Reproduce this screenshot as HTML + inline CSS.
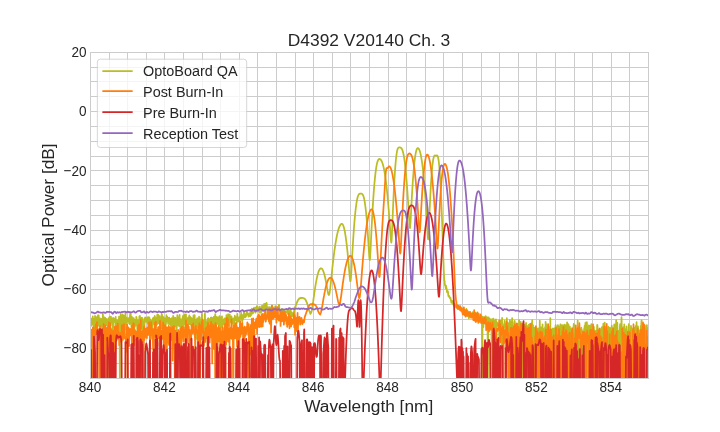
<!DOCTYPE html>
<html><head><meta charset="utf-8"><title>D4392 V20140 Ch. 3</title>
<style>html,body{margin:0;padding:0;background:#fff;overflow:hidden;}svg{display:block;}</style>
</head><body>
<svg width="720" height="432" viewBox="0 0 720 432" version="1.1">

 <defs>
  <style type="text/css">*{stroke-linejoin: round; stroke-linecap: butt}</style>
 </defs>
 <g id="figure_1">
  <g id="patch_1">
   <path d="M 0 432
L 720 432
L 720 0
L 0 0
z
" style="fill: #ffffff"/>
  </g>
  <g id="axes_1">
   <g id="patch_2">
    <path d="M 90 378
L 648 378
L 648 51.84
L 90 51.84
z
" style="fill: #ffffff"/>
   </g>
   <g id="matplotlib.axis_1">
    <g id="xtick_1">
     <g id="line2d_1">
      <path d="M 90.5 378.5 L 90.5 52.5" clip-path="url(#p30c51ce82e)" style="fill: none; stroke: #cccccc; stroke-linecap: round"/>
     </g>
     <g id="line2d_2"/>
     <g id="text_1">
      <text style="font-size: 14px; font-family: 'Liberation Sans', Arial, sans-serif; text-anchor: middle; fill: #262626" x="90" y="391.65" transform="translate(90.00 391.65) rotate(-0) scale(0.97 1.1) translate(-90.00 -391.65)">840</text>
     </g>
    </g>
    <g id="xtick_2">
     <g id="line2d_3">
      <path d="M 164.5 378.5 L 164.5 52.5" clip-path="url(#p30c51ce82e)" style="fill: none; stroke: #cccccc; stroke-linecap: round"/>
     </g>
     <g id="line2d_4"/>
     <g id="text_2">
      <text style="font-size: 14px; font-family: 'Liberation Sans', Arial, sans-serif; text-anchor: middle; fill: #262626" x="164.4" y="391.65" transform="translate(164.40 391.65) rotate(-0) scale(0.97 1.1) translate(-164.40 -391.65)">842</text>
     </g>
    </g>
    <g id="xtick_3">
     <g id="line2d_5">
      <path d="M 239.5 378.5 L 239.5 52.5" clip-path="url(#p30c51ce82e)" style="fill: none; stroke: #cccccc; stroke-linecap: round"/>
     </g>
     <g id="line2d_6"/>
     <g id="text_3">
      <text style="font-size: 14px; font-family: 'Liberation Sans', Arial, sans-serif; text-anchor: middle; fill: #262626" x="238.8" y="391.65" transform="translate(238.80 391.65) rotate(-0) scale(0.97 1.1) translate(-238.80 -391.65)">844</text>
     </g>
    </g>
    <g id="xtick_4">
     <g id="line2d_7">
      <path d="M 313.5 378.5 L 313.5 52.5" clip-path="url(#p30c51ce82e)" style="fill: none; stroke: #cccccc; stroke-linecap: round"/>
     </g>
     <g id="line2d_8"/>
     <g id="text_4">
      <text style="font-size: 14px; font-family: 'Liberation Sans', Arial, sans-serif; text-anchor: middle; fill: #262626" x="313.2" y="391.65" transform="translate(313.20 391.65) rotate(-0) scale(0.97 1.1) translate(-313.20 -391.65)">846</text>
     </g>
    </g>
    <g id="xtick_5">
     <g id="line2d_9">
      <path d="M 388.5 378.5 L 388.5 52.5" clip-path="url(#p30c51ce82e)" style="fill: none; stroke: #cccccc; stroke-linecap: round"/>
     </g>
     <g id="line2d_10"/>
     <g id="text_5">
      <text style="font-size: 14px; font-family: 'Liberation Sans', Arial, sans-serif; text-anchor: middle; fill: #262626" x="387.6" y="391.65" transform="translate(387.60 391.65) rotate(-0) scale(0.97 1.1) translate(-387.60 -391.65)">848</text>
     </g>
    </g>
    <g id="xtick_6">
     <g id="line2d_11">
      <path d="M 462.5 378.5 L 462.5 52.5" clip-path="url(#p30c51ce82e)" style="fill: none; stroke: #cccccc; stroke-linecap: round"/>
     </g>
     <g id="line2d_12"/>
     <g id="text_6">
      <text style="font-size: 14px; font-family: 'Liberation Sans', Arial, sans-serif; text-anchor: middle; fill: #262626" x="462" y="391.65" transform="translate(462.00 391.65) rotate(-0) scale(0.97 1.1) translate(-462.00 -391.65)">850</text>
     </g>
    </g>
    <g id="xtick_7">
     <g id="line2d_13">
      <path d="M 536.5 378.5 L 536.5 52.5" clip-path="url(#p30c51ce82e)" style="fill: none; stroke: #cccccc; stroke-linecap: round"/>
     </g>
     <g id="line2d_14"/>
     <g id="text_7">
      <text style="font-size: 14px; font-family: 'Liberation Sans', Arial, sans-serif; text-anchor: middle; fill: #262626" x="536.4" y="391.65" transform="translate(536.40 391.65) rotate(-0) scale(0.97 1.1) translate(-536.40 -391.65)">852</text>
     </g>
    </g>
    <g id="xtick_8">
     <g id="line2d_15">
      <path d="M 611.5 378.5 L 611.5 52.5" clip-path="url(#p30c51ce82e)" style="fill: none; stroke: #cccccc; stroke-linecap: round"/>
     </g>
     <g id="line2d_16"/>
     <g id="text_8">
      <text style="font-size: 14px; font-family: 'Liberation Sans', Arial, sans-serif; text-anchor: middle; fill: #262626" x="610.8" y="391.65" transform="translate(610.80 391.65) rotate(-0) scale(0.97 1.1) translate(-610.80 -391.65)">854</text>
     </g>
    </g>
    <g id="xtick_9">
     <g id="line2d_17">
      <path d="M 109.5 378.5 L 109.5 52.5" clip-path="url(#p30c51ce82e)" style="fill: none; stroke: #cccccc; stroke-linecap: round"/>
     </g>
     <g id="line2d_18"/>
    </g>
    <g id="xtick_10">
     <g id="line2d_19">
      <path d="M 127.5 378.5 L 127.5 52.5" clip-path="url(#p30c51ce82e)" style="fill: none; stroke: #cccccc; stroke-linecap: round"/>
     </g>
     <g id="line2d_20"/>
    </g>
    <g id="xtick_11">
     <g id="line2d_21">
      <path d="M 146.5 378.5 L 146.5 52.5" clip-path="url(#p30c51ce82e)" style="fill: none; stroke: #cccccc; stroke-linecap: round"/>
     </g>
     <g id="line2d_22"/>
    </g>
    <g id="xtick_12">
     <g id="line2d_23">
      <path d="M 183.5 378.5 L 183.5 52.5" clip-path="url(#p30c51ce82e)" style="fill: none; stroke: #cccccc; stroke-linecap: round"/>
     </g>
     <g id="line2d_24"/>
    </g>
    <g id="xtick_13">
     <g id="line2d_25">
      <path d="M 202.5 378.5 L 202.5 52.5" clip-path="url(#p30c51ce82e)" style="fill: none; stroke: #cccccc; stroke-linecap: round"/>
     </g>
     <g id="line2d_26"/>
    </g>
    <g id="xtick_14">
     <g id="line2d_27">
      <path d="M 220.5 378.5 L 220.5 52.5" clip-path="url(#p30c51ce82e)" style="fill: none; stroke: #cccccc; stroke-linecap: round"/>
     </g>
     <g id="line2d_28"/>
    </g>
    <g id="xtick_15">
     <g id="line2d_29">
      <path d="M 257.5 378.5 L 257.5 52.5" clip-path="url(#p30c51ce82e)" style="fill: none; stroke: #cccccc; stroke-linecap: round"/>
     </g>
     <g id="line2d_30"/>
    </g>
    <g id="xtick_16">
     <g id="line2d_31">
      <path d="M 276.5 378.5 L 276.5 52.5" clip-path="url(#p30c51ce82e)" style="fill: none; stroke: #cccccc; stroke-linecap: round"/>
     </g>
     <g id="line2d_32"/>
    </g>
    <g id="xtick_17">
     <g id="line2d_33">
      <path d="M 295.5 378.5 L 295.5 52.5" clip-path="url(#p30c51ce82e)" style="fill: none; stroke: #cccccc; stroke-linecap: round"/>
     </g>
     <g id="line2d_34"/>
    </g>
    <g id="xtick_18">
     <g id="line2d_35">
      <path d="M 332.5 378.5 L 332.5 52.5" clip-path="url(#p30c51ce82e)" style="fill: none; stroke: #cccccc; stroke-linecap: round"/>
     </g>
     <g id="line2d_36"/>
    </g>
    <g id="xtick_19">
     <g id="line2d_37">
      <path d="M 350.5 378.5 L 350.5 52.5" clip-path="url(#p30c51ce82e)" style="fill: none; stroke: #cccccc; stroke-linecap: round"/>
     </g>
     <g id="line2d_38"/>
    </g>
    <g id="xtick_20">
     <g id="line2d_39">
      <path d="M 369.5 378.5 L 369.5 52.5" clip-path="url(#p30c51ce82e)" style="fill: none; stroke: #cccccc; stroke-linecap: round"/>
     </g>
     <g id="line2d_40"/>
    </g>
    <g id="xtick_21">
     <g id="line2d_41">
      <path d="M 406.5 378.5 L 406.5 52.5" clip-path="url(#p30c51ce82e)" style="fill: none; stroke: #cccccc; stroke-linecap: round"/>
     </g>
     <g id="line2d_42"/>
    </g>
    <g id="xtick_22">
     <g id="line2d_43">
      <path d="M 425.5 378.5 L 425.5 52.5" clip-path="url(#p30c51ce82e)" style="fill: none; stroke: #cccccc; stroke-linecap: round"/>
     </g>
     <g id="line2d_44"/>
    </g>
    <g id="xtick_23">
     <g id="line2d_45">
      <path d="M 443.5 378.5 L 443.5 52.5" clip-path="url(#p30c51ce82e)" style="fill: none; stroke: #cccccc; stroke-linecap: round"/>
     </g>
     <g id="line2d_46"/>
    </g>
    <g id="xtick_24">
     <g id="line2d_47">
      <path d="M 481.5 378.5 L 481.5 52.5" clip-path="url(#p30c51ce82e)" style="fill: none; stroke: #cccccc; stroke-linecap: round"/>
     </g>
     <g id="line2d_48"/>
    </g>
    <g id="xtick_25">
     <g id="line2d_49">
      <path d="M 499.5 378.5 L 499.5 52.5" clip-path="url(#p30c51ce82e)" style="fill: none; stroke: #cccccc; stroke-linecap: round"/>
     </g>
     <g id="line2d_50"/>
    </g>
    <g id="xtick_26">
     <g id="line2d_51">
      <path d="M 518.5 378.5 L 518.5 52.5" clip-path="url(#p30c51ce82e)" style="fill: none; stroke: #cccccc; stroke-linecap: round"/>
     </g>
     <g id="line2d_52"/>
    </g>
    <g id="xtick_27">
     <g id="line2d_53">
      <path d="M 555.5 378.5 L 555.5 52.5" clip-path="url(#p30c51ce82e)" style="fill: none; stroke: #cccccc; stroke-linecap: round"/>
     </g>
     <g id="line2d_54"/>
    </g>
    <g id="xtick_28">
     <g id="line2d_55">
      <path d="M 574.5 378.5 L 574.5 52.5" clip-path="url(#p30c51ce82e)" style="fill: none; stroke: #cccccc; stroke-linecap: round"/>
     </g>
     <g id="line2d_56"/>
    </g>
    <g id="xtick_29">
     <g id="line2d_57">
      <path d="M 592.5 378.5 L 592.5 52.5" clip-path="url(#p30c51ce82e)" style="fill: none; stroke: #cccccc; stroke-linecap: round"/>
     </g>
     <g id="line2d_58"/>
    </g>
    <g id="xtick_30">
     <g id="line2d_59">
      <path d="M 629.5 378.5 L 629.5 52.5" clip-path="url(#p30c51ce82e)" style="fill: none; stroke: #cccccc; stroke-linecap: round"/>
     </g>
     <g id="line2d_60"/>
    </g>
    <g id="xtick_31">
     <g id="line2d_61">
      <path d="M 648.5 378.5 L 648.5 52.5" clip-path="url(#p30c51ce82e)" style="fill: none; stroke: #cccccc; stroke-linecap: round"/>
     </g>
     <g id="line2d_62"/>
    </g>
    <g id="text_9">
     <text style="font-size: 17.3px; font-family: 'Liberation Sans', Arial, sans-serif; text-anchor: middle; fill: #262626" x="368.70" y="411.89" transform="rotate(-0 368.70 411.89)">Wavelength [nm]</text>
    </g>
   </g>
   <g id="matplotlib.axis_2">
    <g id="ytick_1">
     <g id="line2d_63">
      <path d="M 90.5 348.5 L 648.5 348.5" clip-path="url(#p30c51ce82e)" style="fill: none; stroke: #cccccc; stroke-linecap: round"/>
     </g>
     <g id="line2d_64"/>
     <g id="text_10">
      <text style="font-size: 14px; font-family: 'Liberation Sans', Arial, sans-serif; text-anchor: end; fill: #262626" x="86.5" y="353.42" transform="translate(86.50 353.42) rotate(-0) scale(0.97 1.1) translate(-86.50 -353.42)">−80</text>
     </g>
    </g>
    <g id="ytick_2">
     <g id="line2d_65">
      <path d="M 90.5 289.5 L 648.5 289.5" clip-path="url(#p30c51ce82e)" style="fill: none; stroke: #cccccc; stroke-linecap: round"/>
     </g>
     <g id="line2d_66"/>
     <g id="text_11">
      <text style="font-size: 14px; font-family: 'Liberation Sans', Arial, sans-serif; text-anchor: end; fill: #262626" x="86.5" y="294.12" transform="translate(86.50 294.12) rotate(-0) scale(0.97 1.1) translate(-86.50 -294.12)">−60</text>
     </g>
    </g>
    <g id="ytick_3">
     <g id="line2d_67">
      <path d="M 90.5 230.5 L 648.5 230.5" clip-path="url(#p30c51ce82e)" style="fill: none; stroke: #cccccc; stroke-linecap: round"/>
     </g>
     <g id="line2d_68"/>
     <g id="text_12">
      <text style="font-size: 14px; font-family: 'Liberation Sans', Arial, sans-serif; text-anchor: end; fill: #262626" x="86.5" y="234.82" transform="translate(86.50 234.82) rotate(-0) scale(0.97 1.1) translate(-86.50 -234.82)">−40</text>
     </g>
    </g>
    <g id="ytick_4">
     <g id="line2d_69">
      <path d="M 90.5 170.5 L 648.5 170.5" clip-path="url(#p30c51ce82e)" style="fill: none; stroke: #cccccc; stroke-linecap: round"/>
     </g>
     <g id="line2d_70"/>
     <g id="text_13">
      <text style="font-size: 14px; font-family: 'Liberation Sans', Arial, sans-serif; text-anchor: end; fill: #262626" x="86.5" y="175.52" transform="translate(86.50 175.52) rotate(-0) scale(0.97 1.1) translate(-86.50 -175.52)">−20</text>
     </g>
    </g>
    <g id="ytick_5">
     <g id="line2d_71">
      <path d="M 90.5 111.5 L 648.5 111.5" clip-path="url(#p30c51ce82e)" style="fill: none; stroke: #cccccc; stroke-linecap: round"/>
     </g>
     <g id="line2d_72"/>
     <g id="text_14">
      <text style="font-size: 14px; font-family: 'Liberation Sans', Arial, sans-serif; text-anchor: end; fill: #262626" x="86.5" y="116.21" transform="translate(86.50 116.21) rotate(-0) scale(0.97 1.1) translate(-86.50 -116.21)">0</text>
     </g>
    </g>
    <g id="ytick_6">
     <g id="line2d_73">
      <path d="M 90.5 52.5 L 648.5 52.5" clip-path="url(#p30c51ce82e)" style="fill: none; stroke: #cccccc; stroke-linecap: round"/>
     </g>
     <g id="line2d_74"/>
     <g id="text_15">
      <text style="font-size: 14px; font-family: 'Liberation Sans', Arial, sans-serif; text-anchor: end; fill: #262626" x="86.5" y="56.91" transform="translate(86.50 56.91) rotate(-0) scale(0.97 1.1) translate(-86.50 -56.91)">20</text>
     </g>
    </g>
    <g id="ytick_7">
     <g id="line2d_75">
      <path d="M 90.5 378.5 L 648.5 378.5" clip-path="url(#p30c51ce82e)" style="fill: none; stroke: #cccccc; stroke-linecap: round"/>
     </g>
     <g id="line2d_76"/>
    </g>
    <g id="ytick_8">
     <g id="line2d_77">
      <path d="M 90.5 363.5 L 648.5 363.5" clip-path="url(#p30c51ce82e)" style="fill: none; stroke: #cccccc; stroke-linecap: round"/>
     </g>
     <g id="line2d_78"/>
    </g>
    <g id="ytick_9">
     <g id="line2d_79">
      <path d="M 90.5 334.5 L 648.5 334.5" clip-path="url(#p30c51ce82e)" style="fill: none; stroke: #cccccc; stroke-linecap: round"/>
     </g>
     <g id="line2d_80"/>
    </g>
    <g id="ytick_10">
     <g id="line2d_81">
      <path d="M 90.5 319.5 L 648.5 319.5" clip-path="url(#p30c51ce82e)" style="fill: none; stroke: #cccccc; stroke-linecap: round"/>
     </g>
     <g id="line2d_82"/>
    </g>
    <g id="ytick_11">
     <g id="line2d_83">
      <path d="M 90.5 304.5 L 648.5 304.5" clip-path="url(#p30c51ce82e)" style="fill: none; stroke: #cccccc; stroke-linecap: round"/>
     </g>
     <g id="line2d_84"/>
    </g>
    <g id="ytick_12">
     <g id="line2d_85">
      <path d="M 90.5 274.5 L 648.5 274.5" clip-path="url(#p30c51ce82e)" style="fill: none; stroke: #cccccc; stroke-linecap: round"/>
     </g>
     <g id="line2d_86"/>
    </g>
    <g id="ytick_13">
     <g id="line2d_87">
      <path d="M 90.5 259.5 L 648.5 259.5" clip-path="url(#p30c51ce82e)" style="fill: none; stroke: #cccccc; stroke-linecap: round"/>
     </g>
     <g id="line2d_88"/>
    </g>
    <g id="ytick_14">
     <g id="line2d_89">
      <path d="M 90.5 245.5 L 648.5 245.5" clip-path="url(#p30c51ce82e)" style="fill: none; stroke: #cccccc; stroke-linecap: round"/>
     </g>
     <g id="line2d_90"/>
    </g>
    <g id="ytick_15">
     <g id="line2d_91">
      <path d="M 90.5 215.5 L 648.5 215.5" clip-path="url(#p30c51ce82e)" style="fill: none; stroke: #cccccc; stroke-linecap: round"/>
     </g>
     <g id="line2d_92"/>
    </g>
    <g id="ytick_16">
     <g id="line2d_93">
      <path d="M 90.5 200.5 L 648.5 200.5" clip-path="url(#p30c51ce82e)" style="fill: none; stroke: #cccccc; stroke-linecap: round"/>
     </g>
     <g id="line2d_94"/>
    </g>
    <g id="ytick_17">
     <g id="line2d_95">
      <path d="M 90.5 185.5 L 648.5 185.5" clip-path="url(#p30c51ce82e)" style="fill: none; stroke: #cccccc; stroke-linecap: round"/>
     </g>
     <g id="line2d_96"/>
    </g>
    <g id="ytick_18">
     <g id="line2d_97">
      <path d="M 90.5 156.5 L 648.5 156.5" clip-path="url(#p30c51ce82e)" style="fill: none; stroke: #cccccc; stroke-linecap: round"/>
     </g>
     <g id="line2d_98"/>
    </g>
    <g id="ytick_19">
     <g id="line2d_99">
      <path d="M 90.5 141.5 L 648.5 141.5" clip-path="url(#p30c51ce82e)" style="fill: none; stroke: #cccccc; stroke-linecap: round"/>
     </g>
     <g id="line2d_100"/>
    </g>
    <g id="ytick_20">
     <g id="line2d_101">
      <path d="M 90.5 126.5 L 648.5 126.5" clip-path="url(#p30c51ce82e)" style="fill: none; stroke: #cccccc; stroke-linecap: round"/>
     </g>
     <g id="line2d_102"/>
    </g>
    <g id="ytick_21">
     <g id="line2d_103">
      <path d="M 90.5 96.5 L 648.5 96.5" clip-path="url(#p30c51ce82e)" style="fill: none; stroke: #cccccc; stroke-linecap: round"/>
     </g>
     <g id="line2d_104"/>
    </g>
    <g id="ytick_22">
     <g id="line2d_105">
      <path d="M 90.5 81.5 L 648.5 81.5" clip-path="url(#p30c51ce82e)" style="fill: none; stroke: #cccccc; stroke-linecap: round"/>
     </g>
     <g id="line2d_106"/>
    </g>
    <g id="ytick_23">
     <g id="line2d_107">
      <path d="M 90.5 67.5 L 648.5 67.5" clip-path="url(#p30c51ce82e)" style="fill: none; stroke: #cccccc; stroke-linecap: round"/>
     </g>
     <g id="line2d_108"/>
    </g>
    <g id="text_16">
     <text style="font-size: 17.3px; font-family: 'Liberation Sans', Arial, sans-serif; text-anchor: middle; fill: #262626" x="54.06" y="214.92" transform="rotate(-90 54.06 214.92)">Optical Power [dB]</text>
    </g>
   </g>
   <g id="line2d_109">
    <path d="M 90 321.31
L 90.28 319.24
L 90.56 324.25
L 90.84 326.09
L 91.12 322.29
L 91.39 318.72
L 91.67 321.11
L 91.95 323.07
L 92.23 323
L 92.51 324.78
L 92.79 316.44
L 93.07 320.82
L 93.35 322.25
L 93.63 318.52
L 93.91 327
L 94.19 320.85
L 94.46 325.81
L 94.74 330.36
L 95.02 315.84
L 95.3 318.85
L 95.58 320.87
L 95.86 319.49
L 96.14 323.01
L 96.42 323.81
L 96.7 317.03
L 96.97 318.94
L 97.25 328.98
L 97.53 325.69
L 97.81 316.11
L 98.09 315.05
L 98.37 323.49
L 98.65 315.33
L 98.93 319.07
L 99.21 325.79
L 99.49 326.03
L 99.77 320.92
L 100.04 318.33
L 100.32 323.6
L 100.6 323.43
L 100.88 325.6
L 101.16 326.89
L 101.44 322.81
L 101.72 318.89
L 102 320.7
L 102.28 320.6
L 102.56 328.27
L 102.83 313.79
L 103.11 317.5
L 103.39 323.82
L 103.67 324.92
L 103.95 319.19
L 104.23 322.89
L 104.51 317.44
L 104.79 322.66
L 105.07 317.63
L 105.34 325.62
L 105.62 321.23
L 105.9 323.52
L 106.18 323.75
L 106.46 325.2
L 106.74 318.78
L 107.02 324.04
L 107.3 325.57
L 107.58 324.5
L 107.86 392.83
L 108.14 321.73
L 108.41 326.13
L 108.69 318.48
L 108.97 318.09
L 109.25 318.06
L 109.53 316.92
L 109.81 320.01
L 110.09 329.04
L 110.37 321.84
L 110.65 325.56
L 110.92 316.66
L 111.2 321.98
L 111.48 322.81
L 111.76 321.87
L 112.04 319.16
L 112.32 323.19
L 112.6 323.06
L 112.88 334.3
L 113.16 317.75
L 113.44 327.53
L 113.72 323.02
L 113.99 320.13
L 114.27 322.2
L 114.55 320.77
L 114.83 318.42
L 115.11 319.05
L 115.39 320.31
L 115.67 316.86
L 115.95 326.55
L 116.23 320.8
L 116.5 320.51
L 116.78 324.96
L 117.06 320.16
L 117.34 323.41
L 117.62 324.09
L 117.9 334.6
L 118.18 328.53
L 118.46 322.03
L 118.74 322.18
L 119.02 316.68
L 119.3 324.95
L 119.57 326.23
L 119.85 392.83
L 120.13 318.3
L 120.41 321.59
L 120.69 314.35
L 120.97 320.05
L 121.25 318.8
L 121.53 326.52
L 121.81 325.06
L 122.08 321.85
L 122.36 317.55
L 122.64 314.44
L 122.92 318.4
L 123.2 319.75
L 123.48 327.38
L 123.76 315.55
L 124.04 317.45
L 124.32 323.08
L 124.6 323.73
L 124.88 329.56
L 125.15 326.65
L 125.43 311.77
L 125.71 321.84
L 125.99 321.39
L 126.27 324.51
L 126.55 320.88
L 126.83 317.61
L 127.11 321.77
L 127.39 320.21
L 127.67 321.33
L 127.94 320.26
L 128.22 319.5
L 128.5 321.2
L 128.78 318.2
L 129.06 323.35
L 129.34 321.05
L 129.62 324.21
L 129.9 317.1
L 130.18 313.49
L 130.46 318.97
L 130.73 313.93
L 131.01 320.9
L 131.29 323.95
L 131.57 333.9
L 131.85 316.84
L 132.13 325.21
L 132.41 324.93
L 132.69 317.98
L 132.97 319.65
L 133.25 319.28
L 133.52 323.18
L 133.8 318.11
L 134.08 328.39
L 134.36 328.18
L 134.64 319.72
L 134.92 326.72
L 135.2 323.53
L 135.48 321.04
L 135.76 324.09
L 136.03 324.98
L 136.31 316.75
L 136.59 317.78
L 136.87 323.68
L 137.15 326.79
L 137.43 332.06
L 137.71 323.38
L 137.99 320.36
L 138.27 324.31
L 138.55 323.37
L 138.82 321.6
L 139.1 322.14
L 139.38 316.34
L 139.66 329.25
L 139.94 315.78
L 140.22 325.75
L 140.5 318.81
L 140.78 318.57
L 141.06 323.66
L 141.34 320.82
L 141.62 317.78
L 141.89 328.79
L 142.17 317.77
L 142.45 319.04
L 142.73 321.68
L 143.01 333.19
L 143.29 321.13
L 143.57 321.63
L 143.85 323.99
L 144.13 325
L 144.41 327.31
L 144.68 318.15
L 144.96 320.39
L 145.24 317.33
L 145.52 319.77
L 145.8 318.56
L 146.08 321.97
L 146.36 320.55
L 146.64 318.59
L 146.92 318.33
L 147.19 317.41
L 147.47 320.94
L 147.75 324
L 148.03 317.5
L 148.31 326.57
L 148.59 326.39
L 148.87 317.14
L 149.15 322.98
L 149.43 317.7
L 149.71 323.05
L 149.99 323.94
L 150.26 319.38
L 150.54 332.96
L 150.82 330.13
L 151.1 320.65
L 151.38 324.36
L 151.66 322.72
L 151.94 327.53
L 152.22 333.19
L 152.5 331.17
L 152.78 318.7
L 153.05 324.65
L 153.33 317.69
L 153.61 323.02
L 153.89 320.88
L 154.17 320.06
L 154.45 321.73
L 154.73 315.92
L 155.01 327.44
L 155.29 317.58
L 155.56 327.7
L 155.84 317.53
L 156.12 319.89
L 156.4 320.64
L 156.68 322.42
L 156.96 324.65
L 157.24 314.73
L 157.52 323.6
L 157.8 314.8
L 158.08 320.08
L 158.35 314.81
L 158.63 317.91
L 158.91 319.41
L 159.19 323.79
L 159.47 322.27
L 159.75 316.12
L 160.03 321.9
L 160.31 328.52
L 160.59 319.14
L 160.87 324
L 161.15 325.77
L 161.42 328.23
L 161.7 314
L 161.98 314.43
L 162.26 322.4
L 162.54 329.84
L 162.82 322.52
L 163.1 316.92
L 163.38 319.12
L 163.66 317.3
L 163.94 321.3
L 164.21 320.66
L 164.49 325.59
L 164.77 319.53
L 165.05 320.77
L 165.33 318.4
L 165.61 321.81
L 165.89 324.33
L 166.17 319.71
L 166.45 315.03
L 166.72 321.45
L 167 321.46
L 167.28 316.71
L 167.56 320.97
L 167.84 317.62
L 168.12 323.76
L 168.4 321.26
L 168.68 321.38
L 168.96 323.95
L 169.24 317.66
L 169.51 322.74
L 169.79 321.14
L 170.07 324.76
L 170.35 318.95
L 170.63 325.04
L 170.91 321.63
L 171.19 320.95
L 171.47 327.06
L 171.75 318.12
L 172.03 326.02
L 172.31 326.76
L 172.58 324.75
L 172.86 326.26
L 173.14 315.79
L 173.42 318.89
L 173.7 319.45
L 173.98 320.48
L 174.26 318.7
L 174.54 326.75
L 174.82 317.72
L 175.09 320.5
L 175.37 317.86
L 175.65 323.45
L 175.93 321.67
L 176.21 326.88
L 176.49 332.19
L 176.77 327.53
L 177.05 323.1
L 177.33 315.15
L 177.61 318.79
L 177.88 324.63
L 178.16 320.68
L 178.44 325.38
L 178.72 317.06
L 179 319.07
L 179.28 326.29
L 179.56 314.81
L 179.84 322.61
L 180.12 318.91
L 180.4 321.16
L 180.68 332.44
L 180.95 320.77
L 181.23 329.31
L 181.51 334.98
L 181.79 320.12
L 182.07 319.22
L 182.35 318.04
L 182.63 327.45
L 182.91 316.35
L 183.19 315.56
L 183.47 333.48
L 183.74 325.21
L 184.02 317.11
L 184.3 321.66
L 184.58 314.49
L 184.86 320.95
L 185.14 323.39
L 185.42 324.68
L 185.7 315.77
L 185.98 314.42
L 186.25 327.72
L 186.53 322.64
L 186.81 322.56
L 187.09 318.54
L 187.37 322.7
L 187.65 328.71
L 187.93 322.87
L 188.21 317.26
L 188.49 317.83
L 188.77 324.11
L 189.04 319.56
L 189.32 315.28
L 189.6 318.63
L 189.88 323.32
L 190.16 324.66
L 190.44 317.05
L 190.72 320.66
L 191 317.95
L 191.28 318.71
L 191.56 318.12
L 191.84 325.36
L 192.11 319.16
L 192.39 322.82
L 192.67 321.38
L 192.95 323.49
L 193.23 324.65
L 193.51 315.37
L 193.79 322.26
L 194.07 323.1
L 194.35 319.7
L 194.62 315.07
L 194.9 322.52
L 195.18 327.07
L 195.46 331.5
L 195.74 319.82
L 196.02 338.89
L 196.3 320.52
L 196.58 329.19
L 196.86 325.03
L 197.14 318.21
L 197.41 322.43
L 197.69 326.22
L 197.97 320.17
L 198.25 327.26
L 198.53 318.96
L 198.81 320.49
L 199.09 316.72
L 199.37 321.3
L 199.65 317.28
L 199.93 321.15
L 200.21 321.28
L 200.48 325.69
L 200.76 321.67
L 201.04 325.78
L 201.32 322.58
L 201.6 322.64
L 201.88 313.94
L 202.16 321.9
L 202.44 323.53
L 202.72 329.44
L 203 330.22
L 203.27 320.87
L 203.55 331.64
L 203.83 336.72
L 204.11 326.06
L 204.39 322.17
L 204.67 318.47
L 204.95 313.45
L 205.23 328.38
L 205.51 326.36
L 205.78 321.38
L 206.06 330.84
L 206.34 321.41
L 206.62 324.46
L 206.9 326.06
L 207.18 320.4
L 207.46 321.21
L 207.74 318.62
L 208.02 323.74
L 208.3 318.1
L 208.57 328.79
L 208.85 319.12
L 209.13 323.61
L 209.41 327.49
L 209.69 322.73
L 209.97 318.89
L 210.25 320.2
L 210.53 320.77
L 210.81 317.62
L 211.09 323.66
L 211.37 317.57
L 211.64 325.08
L 211.92 317.71
L 212.2 317.94
L 212.48 320.6
L 212.76 318.2
L 213.04 338.96
L 213.32 319.35
L 213.6 324.37
L 213.88 316.73
L 214.16 329.94
L 214.43 316.48
L 214.71 343.48
L 214.99 319.64
L 215.27 314.07
L 215.55 325.25
L 215.83 317.94
L 216.11 324.06
L 216.39 317.22
L 216.67 316.91
L 216.94 318.68
L 217.22 318.23
L 217.5 317.62
L 217.78 324.01
L 218.06 317.37
L 218.34 321.99
L 218.62 324.06
L 218.9 324.46
L 219.18 323.13
L 219.46 316.14
L 219.74 322.3
L 220.01 325.12
L 220.29 334.22
L 220.57 328.49
L 220.85 317.29
L 221.13 318.29
L 221.41 323.88
L 221.69 318.71
L 221.97 316.27
L 222.25 327
L 222.53 325.9
L 222.8 324.78
L 223.08 323.94
L 223.36 320.3
L 223.64 324.35
L 223.92 319.13
L 224.2 319.43
L 224.48 324.3
L 224.76 318.47
L 225.04 324.15
L 225.31 328.87
L 225.59 328.67
L 225.87 326.35
L 226.15 322.45
L 226.43 315.23
L 226.71 320.44
L 226.99 317.25
L 227.27 321.85
L 227.55 320.94
L 227.83 325.57
L 228.1 314.24
L 228.38 322.52
L 228.66 320.97
L 228.94 323.26
L 229.22 326.3
L 229.5 315.1
L 229.78 314.5
L 230.06 321.4
L 230.34 319.18
L 230.62 319.27
L 230.9 322.27
L 231.17 319.72
L 231.45 316.35
L 231.73 323.78
L 232.01 319.27
L 232.29 322.31
L 232.57 323.86
L 232.85 320.2
L 233.13 318.26
L 233.41 322.31
L 233.69 319.9
L 233.96 320.06
L 234.24 324.55
L 234.52 321.43
L 234.8 315.72
L 235.08 318.32
L 235.36 316.75
L 235.64 318.47
L 235.92 318.07
L 236.2 320.35
L 236.47 317.36
L 236.75 323.42
L 237.03 319.08
L 237.31 313.8
L 237.59 319.59
L 237.87 321.05
L 238.15 318.71
L 238.43 321.56
L 238.71 318.38
L 238.99 317.66
L 239.26 317.07
L 239.54 320.3
L 239.82 317.43
L 240.1 317.21
L 240.38 318.11
L 240.66 315.34
L 240.94 315.06
L 241.22 312.97
L 241.5 319.51
L 241.78 314.64
L 242.06 320.69
L 242.33 321.8
L 242.61 317.33
L 242.89 317.21
L 243.17 318.94
L 243.45 315.16
L 243.73 315.55
L 244.01 312.24
L 244.29 317.21
L 244.57 315.32
L 244.84 316.81
L 245.12 317.53
L 245.4 314.35
L 245.68 314.13
L 245.96 316.59
L 246.24 313.83
L 246.52 312.65
L 246.8 310.83
L 247.08 313.87
L 247.36 312.75
L 247.63 312.92
L 247.91 315.2
L 248.19 313.79
L 248.47 316.67
L 248.75 315.08
L 249.03 315.05
L 249.31 313.65
L 249.59 314.54
L 249.87 313.64
L 250.15 316.45
L 250.43 311.9
L 250.7 310.1
L 250.98 315.36
L 251.26 311.46
L 251.54 313.2
L 251.82 308.69
L 252.1 313.32
L 252.38 309.47
L 252.66 313.57
L 252.94 313.33
L 253.22 312.26
L 253.49 312.08
L 253.77 310.14
L 254.05 307.74
L 254.33 309.97
L 254.61 309.92
L 254.89 310.18
L 255.17 309.64
L 255.45 312.69
L 255.73 307.7
L 256 311.49
L 256.28 311.35
L 256.56 310.52
L 256.84 306.12
L 257.12 306.55
L 257.4 307.71
L 257.68 310.86
L 257.96 310.59
L 258.24 308.67
L 258.52 310.78
L 258.8 311.66
L 259.07 310.92
L 259.35 306.53
L 259.63 312.51
L 259.91 311.01
L 260.19 309.46
L 260.47 309.58
L 260.75 309.21
L 261.03 312.82
L 261.31 306.83
L 261.58 306.03
L 261.86 310.99
L 262.14 307.61
L 262.42 309.03
L 262.7 305.64
L 262.98 307.23
L 263.26 310.05
L 263.54 308.42
L 263.82 308.92
L 264.1 304
L 264.38 307.7
L 264.65 310.95
L 264.93 310.07
L 265.21 303.51
L 265.49 315.68
L 265.77 308.57
L 266.05 306.27
L 266.33 306.87
L 266.61 302.82
L 266.89 308.06
L 267.17 307.96
L 267.44 307.11
L 267.72 308.48
L 268 307.75
L 268.28 308.2
L 268.56 307.23
L 268.84 307.56
L 269.12 308
L 269.4 308.84
L 269.68 307.07
L 269.95 310.51
L 270.23 310.2
L 270.51 311.61
L 270.79 309.12
L 271.07 307.33
L 271.35 307.89
L 271.63 309.67
L 271.91 309.25
L 272.19 305.55
L 272.47 310.43
L 272.75 307.07
L 273.02 312.59
L 273.3 307.98
L 273.58 307.95
L 273.86 310.03
L 274.14 312.18
L 274.42 307.84
L 274.7 309.93
L 274.98 309.49
L 275.26 306.18
L 275.54 308.84
L 275.81 311.87
L 276.09 311.78
L 276.37 307.7
L 276.65 310.04
L 276.93 310.32
L 277.21 309.18
L 277.49 308.28
L 277.77 310.29
L 278.05 307.38
L 278.32 308.98
L 278.6 309.22
L 278.88 304.96
L 279.16 304.9
L 279.44 310.96
L 279.72 309.29
L 280 309.4
L 280.28 311.61
L 280.56 311.2
L 280.84 310.7
L 281.12 312.77
L 281.39 311.19
L 281.67 310.86
L 281.95 308.87
L 282.23 315.38
L 282.51 309.53
L 282.79 315.77
L 283.07 310.84
L 283.35 310.67
L 283.63 312.55
L 283.9 310.7
L 284.18 314.8
L 284.46 316.46
L 284.74 314.72
L 285.02 311.33
L 285.3 311.86
L 285.58 312.51
L 285.86 311.03
L 286.14 312.11
L 286.42 311.8
L 286.69 311.16
L 286.97 311.77
L 287.25 312.56
L 287.53 313.9
L 287.81 312.15
L 288.09 309.19
L 288.37 312.68
L 288.65 311.95
L 288.93 309.77
L 289.21 315
L 289.49 310.56
L 289.76 313.7
L 290.04 312.49
L 290.32 314.08
L 290.6 309.59
L 290.88 317.16
L 291.16 311.83
L 291.44 315.96
L 291.72 313.8
L 292 315.2
L 292.27 316.11
L 292.55 313.87
L 292.83 312.85
L 293.11 315.51
L 293.39 312.45
L 293.67 312.04
L 293.95 312.83
L 294.23 310.53
L 294.51 307.65
L 294.79 307.05
L 295.06 308.1
L 295.34 308.6
L 295.62 305.81
L 295.9 305.29
L 296.18 304.13
L 296.46 303.68
L 296.74 302.93
L 297.02 302.49
L 297.3 301.11
L 297.58 301.28
L 297.86 300.52
L 298.13 299.85
L 298.41 299.43
L 298.69 299.47
L 298.97 299.13
L 299.25 298.4
L 299.53 298.31
L 299.81 298.11
L 300.09 298.06
L 300.37 298.19
L 300.64 298.12
L 300.92 297.78
L 301.2 298.09
L 301.48 297.8
L 301.76 297.88
L 302.04 297.85
L 302.32 297.84
L 302.6 297.81
L 302.88 298
L 303.16 298
L 303.44 298.32
L 303.71 298.2
L 303.99 298.44
L 304.27 298.52
L 304.55 298.56
L 304.83 298.95
L 305.11 299.14
L 305.39 299.67
L 305.67 300.02
L 305.95 300.63
L 306.23 301.48
L 306.5 301.87
L 306.78 302.51
L 307.06 303.2
L 307.34 304.06
L 307.62 304.97
L 307.9 305.68
L 308.18 306.72
L 308.46 307.96
L 308.74 308.64
L 309.01 310.41
L 309.29 310.91
L 309.57 311.73
L 309.85 311.96
L 310.13 313.17
L 310.41 313.83
L 310.69 313.29
L 310.97 312.46
L 311.25 312.57
L 311.53 311.61
L 311.81 310.43
L 312.08 308.88
L 312.36 306.9
L 312.64 304.97
L 312.92 303.36
L 313.2 301.45
L 313.48 299.15
L 313.76 297.34
L 314.04 295.31
L 314.32 293.35
L 314.6 291.4
L 314.87 289.47
L 315.15 287.68
L 315.43 285.88
L 315.71 284.22
L 315.99 282.59
L 316.27 281.09
L 316.55 279.64
L 316.83 278.27
L 317.11 276.99
L 317.38 275.8
L 317.66 274.67
L 317.94 273.69
L 318.22 272.77
L 318.5 271.89
L 318.78 271.14
L 319.06 270.45
L 319.34 269.9
L 319.62 269.42
L 319.9 268.98
L 320.18 268.69
L 320.45 268.48
L 320.73 268.35
L 321.01 268.29
L 321.29 268.34
L 321.57 268.46
L 321.85 268.67
L 322.13 269
L 322.41 269.38
L 322.69 269.84
L 322.96 270.39
L 323.24 271.05
L 323.52 271.8
L 323.8 272.59
L 324.08 273.52
L 324.36 274.5
L 324.64 275.56
L 324.92 276.75
L 325.2 277.89
L 325.48 279.24
L 325.75 280.66
L 326.03 282.14
L 326.31 283.69
L 326.59 285.2
L 326.87 286.79
L 327.15 288.46
L 327.43 290.04
L 327.71 291.49
L 327.99 292.88
L 328.27 294.13
L 328.55 294.66
L 328.82 294.98
L 329.1 294.66
L 329.38 293.93
L 329.66 292.62
L 329.94 290.69
L 330.22 288.38
L 330.5 285.83
L 330.78 283.21
L 331.06 280.59
L 331.33 277.9
L 331.61 275.15
L 331.89 272.43
L 332.17 269.78
L 332.45 267.18
L 332.73 264.64
L 333.01 262.19
L 333.29 259.8
L 333.57 257.47
L 333.85 255.23
L 334.12 253.04
L 334.4 250.96
L 334.68 248.94
L 334.96 247
L 335.24 245.14
L 335.52 243.36
L 335.8 241.65
L 336.08 240.03
L 336.36 238.48
L 336.64 237.01
L 336.92 235.62
L 337.19 234.31
L 337.47 233.08
L 337.75 231.93
L 338.03 230.85
L 338.31 229.86
L 338.59 228.94
L 338.87 228.1
L 339.15 227.34
L 339.43 226.65
L 339.7 226.04
L 339.98 225.5
L 340.26 225.04
L 340.54 224.64
L 340.82 224.32
L 341.1 224.07
L 341.38 223.9
L 341.66 223.82
L 341.94 223.83
L 342.22 223.95
L 342.5 224.19
L 342.77 224.56
L 343.05 225.07
L 343.33 225.73
L 343.61 226.53
L 343.89 227.48
L 344.17 228.56
L 344.45 229.8
L 344.73 231.17
L 345.01 232.67
L 345.29 234.31
L 345.56 236.08
L 345.84 237.99
L 346.12 240.03
L 346.4 242.21
L 346.68 244.51
L 346.96 246.94
L 347.24 249.51
L 347.52 252.21
L 347.8 255.04
L 348.07 258
L 348.35 261.09
L 348.63 264.28
L 348.91 267.58
L 349.19 270.93
L 349.47 274.26
L 349.75 277.31
L 350.03 279.89
L 350.31 281.26
L 350.59 280.91
L 350.87 278.69
L 351.14 274.94
L 351.42 270.24
L 351.7 265.19
L 351.98 260.03
L 352.26 254.95
L 352.54 250.02
L 352.82 245.28
L 353.1 240.75
L 353.38 236.43
L 353.65 232.33
L 353.93 228.45
L 354.21 224.79
L 354.49 221.34
L 354.77 218.12
L 355.05 215.11
L 355.33 212.32
L 355.61 209.74
L 355.89 207.38
L 356.17 205.24
L 356.44 203.3
L 356.72 201.56
L 357 200.03
L 357.28 198.7
L 357.56 197.55
L 357.84 196.58
L 358.12 195.78
L 358.4 195.14
L 358.68 194.63
L 358.96 194.26
L 359.24 193.98
L 359.51 193.8
L 359.79 193.68
L 360.07 193.61
L 360.35 193.58
L 360.63 193.56
L 360.91 193.57
L 361.19 193.59
L 361.47 193.64
L 361.75 193.73
L 362.02 193.88
L 362.3 194.1
L 362.58 194.42
L 362.86 194.86
L 363.14 195.44
L 363.42 196.17
L 363.7 197.06
L 363.98 198.13
L 364.26 199.39
L 364.54 200.85
L 364.81 202.51
L 365.09 204.37
L 365.37 206.45
L 365.65 208.74
L 365.93 211.24
L 366.21 213.97
L 366.49 216.92
L 366.77 220.08
L 367.05 223.47
L 367.33 227.08
L 367.61 230.92
L 367.88 234.97
L 368.16 239.23
L 368.44 243.68
L 368.72 248.25
L 369 252.77
L 369.28 256.83
L 369.56 259.62
L 369.84 260.06
L 370.12 257.62
L 370.39 253.03
L 370.67 247.41
L 370.95 241.46
L 371.23 235.54
L 371.51 229.78
L 371.79 224.23
L 372.07 218.91
L 372.35 213.83
L 372.63 208.99
L 372.91 204.39
L 373.19 200.03
L 373.46 195.91
L 373.74 192.03
L 374.02 188.39
L 374.3 184.98
L 374.58 181.8
L 374.86 178.86
L 375.14 176.14
L 375.42 173.64
L 375.7 171.37
L 375.98 169.31
L 376.25 167.46
L 376.53 165.82
L 376.81 164.38
L 377.09 163.14
L 377.37 162.08
L 377.65 161.19
L 377.93 160.48
L 378.21 159.92
L 378.49 159.51
L 378.76 159.22
L 379.04 159.05
L 379.32 158.98
L 379.6 158.99
L 379.88 159.08
L 380.16 159.23
L 380.44 159.46
L 380.72 159.74
L 381 160.09
L 381.28 160.5
L 381.56 160.99
L 381.83 161.56
L 382.11 162.21
L 382.39 162.95
L 382.67 163.77
L 382.95 164.7
L 383.23 165.73
L 383.51 166.86
L 383.79 168.1
L 384.07 169.45
L 384.35 170.91
L 384.62 172.5
L 384.9 174.2
L 385.18 176.02
L 385.46 177.97
L 385.74 180.04
L 386.02 182.23
L 386.3 184.55
L 386.58 187
L 386.86 189.58
L 387.13 192.28
L 387.41 195.12
L 387.69 198.08
L 387.97 201.18
L 388.25 204.41
L 388.53 207.77
L 388.81 211.26
L 389.09 214.88
L 389.37 218.63
L 389.65 222.51
L 389.93 226.51
L 390.2 230.6
L 390.48 234.68
L 390.76 238.52
L 391.04 241.52
L 391.32 242.56
L 391.6 240.58
L 391.88 235.77
L 392.16 229.35
L 392.44 222.39
L 392.71 215.43
L 392.99 208.71
L 393.27 202.31
L 393.55 196.26
L 393.83 190.57
L 394.11 185.25
L 394.39 180.3
L 394.67 175.71
L 394.95 171.49
L 395.23 167.63
L 395.5 164.14
L 395.78 161.01
L 396.06 158.24
L 396.34 155.83
L 396.62 153.77
L 396.9 152.04
L 397.18 150.65
L 397.46 149.57
L 397.74 148.76
L 398.02 148.2
L 398.3 147.84
L 398.57 147.62
L 398.85 147.51
L 399.13 147.45
L 399.41 147.44
L 399.69 147.44
L 399.97 147.46
L 400.25 147.51
L 400.53 147.6
L 400.81 147.73
L 401.08 147.92
L 401.36 148.19
L 401.64 148.55
L 401.92 149.02
L 402.2 149.6
L 402.48 150.32
L 402.76 151.18
L 403.04 152.2
L 403.32 153.37
L 403.6 154.72
L 403.88 156.24
L 404.15 157.94
L 404.43 159.82
L 404.71 161.89
L 404.99 164.15
L 405.27 166.6
L 405.55 169.24
L 405.83 172.07
L 406.11 175.09
L 406.39 178.31
L 406.67 181.73
L 406.94 185.34
L 407.22 189.14
L 407.5 193.14
L 407.78 197.33
L 408.06 201.72
L 408.34 206.28
L 408.62 211
L 408.9 215.81
L 409.18 220.52
L 409.45 224.72
L 409.73 227.58
L 410.01 228.06
L 410.29 225.78
L 410.57 221.51
L 410.85 216.28
L 411.13 210.79
L 411.41 205.36
L 411.69 200.12
L 411.97 195.13
L 412.25 190.39
L 412.52 185.92
L 412.8 181.72
L 413.08 177.78
L 413.36 174.11
L 413.64 170.7
L 413.92 167.55
L 414.2 164.66
L 414.48 162.01
L 414.76 159.61
L 415.04 157.46
L 415.31 155.54
L 415.59 153.86
L 415.87 152.41
L 416.15 151.19
L 416.43 150.18
L 416.71 149.39
L 416.99 148.8
L 417.27 148.4
L 417.55 148.17
L 417.82 148.09
L 418.1 148.16
L 418.38 148.37
L 418.66 148.69
L 418.94 149.12
L 419.22 149.67
L 419.5 150.33
L 419.78 151.12
L 420.06 152.02
L 420.34 153.05
L 420.62 154.22
L 420.89 155.52
L 421.17 156.96
L 421.45 158.55
L 421.73 160.29
L 422.01 162.19
L 422.29 164.24
L 422.57 166.44
L 422.85 168.81
L 423.13 171.35
L 423.4 174.05
L 423.68 176.92
L 423.96 179.95
L 424.24 183.16
L 424.52 186.54
L 424.8 190.09
L 425.08 193.82
L 425.36 197.72
L 425.64 201.79
L 425.92 206.04
L 426.19 210.47
L 426.47 215.07
L 426.75 219.83
L 427.03 224.71
L 427.31 229.63
L 427.59 234.29
L 427.87 237.96
L 428.15 239.28
L 428.43 237.17
L 428.71 232.19
L 428.99 225.81
L 429.26 219.07
L 429.54 212.45
L 429.82 206.12
L 430.1 200.15
L 430.38 194.56
L 430.66 189.35
L 430.94 184.53
L 431.22 180.1
L 431.5 176.06
L 431.77 172.4
L 432.05 169.13
L 432.33 166.24
L 432.61 163.72
L 432.89 161.57
L 433.17 159.78
L 433.45 158.34
L 433.73 157.22
L 434.01 156.41
L 434.29 155.87
L 434.56 155.57
L 434.84 155.44
L 435.12 155.45
L 435.4 155.51
L 435.68 155.59
L 435.96 155.62
L 436.24 155.59
L 436.52 155.51
L 436.8 155.44
L 437.08 155.46
L 437.36 155.64
L 437.63 156.09
L 437.91 156.85
L 438.19 157.98
L 438.47 159.52
L 438.75 161.49
L 439.03 163.91
L 439.31 166.79
L 439.59 170.14
L 439.87 173.95
L 440.14 178.23
L 440.42 182.98
L 440.7 188.21
L 440.98 193.92
L 441.26 200.09
L 441.54 206.75
L 441.82 213.87
L 442.1 221.45
L 442.38 229.49
L 442.66 237.89
L 442.94 246.62
L 443.21 255.11
L 443.49 262.35
L 443.77 270.68
L 444.05 275.69
L 444.33 280.78
L 444.61 281.02
L 444.89 285.08
L 445.17 285.33
L 445.45 286.19
L 445.73 288.41
L 446 285.56
L 446.28 288.74
L 446.56 287.95
L 446.84 290.85
L 447.12 292.36
L 447.4 291.68
L 447.68 292.53
L 447.96 291.25
L 448.24 295.28
L 448.51 296.3
L 448.79 296.11
L 449.07 295.79
L 449.35 296.13
L 449.63 297.87
L 449.91 298.08
L 450.19 297.86
L 450.47 297.95
L 450.75 300.02
L 451.03 299.86
L 451.31 302.78
L 451.58 301.73
L 451.86 300.94
L 452.14 301.77
L 452.42 302.37
L 452.7 301.22
L 452.98 303.35
L 453.26 304.52
L 453.54 303.8
L 453.82 304.25
L 454.1 305.73
L 454.37 304.1
L 454.65 303.75
L 454.93 306.07
L 455.21 306.6
L 455.49 306.17
L 455.77 305.27
L 456.05 307.16
L 456.33 307.58
L 456.61 307.74
L 456.88 307.23
L 457.16 307.39
L 457.44 307.87
L 457.72 306.78
L 458 305.99
L 458.28 308.64
L 458.56 307.33
L 458.84 308.15
L 459.12 306.19
L 459.4 309.49
L 459.68 309.13
L 459.95 308.85
L 460.23 310.45
L 460.51 309.43
L 460.79 308.66
L 461.07 310.92
L 461.35 309.51
L 461.63 307.98
L 461.91 310.51
L 462.19 310.97
L 462.46 312.8
L 462.74 310.4
L 463.02 311.94
L 463.3 309.85
L 463.58 309
L 463.86 310.46
L 464.14 312.06
L 464.42 310.39
L 464.7 312.2
L 464.98 312.38
L 465.25 312.65
L 465.53 311.01
L 465.81 312.16
L 466.09 311.11
L 466.37 308.87
L 466.65 311.56
L 466.93 311.24
L 467.21 314.4
L 467.49 310.89
L 467.77 312.71
L 468.05 311.26
L 468.32 314.58
L 468.6 312.14
L 468.88 318.28
L 469.16 315.26
L 469.44 314.18
L 469.72 315.02
L 470 312.45
L 470.28 315.5
L 470.56 313.68
L 470.83 315.06
L 471.11 314.23
L 471.39 313.81
L 471.67 316.55
L 471.95 314.84
L 472.23 314.45
L 472.51 313.3
L 472.79 312.24
L 473.07 315.69
L 473.35 315
L 473.62 318.9
L 473.9 315.44
L 474.18 315.25
L 474.46 314.51
L 474.74 315.83
L 475.02 316.75
L 475.3 315.36
L 475.58 317.88
L 475.86 312.62
L 476.14 315.76
L 476.42 318.14
L 476.69 315.8
L 476.97 315.05
L 477.25 314.13
L 477.53 314.56
L 477.81 313.55
L 478.09 315.78
L 478.37 320.34
L 478.65 318.86
L 478.93 313.83
L 479.2 317.2
L 479.48 315.94
L 479.76 318.98
L 480.04 316.71
L 480.32 318.92
L 480.6 319.39
L 480.88 315.74
L 481.16 318.89
L 481.44 316.97
L 481.72 320.45
L 482 316.95
L 482.27 392.83
L 482.55 316.72
L 482.83 317.22
L 483.11 317.13
L 483.39 327.01
L 483.67 317.02
L 483.95 320.82
L 484.23 317.42
L 484.51 321.37
L 484.79 318.37
L 485.06 317.52
L 485.34 322.64
L 485.62 316.06
L 485.9 323.32
L 486.18 317.25
L 486.46 322.42
L 486.74 319.07
L 487.02 317.17
L 487.3 324.21
L 487.57 323.84
L 487.85 392.83
L 488.13 329
L 488.41 318.47
L 488.69 317.33
L 488.97 325.12
L 489.25 321.11
L 489.53 325.17
L 489.81 318.94
L 490.09 319.09
L 490.37 321.06
L 490.64 324.17
L 490.92 324.13
L 491.2 321.41
L 491.48 321.44
L 491.76 392.83
L 492.04 319.06
L 492.32 322.92
L 492.6 392.83
L 492.88 323.71
L 493.15 322.26
L 493.43 318.55
L 493.71 335.28
L 493.99 329.92
L 494.27 325.03
L 494.55 324.21
L 494.83 320.64
L 495.11 320.84
L 495.39 392.83
L 495.67 321.31
L 495.94 319.38
L 496.22 327.12
L 496.5 328.18
L 496.78 325.61
L 497.06 322.3
L 497.34 324.58
L 497.62 323.73
L 497.9 325.07
L 498.18 325.06
L 498.46 325.99
L 498.74 324.13
L 499.01 324.49
L 499.29 340.4
L 499.57 320.26
L 499.85 335.41
L 500.13 322.71
L 500.41 324.5
L 500.69 320.97
L 500.97 325.73
L 501.25 328.71
L 501.52 330.05
L 501.8 392.83
L 502.08 317.95
L 502.36 392.83
L 502.64 392.83
L 502.92 329.77
L 503.2 328.19
L 503.48 328.04
L 503.76 327.99
L 504.04 323.95
L 504.31 326.25
L 504.59 320.54
L 504.87 326.54
L 505.15 327.96
L 505.43 328.16
L 505.71 324.73
L 505.99 323.92
L 506.27 329.03
L 506.55 332.8
L 506.83 318.15
L 507.11 327.11
L 507.38 330.94
L 507.66 322.49
L 507.94 329.81
L 508.22 392.83
L 508.5 392.83
L 508.78 325.75
L 509.06 323.68
L 509.34 323.15
L 509.62 329.43
L 509.89 320.21
L 510.17 335.2
L 510.45 323.41
L 510.73 328.91
L 511.01 392.83
L 511.29 321.45
L 511.57 341.49
L 511.85 332.96
L 512.13 318.21
L 512.41 322.76
L 512.68 392.83
L 512.96 331.42
L 513.24 331.26
L 513.52 330.42
L 513.8 392.83
L 514.08 392.83
L 514.36 323.31
L 514.64 320.95
L 514.92 323.16
L 515.2 328.88
L 515.48 325.87
L 515.75 392.83
L 516.03 392.83
L 516.31 330.97
L 516.59 326.51
L 516.87 338.27
L 517.15 326.6
L 517.43 323.83
L 517.71 326.58
L 517.99 333.72
L 518.26 331.89
L 518.54 392.83
L 518.82 346.91
L 519.1 320.15
L 519.38 325.71
L 519.66 330.84
L 519.94 330.18
L 520.22 329.3
L 520.5 392.83
L 520.78 321.91
L 521.05 333.1
L 521.33 331.59
L 521.61 329.59
L 521.89 335.94
L 522.17 328.8
L 522.45 323.58
L 522.73 324.96
L 523.01 392.83
L 523.29 392.83
L 523.57 392.83
L 523.85 330.43
L 524.12 331.48
L 524.4 324.66
L 524.68 332.18
L 524.96 329.88
L 525.24 325.64
L 525.52 392.83
L 525.8 325.54
L 526.08 322.91
L 526.36 335.01
L 526.63 392.83
L 526.91 325.83
L 527.19 327.87
L 527.47 328.77
L 527.75 392.83
L 528.03 392.83
L 528.31 326.82
L 528.59 324.88
L 528.87 392.83
L 529.15 342.72
L 529.42 392.83
L 529.7 326.04
L 529.98 323.93
L 530.26 326.3
L 530.54 392.83
L 530.82 330.01
L 531.1 328.59
L 531.38 328.68
L 531.66 322.86
L 531.94 392.83
L 532.22 320.2
L 532.49 332.38
L 532.77 338.56
L 533.05 325.18
L 533.33 392.83
L 533.61 392.83
L 533.89 392.83
L 534.17 392.83
L 534.45 328.66
L 534.73 327.55
L 535 328.76
L 535.28 392.83
L 535.56 336.02
L 535.84 326.16
L 536.12 392.83
L 536.4 329.2
L 536.68 333.86
L 536.96 392.83
L 537.24 392.83
L 537.52 392.83
L 537.79 328.58
L 538.07 392.83
L 538.35 392.83
L 538.63 328.48
L 538.91 328.61
L 539.19 331.15
L 539.47 392.83
L 539.75 320.61
L 540.03 334.38
L 540.31 331.88
L 540.59 327.88
L 540.86 392.83
L 541.14 392.83
L 541.42 327.48
L 541.7 328.77
L 541.98 327.63
L 542.26 392.83
L 542.54 324.41
L 542.82 392.83
L 543.1 328.44
L 543.38 392.83
L 543.65 392.83
L 543.93 331.53
L 544.21 337.75
L 544.49 331
L 544.77 332.75
L 545.05 327.17
L 545.33 344.52
L 545.61 321.97
L 545.89 335.19
L 546.16 326.74
L 546.44 324.38
L 546.72 329.24
L 547 392.83
L 547.28 333.39
L 547.56 328.38
L 547.84 392.83
L 548.12 345.05
L 548.4 332.73
L 548.68 338.75
L 548.96 336.84
L 549.23 330.42
L 549.51 326.63
L 549.79 392.83
L 550.07 392.83
L 550.35 318.19
L 550.63 392.83
L 550.91 329.88
L 551.19 334.93
L 551.47 329.67
L 551.75 330.14
L 552.02 346.59
L 552.3 392.83
L 552.58 332.59
L 552.86 328.5
L 553.14 328.59
L 553.42 332.24
L 553.7 392.83
L 553.98 328.86
L 554.26 392.83
L 554.53 372.78
L 554.81 343.59
L 555.09 327.69
L 555.37 329.39
L 555.65 325.2
L 555.93 327.21
L 556.21 392.83
L 556.49 392.83
L 556.77 331.63
L 557.05 330.13
L 557.33 331.66
L 557.6 327.09
L 557.88 325.15
L 558.16 334.53
L 558.44 337.77
L 558.72 326.17
L 559 326.99
L 559.28 328.48
L 559.56 334.57
L 559.84 392.83
L 560.12 392.83
L 560.39 324.43
L 560.67 324.46
L 560.95 327.77
L 561.23 392.83
L 561.51 392.83
L 561.79 333.11
L 562.07 333.67
L 562.35 325.17
L 562.63 328.49
L 562.9 325.74
L 563.18 327.09
L 563.46 336.93
L 563.74 332.2
L 564.02 333.68
L 564.3 324.65
L 564.58 328.56
L 564.86 331.95
L 565.14 328.79
L 565.42 333.27
L 565.7 325.19
L 565.97 392.83
L 566.25 342.73
L 566.53 347.74
L 566.81 338.61
L 567.09 322.33
L 567.37 331.83
L 567.65 327.05
L 567.93 328.11
L 568.21 326.37
L 568.49 324.25
L 568.76 334.82
L 569.04 392.83
L 569.32 392.83
L 569.6 330.93
L 569.88 326.71
L 570.16 335.31
L 570.44 328.7
L 570.72 392.83
L 571 392.83
L 571.27 329.51
L 571.55 392.83
L 571.83 392.83
L 572.11 392.83
L 572.39 354.01
L 572.67 330.68
L 572.95 328.56
L 573.23 392.83
L 573.51 326.74
L 573.79 323.87
L 574.07 332.46
L 574.34 392.83
L 574.62 392.83
L 574.9 333.8
L 575.18 392.83
L 575.46 392.83
L 575.74 392.83
L 576.02 392.83
L 576.3 334.51
L 576.58 340.04
L 576.86 331.56
L 577.13 331.54
L 577.41 336.84
L 577.69 320.51
L 577.97 392.83
L 578.25 336.72
L 578.53 337.78
L 578.81 329.49
L 579.09 327.11
L 579.37 329.19
L 579.64 332.84
L 579.92 329.13
L 580.2 392.83
L 580.48 333.31
L 580.76 392.83
L 581.04 332.13
L 581.32 327.58
L 581.6 331.41
L 581.88 329.77
L 582.16 392.83
L 582.43 392.83
L 582.71 392.83
L 582.99 342.6
L 583.27 339.17
L 583.55 333.76
L 583.83 392.83
L 584.11 328.82
L 584.39 328.58
L 584.67 325.57
L 584.95 325.71
L 585.23 325.34
L 585.5 322.65
L 585.78 392.83
L 586.06 330.89
L 586.34 328.85
L 586.62 392.83
L 586.9 322.19
L 587.18 329.83
L 587.46 327.51
L 587.74 340.98
L 588.01 331.91
L 588.29 340.51
L 588.57 392.83
L 588.85 325.26
L 589.13 392.83
L 589.41 326.99
L 589.69 392.83
L 589.97 325.87
L 590.25 331.56
L 590.53 392.83
L 590.8 329.44
L 591.08 328.98
L 591.36 324.15
L 591.64 337.95
L 591.92 329.15
L 592.2 330.91
L 592.48 392.83
L 592.76 329.68
L 593.04 334.63
L 593.32 333.29
L 593.6 392.83
L 593.87 326.91
L 594.15 392.83
L 594.43 392.83
L 594.71 331.38
L 594.99 330.61
L 595.27 392.83
L 595.55 392.83
L 595.83 392.83
L 596.11 340.95
L 596.38 333.12
L 596.66 330.91
L 596.94 330.99
L 597.22 324.77
L 597.5 326.22
L 597.78 335
L 598.06 338.53
L 598.34 331.51
L 598.62 392.83
L 598.9 336.42
L 599.17 337.93
L 599.45 336.4
L 599.73 328.7
L 600.01 332.5
L 600.29 340.39
L 600.57 392.83
L 600.85 392.83
L 601.13 330.98
L 601.41 333.98
L 601.69 327.35
L 601.97 327.2
L 602.24 330.43
L 602.52 328.5
L 602.8 392.83
L 603.08 328.07
L 603.36 323.58
L 603.64 335.72
L 603.92 340.2
L 604.2 330.86
L 604.48 326.31
L 604.75 322.74
L 605.03 336.26
L 605.31 392.83
L 605.59 354.55
L 605.87 339.49
L 606.15 326.58
L 606.43 392.83
L 606.71 392.83
L 606.99 392.83
L 607.27 392.83
L 607.54 339.62
L 607.82 339.95
L 608.1 333.09
L 608.38 326.67
L 608.66 328.84
L 608.94 392.83
L 609.22 392.83
L 609.5 392.83
L 609.78 328
L 610.06 327.84
L 610.34 392.83
L 610.61 328.32
L 610.89 333.56
L 611.17 328.67
L 611.45 333.9
L 611.73 325.57
L 612.01 331.32
L 612.29 343.16
L 612.57 392.83
L 612.85 328.06
L 613.12 352.15
L 613.4 329.62
L 613.68 392.83
L 613.96 330.98
L 614.24 324.35
L 614.52 332.12
L 614.8 332.9
L 615.08 392.83
L 615.36 326.79
L 615.64 330.73
L 615.91 327.65
L 616.19 320.23
L 616.47 342.63
L 616.75 328.87
L 617.03 392.83
L 617.31 322.84
L 617.59 333.41
L 617.87 349.85
L 618.15 392.83
L 618.43 344.71
L 618.71 330.88
L 618.98 392.83
L 619.26 334.98
L 619.54 392.83
L 619.82 328.11
L 620.1 324.2
L 620.38 392.83
L 620.66 392.83
L 620.94 345.85
L 621.22 331.92
L 621.5 317.19
L 621.77 327.65
L 622.05 336.06
L 622.33 327.95
L 622.61 328.52
L 622.89 338.05
L 623.17 327.28
L 623.45 338.3
L 623.73 392.83
L 624.01 392.83
L 624.28 324.4
L 624.56 336.11
L 624.84 392.83
L 625.12 335.36
L 625.4 349.01
L 625.68 340.51
L 625.96 329.04
L 626.24 392.83
L 626.52 326.43
L 626.8 333.57
L 627.08 333.71
L 627.35 340.59
L 627.63 334.73
L 627.91 342.92
L 628.19 353.06
L 628.47 392.83
L 628.75 324.09
L 629.03 348.04
L 629.31 392.83
L 629.59 392.83
L 629.87 392.83
L 630.14 330.99
L 630.42 335.44
L 630.7 334.36
L 630.98 325.87
L 631.26 333.6
L 631.54 346.25
L 631.82 336.42
L 632.1 328.47
L 632.38 392.83
L 632.65 392.83
L 632.93 392.83
L 633.21 392.83
L 633.49 392.83
L 633.77 332.19
L 634.05 386.43
L 634.33 392.83
L 634.61 327.58
L 634.89 330.64
L 635.17 328.62
L 635.45 392.83
L 635.72 325.83
L 636 336.99
L 636.28 338.87
L 636.56 322.15
L 636.84 392.83
L 637.12 392.83
L 637.4 330.87
L 637.68 329.13
L 637.96 326.29
L 638.24 392.83
L 638.51 340.49
L 638.79 392.83
L 639.07 392.83
L 639.35 330.36
L 639.63 392.83
L 639.91 392.83
L 640.19 331.99
L 640.47 392.83
L 640.75 326.24
L 641.02 328.46
L 641.3 324.24
L 641.58 320.32
L 641.86 328.48
L 642.14 392.83
L 642.42 392.83
L 642.7 392.83
L 642.98 336.27
L 643.26 330.2
L 643.54 392.83
L 643.82 392.83
L 644.09 337.73
L 644.37 326.53
L 644.65 327.1
L 644.93 325.52
L 645.21 332.18
L 645.49 392.83
L 645.77 333.36
L 646.05 329.56
L 646.33 343.5
L 646.61 339.94
L 646.88 325.12
L 647.16 392.83
L 647.44 327.92
L 647.72 338.37
L 648 346.76
" clip-path="url(#p30c51ce82e)" style="fill: none; stroke: #bcbd22; stroke-width: 1.75; stroke-linecap: round"/>
   </g>
   <g id="line2d_110">
    <path d="M 90 333.09
L 90.28 335.62
L 90.56 346.85
L 90.84 340.79
L 91.12 335.31
L 91.39 343.03
L 91.67 329.86
L 91.95 329.52
L 92.23 392.83
L 92.51 337.08
L 92.79 327.29
L 93.07 351
L 93.35 336.4
L 93.63 327.22
L 93.91 333.21
L 94.19 329.78
L 94.46 330.61
L 94.74 392.83
L 95.02 332.78
L 95.3 330.68
L 95.58 334.64
L 95.86 324.39
L 96.14 334.14
L 96.42 328.41
L 96.7 323.65
L 96.97 322.19
L 97.25 331.93
L 97.53 334.17
L 97.81 333.35
L 98.09 329.07
L 98.37 330.38
L 98.65 334.17
L 98.93 329.65
L 99.21 392.83
L 99.49 392.83
L 99.77 333.31
L 100.04 326.04
L 100.32 344.99
L 100.6 331.79
L 100.88 334.88
L 101.16 338.3
L 101.44 392.83
L 101.72 330.58
L 102 392.83
L 102.28 350.18
L 102.56 392.83
L 102.83 342.52
L 103.11 337.48
L 103.39 330.06
L 103.67 323.83
L 103.95 326.65
L 104.23 328.87
L 104.51 334.97
L 104.79 332.96
L 105.07 392.83
L 105.34 325.86
L 105.62 392.83
L 105.9 334.18
L 106.18 332.78
L 106.46 340.25
L 106.74 333.17
L 107.02 327.88
L 107.3 328.4
L 107.58 331.17
L 107.86 331.26
L 108.14 334.37
L 108.41 325.76
L 108.69 349.09
L 108.97 322.28
L 109.25 332.92
L 109.53 326.9
L 109.81 346.34
L 110.09 323.25
L 110.37 369.34
L 110.65 330.5
L 110.92 328.41
L 111.2 337.76
L 111.48 333.86
L 111.76 330.23
L 112.04 349.33
L 112.32 331.9
L 112.6 336.54
L 112.88 392.83
L 113.16 336.9
L 113.44 392.83
L 113.72 330.75
L 113.99 392.83
L 114.27 337.27
L 114.55 332.13
L 114.83 326.58
L 115.11 361.6
L 115.39 330.41
L 115.67 326.47
L 115.95 330.64
L 116.23 334.08
L 116.5 340.62
L 116.78 336.87
L 117.06 325.96
L 117.34 333.34
L 117.62 323.71
L 117.9 324.83
L 118.18 338.76
L 118.46 333.94
L 118.74 331.93
L 119.02 335.59
L 119.3 345.1
L 119.57 339.93
L 119.85 335.19
L 120.13 334.7
L 120.41 338.8
L 120.69 332.57
L 120.97 335.51
L 121.25 340.65
L 121.53 342.13
L 121.81 325.85
L 122.08 325.1
L 122.36 338.24
L 122.64 327.02
L 122.92 339.82
L 123.2 336.48
L 123.48 332.1
L 123.76 326.11
L 124.04 324.09
L 124.32 336.43
L 124.6 336.66
L 124.88 338.4
L 125.15 338.36
L 125.43 337.49
L 125.71 340.27
L 125.99 351.77
L 126.27 329.24
L 126.55 331.1
L 126.83 327.33
L 127.11 324.61
L 127.39 392.83
L 127.67 332.76
L 127.94 338.15
L 128.22 331.55
L 128.5 327.46
L 128.78 335.4
L 129.06 346.01
L 129.34 330
L 129.62 329.43
L 129.9 335.75
L 130.18 328.85
L 130.46 329.17
L 130.73 329.06
L 131.01 332.79
L 131.29 328.82
L 131.57 331.05
L 131.85 346.78
L 132.13 325.75
L 132.41 328.28
L 132.69 332.98
L 132.97 335.16
L 133.25 323.19
L 133.52 342.09
L 133.8 323.64
L 134.08 345.42
L 134.36 330.39
L 134.64 332.03
L 134.92 329.93
L 135.2 334.65
L 135.48 331.16
L 135.76 339.46
L 136.03 340.54
L 136.31 392.83
L 136.59 334.12
L 136.87 331.62
L 137.15 333.53
L 137.43 335.12
L 137.71 337.98
L 137.99 327.98
L 138.27 325.97
L 138.55 333.72
L 138.82 332.47
L 139.1 324.1
L 139.38 351.94
L 139.66 333.48
L 139.94 334.4
L 140.22 330.22
L 140.5 392.83
L 140.78 319.95
L 141.06 355.46
L 141.34 345.22
L 141.62 335.78
L 141.89 332.41
L 142.17 339.53
L 142.45 392.83
L 142.73 330.76
L 143.01 338.28
L 143.29 344.09
L 143.57 392.83
L 143.85 329.83
L 144.13 326.42
L 144.41 340.18
L 144.68 334.06
L 144.96 331.24
L 145.24 337.6
L 145.52 336.17
L 145.8 328.69
L 146.08 329.29
L 146.36 332.78
L 146.64 333.19
L 146.92 338.11
L 147.19 327.74
L 147.47 327.47
L 147.75 334.94
L 148.03 328.68
L 148.31 331.42
L 148.59 334.8
L 148.87 327.2
L 149.15 322.45
L 149.43 333.29
L 149.71 329.51
L 149.99 347.52
L 150.26 337.82
L 150.54 327.1
L 150.82 338.72
L 151.1 322.2
L 151.38 330.77
L 151.66 328.54
L 151.94 335.34
L 152.22 333.18
L 152.5 334.17
L 152.78 335.89
L 153.05 349.73
L 153.33 329
L 153.61 392.83
L 153.89 342.4
L 154.17 333.16
L 154.45 331.83
L 154.73 335.99
L 155.01 322.75
L 155.29 335.17
L 155.56 323.09
L 155.84 321.58
L 156.12 337.04
L 156.4 329.54
L 156.68 336.42
L 156.96 339.87
L 157.24 331.28
L 157.52 346.01
L 157.8 330.97
L 158.08 327.26
L 158.35 336.06
L 158.63 329.35
L 158.91 338.08
L 159.19 326.64
L 159.47 331.05
L 159.75 336.22
L 160.03 320.82
L 160.31 329.36
L 160.59 333.16
L 160.87 337.93
L 161.15 342.05
L 161.42 330.81
L 161.7 336.59
L 161.98 331.92
L 162.26 338.92
L 162.54 328.44
L 162.82 333.54
L 163.1 322.41
L 163.38 325.87
L 163.66 346.38
L 163.94 330.02
L 164.21 331.52
L 164.49 328.04
L 164.77 371.36
L 165.05 325.18
L 165.33 330.67
L 165.61 327.77
L 165.89 326.18
L 166.17 333.55
L 166.45 329.74
L 166.72 392.83
L 167 329.44
L 167.28 334.3
L 167.56 327.69
L 167.84 329.75
L 168.12 335.21
L 168.4 342.5
L 168.68 325.96
L 168.96 344.81
L 169.24 333.6
L 169.51 342.36
L 169.79 329.6
L 170.07 335.38
L 170.35 327.16
L 170.63 332.55
L 170.91 336.99
L 171.19 339.84
L 171.47 334.59
L 171.75 328.92
L 172.03 331.92
L 172.31 327.09
L 172.58 360.55
L 172.86 343.19
L 173.14 331.14
L 173.42 333.16
L 173.7 331.66
L 173.98 326.25
L 174.26 335.6
L 174.54 334.51
L 174.82 392.83
L 175.09 337.67
L 175.37 337.97
L 175.65 330.69
L 175.93 338.55
L 176.21 338.09
L 176.49 335.09
L 176.77 340.3
L 177.05 337.1
L 177.33 350.69
L 177.61 334.67
L 177.88 332.85
L 178.16 329.97
L 178.44 340.8
L 178.72 343.24
L 179 335.21
L 179.28 331.71
L 179.56 337.51
L 179.84 353.05
L 180.12 332.12
L 180.4 328.73
L 180.68 331.64
L 180.95 335.65
L 181.23 392.83
L 181.51 334.3
L 181.79 326.87
L 182.07 336.04
L 182.35 337.51
L 182.63 333.76
L 182.91 327.14
L 183.19 333.98
L 183.47 341.2
L 183.74 332.84
L 184.02 329.73
L 184.3 329.63
L 184.58 329.92
L 184.86 335.71
L 185.14 327.05
L 185.42 333.67
L 185.7 392.83
L 185.98 320.35
L 186.25 328.95
L 186.53 341.28
L 186.81 325.21
L 187.09 342.99
L 187.37 324.98
L 187.65 331.23
L 187.93 324.81
L 188.21 331.57
L 188.49 331.93
L 188.77 326.63
L 189.04 335.45
L 189.32 392.83
L 189.6 392.83
L 189.88 330.08
L 190.16 332.2
L 190.44 333.68
L 190.72 336.85
L 191 339.95
L 191.28 335.4
L 191.56 325.23
L 191.84 330.22
L 192.11 326.31
L 192.39 330.86
L 192.67 333.39
L 192.95 329.1
L 193.23 323.48
L 193.51 326.24
L 193.79 331.79
L 194.07 331.44
L 194.35 329.89
L 194.62 334.97
L 194.9 336.18
L 195.18 348.59
L 195.46 326.87
L 195.74 325.85
L 196.02 332.1
L 196.3 332.81
L 196.58 328.52
L 196.86 330.38
L 197.14 332.7
L 197.41 333.92
L 197.69 332.58
L 197.97 392.83
L 198.25 336.42
L 198.53 330.32
L 198.81 326.04
L 199.09 333.09
L 199.37 323.02
L 199.65 329.6
L 199.93 332.9
L 200.21 392.83
L 200.48 325.68
L 200.76 327.41
L 201.04 339.76
L 201.32 326.05
L 201.6 333.13
L 201.88 322.11
L 202.16 325.63
L 202.44 319.64
L 202.72 329.76
L 203 328.26
L 203.27 333.16
L 203.55 342.17
L 203.83 345.78
L 204.11 334.31
L 204.39 336.98
L 204.67 333.22
L 204.95 331.17
L 205.23 341.88
L 205.51 328.18
L 205.78 338.44
L 206.06 336.11
L 206.34 329.85
L 206.62 335.63
L 206.9 333.47
L 207.18 326.57
L 207.46 351.94
L 207.74 333.07
L 208.02 322.85
L 208.3 331.64
L 208.57 337.1
L 208.85 342.29
L 209.13 334.55
L 209.41 331.74
L 209.69 342.5
L 209.97 325.52
L 210.25 326.94
L 210.53 337.33
L 210.81 327.3
L 211.09 321.78
L 211.37 331.53
L 211.64 331.36
L 211.92 323.95
L 212.2 363.37
L 212.48 341.21
L 212.76 329.54
L 213.04 338.12
L 213.32 328.23
L 213.6 329.01
L 213.88 325.22
L 214.16 349.08
L 214.43 325.48
L 214.71 327.69
L 214.99 340.23
L 215.27 392.83
L 215.55 323.05
L 215.83 341.59
L 216.11 324.8
L 216.39 332.78
L 216.67 330.71
L 216.94 339.43
L 217.22 334.71
L 217.5 392.83
L 217.78 327.97
L 218.06 334.66
L 218.34 332.3
L 218.62 325.84
L 218.9 341.16
L 219.18 341.37
L 219.46 340.65
L 219.74 331.72
L 220.01 328.15
L 220.29 392.83
L 220.57 331.35
L 220.85 335.82
L 221.13 345.76
L 221.41 392.83
L 221.69 335.93
L 221.97 342.78
L 222.25 329.55
L 222.53 327.22
L 222.8 392.83
L 223.08 331.21
L 223.36 333.68
L 223.64 392.83
L 223.92 336.1
L 224.2 352.89
L 224.48 327.86
L 224.76 331.92
L 225.04 323.92
L 225.31 392.83
L 225.59 330.16
L 225.87 326.91
L 226.15 344.16
L 226.43 325.43
L 226.71 317.83
L 226.99 339.38
L 227.27 323.64
L 227.55 319.43
L 227.83 319.27
L 228.1 341.59
L 228.38 330.38
L 228.66 328.72
L 228.94 329.86
L 229.22 332.97
L 229.5 345.77
L 229.78 329.56
L 230.06 327.63
L 230.34 329.79
L 230.62 333.89
L 230.9 332
L 231.17 338.27
L 231.45 319.44
L 231.73 330.52
L 232.01 331.03
L 232.29 339.12
L 232.57 338.44
L 232.85 328.4
L 233.13 392.83
L 233.41 392.83
L 233.69 325.37
L 233.96 329.61
L 234.24 330.55
L 234.52 332.52
L 234.8 327.77
L 235.08 338.43
L 235.36 323.27
L 235.64 326.41
L 235.92 323.06
L 236.2 331.2
L 236.47 324.95
L 236.75 335.32
L 237.03 346.47
L 237.31 338.2
L 237.59 327.73
L 237.87 337.26
L 238.15 328.43
L 238.43 328.06
L 238.71 335.04
L 238.99 338.18
L 239.26 392.83
L 239.54 330.94
L 239.82 326.27
L 240.1 321.07
L 240.38 336.98
L 240.66 330.88
L 240.94 334.87
L 241.22 329.38
L 241.5 323.63
L 241.78 326.14
L 242.06 333.17
L 242.33 322.83
L 242.61 333.3
L 242.89 330.77
L 243.17 341.8
L 243.45 328.1
L 243.73 337.79
L 244.01 330.03
L 244.29 392.83
L 244.57 326.74
L 244.84 329.49
L 245.12 329.59
L 245.4 335.87
L 245.68 334.99
L 245.96 328.14
L 246.24 333.65
L 246.52 326.8
L 246.8 327.27
L 247.08 327.66
L 247.36 322.37
L 247.63 329.51
L 247.91 326.45
L 248.19 333.2
L 248.47 335.34
L 248.75 324.01
L 249.03 392.83
L 249.31 392.83
L 249.59 331.19
L 249.87 337.97
L 250.15 354.69
L 250.43 328.56
L 250.7 326.7
L 250.98 324.75
L 251.26 340.76
L 251.54 332.24
L 251.82 318.8
L 252.1 392.83
L 252.38 328.83
L 252.66 328.13
L 252.94 335.83
L 253.22 318.45
L 253.49 333.08
L 253.77 392.83
L 254.05 329.83
L 254.33 343.16
L 254.61 322.69
L 254.89 323.89
L 255.17 323.08
L 255.45 323.99
L 255.73 320.84
L 256 328
L 256.28 318.75
L 256.56 319.92
L 256.84 325.71
L 257.12 333.89
L 257.4 319.04
L 257.68 316.13
L 257.96 324.83
L 258.24 326.86
L 258.52 320.73
L 258.8 314.29
L 259.07 326.03
L 259.35 315.7
L 259.63 327.04
L 259.91 318.26
L 260.19 325.69
L 260.47 318.03
L 260.75 320.43
L 261.03 316.62
L 261.31 326.66
L 261.58 314.36
L 261.86 320.35
L 262.14 320.72
L 262.42 323.18
L 262.7 326.43
L 262.98 313.7
L 263.26 322.27
L 263.54 318.7
L 263.82 320.09
L 264.1 315.43
L 264.38 315.66
L 264.65 318.01
L 264.93 313.63
L 265.21 310.1
L 265.49 314.6
L 265.77 321.72
L 266.05 319.54
L 266.33 318.6
L 266.61 317.45
L 266.89 317.61
L 267.17 314.8
L 267.44 317.35
L 267.72 310.59
L 268 316.26
L 268.28 319.17
L 268.56 313.01
L 268.84 321.59
L 269.12 319.79
L 269.4 308.87
L 269.68 323.67
L 269.95 317.23
L 270.23 315.69
L 270.51 309.74
L 270.79 312.63
L 271.07 332.62
L 271.35 313.37
L 271.63 311.05
L 271.91 305.55
L 272.19 319.29
L 272.47 315.22
L 272.75 316.4
L 273.02 310.99
L 273.3 315.08
L 273.58 318.55
L 273.86 315.33
L 274.14 309.02
L 274.42 314.71
L 274.7 313.6
L 274.98 316.85
L 275.26 317.16
L 275.54 316.42
L 275.81 312.25
L 276.09 307.07
L 276.37 322.74
L 276.65 315.03
L 276.93 309.93
L 277.21 314.25
L 277.49 311.87
L 277.77 307.22
L 278.05 314.4
L 278.32 319.79
L 278.6 315.31
L 278.88 320.67
L 279.16 318.79
L 279.44 315.49
L 279.72 316.52
L 280 317.16
L 280.28 309.94
L 280.56 325.87
L 280.84 316.74
L 281.12 315.29
L 281.39 312.11
L 281.67 320.69
L 281.95 312.06
L 282.23 321.31
L 282.51 316.52
L 282.79 311.86
L 283.07 318.47
L 283.35 320.97
L 283.63 312.79
L 283.9 324.62
L 284.18 320.22
L 284.46 316.76
L 284.74 311.6
L 285.02 314.36
L 285.3 320.69
L 285.58 314.17
L 285.86 320.44
L 286.14 314.92
L 286.42 323.79
L 286.69 322.45
L 286.97 323.5
L 287.25 326.88
L 287.53 318.58
L 287.81 324.59
L 288.09 316.71
L 288.37 317.81
L 288.65 316.65
L 288.93 313.35
L 289.21 320.99
L 289.49 328.27
L 289.76 322.16
L 290.04 324.6
L 290.32 323.14
L 290.6 316.34
L 290.88 320.25
L 291.16 326.54
L 291.44 318.85
L 291.72 318.96
L 292 320.31
L 292.27 324.07
L 292.55 322.67
L 292.83 320.25
L 293.11 321.9
L 293.39 323.08
L 293.67 316.47
L 293.95 313.04
L 294.23 327.11
L 294.51 318.31
L 294.79 315.42
L 295.06 334.67
L 295.34 322.3
L 295.62 317.67
L 295.9 321.56
L 296.18 330.79
L 296.46 318.17
L 296.74 322.4
L 297.02 331.44
L 297.3 319.57
L 297.58 312.95
L 297.86 332.16
L 298.13 323.48
L 298.41 317.22
L 298.69 320.24
L 298.97 321.31
L 299.25 320.31
L 299.53 316.98
L 299.81 318.15
L 300.09 324.55
L 300.37 324.23
L 300.64 321.15
L 300.92 318.54
L 301.2 320.87
L 301.48 317.99
L 301.76 319.69
L 302.04 321.51
L 302.32 324.18
L 302.6 323.36
L 302.88 321.67
L 303.16 321.66
L 303.44 320.11
L 303.71 321.56
L 303.99 322.41
L 304.27 320.99
L 304.55 318.35
L 304.83 316.57
L 305.11 316.31
L 305.39 315.36
L 305.67 314.24
L 305.95 313.9
L 306.23 312.65
L 306.5 311.87
L 306.78 311.27
L 307.06 310.75
L 307.34 310.09
L 307.62 308.68
L 307.9 308.4
L 308.18 307.43
L 308.46 306.62
L 308.74 306.42
L 309.01 305.59
L 309.29 305.38
L 309.57 305.23
L 309.85 304.67
L 310.13 304.42
L 310.41 304.48
L 310.69 304.18
L 310.97 304.37
L 311.25 304.1
L 311.53 304.04
L 311.81 304.24
L 312.08 304.07
L 312.36 303.85
L 312.64 304.22
L 312.92 304.32
L 313.2 304.39
L 313.48 304.33
L 313.76 304.42
L 314.04 304.57
L 314.32 304.41
L 314.6 304.5
L 314.87 304.88
L 315.15 304.94
L 315.43 305.06
L 315.71 305.49
L 315.99 305.92
L 316.27 306.29
L 316.55 307.06
L 316.83 307.35
L 317.11 307.76
L 317.38 309.02
L 317.66 310.04
L 317.94 310.57
L 318.22 311.43
L 318.5 311.88
L 318.78 312.28
L 319.06 313.1
L 319.34 313.19
L 319.62 313.95
L 319.9 314.18
L 320.18 314.68
L 320.45 313.56
L 320.73 313.21
L 321.01 312.27
L 321.29 311.06
L 321.57 309.29
L 321.85 308.06
L 322.13 306.7
L 322.41 305.32
L 322.69 303.52
L 322.96 301.84
L 323.24 300.06
L 323.52 298.49
L 323.8 296.91
L 324.08 295.48
L 324.36 293.85
L 324.64 292.32
L 324.92 291.18
L 325.2 289.84
L 325.48 288.53
L 325.75 287.3
L 326.03 286.21
L 326.31 285.16
L 326.59 284.13
L 326.87 283.29
L 327.15 282.47
L 327.43 281.67
L 327.71 280.91
L 327.99 280.27
L 328.27 279.74
L 328.55 279.26
L 328.82 278.83
L 329.1 278.46
L 329.38 278.17
L 329.66 278
L 329.94 277.86
L 330.22 277.8
L 330.5 277.8
L 330.78 277.85
L 331.06 278
L 331.33 278.21
L 331.61 278.49
L 331.89 278.83
L 332.17 279.27
L 332.45 279.73
L 332.73 280.24
L 333.01 280.84
L 333.29 281.49
L 333.57 282.26
L 333.85 283.08
L 334.12 283.93
L 334.4 284.86
L 334.68 285.83
L 334.96 286.91
L 335.24 287.99
L 335.52 289.16
L 335.8 290.39
L 336.08 291.66
L 336.36 293.08
L 336.64 294.3
L 336.92 295.63
L 337.19 297.09
L 337.47 298.38
L 337.75 299.83
L 338.03 301.19
L 338.31 302.17
L 338.59 303.16
L 338.87 303.82
L 339.15 303.87
L 339.43 304.19
L 339.7 303.43
L 339.98 302.81
L 340.26 301.71
L 340.54 299.92
L 340.82 298.25
L 341.1 296.33
L 341.38 294.31
L 341.66 292.18
L 341.94 290.13
L 342.22 288.07
L 342.5 285.99
L 342.77 283.94
L 343.05 281.99
L 343.33 280.05
L 343.61 278.24
L 343.89 276.41
L 344.17 274.69
L 344.45 273.03
L 344.73 271.47
L 345.01 269.96
L 345.29 268.53
L 345.56 267.16
L 345.84 265.9
L 346.12 264.7
L 346.4 263.58
L 346.68 262.51
L 346.96 261.56
L 347.24 260.66
L 347.52 259.85
L 347.8 259.11
L 348.07 258.45
L 348.35 257.85
L 348.63 257.34
L 348.91 256.89
L 349.19 256.53
L 349.47 256.23
L 349.75 256.03
L 350.03 255.89
L 350.31 255.84
L 350.59 255.87
L 350.87 255.99
L 351.14 256.2
L 351.42 256.51
L 351.7 256.93
L 351.98 257.43
L 352.26 258.03
L 352.54 258.75
L 352.82 259.55
L 353.1 260.46
L 353.38 261.46
L 353.65 262.55
L 353.93 263.75
L 354.21 265.02
L 354.49 266.41
L 354.77 267.89
L 355.05 269.46
L 355.33 271.12
L 355.61 272.88
L 355.89 274.73
L 356.17 276.69
L 356.44 278.66
L 356.72 280.8
L 357 282.97
L 357.28 285.24
L 357.56 287.45
L 357.84 289.82
L 358.12 292.06
L 358.4 294.32
L 358.68 296.09
L 358.96 297.46
L 359.24 298.14
L 359.51 297.95
L 359.79 296.89
L 360.07 294.77
L 360.35 292.12
L 360.63 288.91
L 360.91 285.42
L 361.19 281.84
L 361.47 278.18
L 361.75 274.48
L 362.02 270.94
L 362.3 267.41
L 362.58 263.98
L 362.86 260.66
L 363.14 257.42
L 363.42 254.3
L 363.7 251.26
L 363.98 248.34
L 364.26 245.52
L 364.54 242.81
L 364.81 240.2
L 365.09 237.7
L 365.37 235.3
L 365.65 233.01
L 365.93 230.83
L 366.21 228.75
L 366.49 226.79
L 366.77 224.92
L 367.05 223.17
L 367.33 221.52
L 367.61 219.98
L 367.88 218.54
L 368.16 217.22
L 368.44 215.99
L 368.72 214.88
L 369 213.87
L 369.28 212.96
L 369.56 212.15
L 369.84 211.44
L 370.12 210.83
L 370.39 210.31
L 370.67 209.9
L 370.95 209.58
L 371.23 209.37
L 371.51 209.29
L 371.79 209.34
L 372.07 209.54
L 372.35 209.92
L 372.63 210.48
L 372.91 211.25
L 373.19 212.22
L 373.46 213.4
L 373.74 214.79
L 374.02 216.39
L 374.3 218.18
L 374.58 220.17
L 374.86 222.35
L 375.14 224.72
L 375.42 227.29
L 375.7 230.04
L 375.98 232.97
L 376.25 236.1
L 376.53 239.41
L 376.81 242.91
L 377.09 246.59
L 377.37 250.46
L 377.65 254.5
L 377.93 258.7
L 378.21 263.02
L 378.49 267.38
L 378.76 271.57
L 379.04 275.04
L 379.32 277
L 379.6 276.56
L 379.88 273.64
L 380.16 268.97
L 380.44 263.45
L 380.72 257.66
L 381 251.89
L 381.28 246.23
L 381.56 240.73
L 381.83 235.42
L 382.11 230.3
L 382.39 225.37
L 382.67 220.63
L 382.95 216.09
L 383.23 211.73
L 383.51 207.52
L 383.79 203.4
L 384.07 199.25
L 384.35 194.92
L 384.62 190.33
L 384.9 185.54
L 385.18 180.82
L 385.46 176.54
L 385.74 173.02
L 386.02 170.45
L 386.3 168.86
L 386.58 168.14
L 386.86 168.03
L 387.13 168.17
L 387.41 168.23
L 387.69 168.06
L 387.97 167.67
L 388.25 167.21
L 388.53 166.79
L 388.81 166.49
L 389.09 166.35
L 389.37 166.36
L 389.65 166.5
L 389.93 166.78
L 390.2 167.17
L 390.48 167.68
L 390.76 168.3
L 391.04 169.03
L 391.32 169.87
L 391.6 170.83
L 391.88 171.9
L 392.16 173.08
L 392.44 174.39
L 392.71 175.81
L 392.99 177.36
L 393.27 179.02
L 393.55 180.81
L 393.83 182.71
L 394.11 184.74
L 394.39 186.89
L 394.67 189.15
L 394.95 191.54
L 395.23 194.05
L 395.5 196.68
L 395.78 199.43
L 396.06 202.3
L 396.34 205.29
L 396.62 208.39
L 396.9 211.62
L 397.18 214.97
L 397.46 218.44
L 397.74 222.02
L 398.02 225.73
L 398.3 229.55
L 398.57 233.48
L 398.85 237.51
L 399.13 241.61
L 399.41 245.66
L 399.69 249.44
L 399.97 252.4
L 400.25 253.61
L 400.53 252.2
L 400.81 248.24
L 401.08 242.69
L 401.36 236.47
L 401.64 230.13
L 401.92 223.92
L 402.2 217.92
L 402.48 212.19
L 402.76 206.73
L 403.04 201.55
L 403.32 196.65
L 403.6 192.04
L 403.88 187.71
L 404.15 183.67
L 404.43 179.9
L 404.71 176.41
L 404.99 173.2
L 405.27 170.26
L 405.55 167.59
L 405.83 165.19
L 406.11 163.05
L 406.39 161.16
L 406.67 159.51
L 406.94 158.11
L 407.22 156.92
L 407.5 155.95
L 407.78 155.17
L 408.06 154.57
L 408.34 154.12
L 408.62 153.8
L 408.9 153.6
L 409.18 153.48
L 409.45 153.45
L 409.73 153.5
L 410.01 153.6
L 410.29 153.78
L 410.57 154.03
L 410.85 154.35
L 411.13 154.76
L 411.41 155.27
L 411.69 155.87
L 411.97 156.59
L 412.25 157.44
L 412.52 158.41
L 412.8 159.53
L 413.08 160.79
L 413.36 162.21
L 413.64 163.79
L 413.92 165.54
L 414.2 167.46
L 414.48 169.54
L 414.76 171.81
L 415.04 174.25
L 415.31 176.87
L 415.59 179.67
L 415.87 182.65
L 416.15 185.82
L 416.43 189.17
L 416.71 192.71
L 416.99 196.43
L 417.27 200.34
L 417.55 204.42
L 417.82 208.69
L 418.1 213.11
L 418.38 217.66
L 418.66 222.22
L 418.94 226.57
L 419.22 230.19
L 419.5 232.25
L 419.78 231.97
L 420.06 229.32
L 420.34 225.09
L 420.62 220.13
L 420.89 214.97
L 421.17 209.87
L 421.45 204.92
L 421.73 200.17
L 422.01 195.65
L 422.29 191.36
L 422.57 187.29
L 422.85 183.46
L 423.13 179.86
L 423.4 176.49
L 423.68 173.36
L 423.96 170.46
L 424.24 167.8
L 424.52 165.37
L 424.8 163.19
L 425.08 161.25
L 425.36 159.56
L 425.64 158.12
L 425.92 156.94
L 426.19 156
L 426.47 155.31
L 426.75 154.86
L 427.03 154.62
L 427.31 154.58
L 427.59 154.72
L 427.87 155.02
L 428.15 155.48
L 428.43 156.09
L 428.71 156.84
L 428.99 157.72
L 429.26 158.75
L 429.54 159.93
L 429.82 161.25
L 430.1 162.71
L 430.38 164.33
L 430.66 166.09
L 430.94 168.01
L 431.22 170.08
L 431.5 172.3
L 431.77 174.68
L 432.05 177.21
L 432.33 179.89
L 432.61 182.72
L 432.89 185.7
L 433.17 188.84
L 433.45 192.12
L 433.73 195.56
L 434.01 199.15
L 434.29 202.9
L 434.56 206.79
L 434.84 210.84
L 435.12 215.03
L 435.4 219.38
L 435.68 223.87
L 435.96 228.5
L 436.24 233.24
L 436.52 238.01
L 436.8 242.59
L 437.08 246.47
L 437.36 248.63
L 437.63 247.98
L 437.91 244.44
L 438.19 239.1
L 438.47 233.06
L 438.75 226.91
L 439.03 220.94
L 439.31 215.22
L 439.59 209.81
L 439.87 204.72
L 440.14 199.94
L 440.42 195.48
L 440.7 191.34
L 440.98 187.5
L 441.26 183.98
L 441.54 180.76
L 441.82 177.84
L 442.1 175.21
L 442.38 172.88
L 442.66 170.83
L 442.94 169.06
L 443.21 167.57
L 443.49 166.35
L 443.77 165.38
L 444.05 164.67
L 444.33 164.18
L 444.61 163.92
L 444.89 163.85
L 445.17 163.97
L 445.45 164.25
L 445.73 164.69
L 446 165.29
L 446.28 166.04
L 446.56 166.94
L 446.84 168
L 447.12 169.23
L 447.4 170.63
L 447.68 172.2
L 447.96 173.96
L 448.24 175.91
L 448.51 178.05
L 448.79 180.39
L 449.07 182.93
L 449.35 185.67
L 449.63 188.63
L 449.91 191.79
L 450.19 195.17
L 450.47 198.76
L 450.75 202.57
L 451.03 206.6
L 451.31 210.85
L 451.58 215.32
L 451.86 220.01
L 452.14 224.92
L 452.42 230.06
L 452.7 235.41
L 452.98 240.99
L 453.26 246.78
L 453.54 252.77
L 453.82 258.97
L 454.1 265.28
L 454.37 271.85
L 454.65 278.17
L 454.93 284.72
L 455.21 290.61
L 455.49 295.47
L 455.77 297.57
L 456.05 301.04
L 456.33 301.87
L 456.61 305.67
L 456.88 307.62
L 457.16 304.93
L 457.44 307.38
L 457.72 308.83
L 458 305.9
L 458.28 305.72
L 458.56 308.52
L 458.84 307.39
L 459.12 307.01
L 459.4 309.39
L 459.68 309.41
L 459.95 307.98
L 460.23 306.12
L 460.51 310.26
L 460.79 307.73
L 461.07 308.26
L 461.35 309.05
L 461.63 309.85
L 461.91 311.06
L 462.19 308.85
L 462.46 310.22
L 462.74 314.39
L 463.02 309.84
L 463.3 311.86
L 463.58 311.17
L 463.86 307.39
L 464.14 310.54
L 464.42 315.14
L 464.7 311.91
L 464.98 313.21
L 465.25 310.2
L 465.53 316.61
L 465.81 310.74
L 466.09 312.32
L 466.37 313.41
L 466.65 311.71
L 466.93 310.01
L 467.21 316.07
L 467.49 313.6
L 467.77 313.02
L 468.05 313.17
L 468.32 314.72
L 468.6 312.28
L 468.88 312.71
L 469.16 313.79
L 469.44 316.88
L 469.72 312.55
L 470 311.87
L 470.28 313.06
L 470.56 314.59
L 470.83 313.09
L 471.11 317.98
L 471.39 313.34
L 471.67 316.21
L 471.95 315.88
L 472.23 313.7
L 472.51 315.38
L 472.79 317.24
L 473.07 317.58
L 473.35 320.24
L 473.62 316.51
L 473.9 313.82
L 474.18 310.21
L 474.46 320.41
L 474.74 316.13
L 475.02 313.24
L 475.3 320.98
L 475.58 319.42
L 475.86 322.14
L 476.14 313.77
L 476.42 319.62
L 476.69 319.55
L 476.97 317.46
L 477.25 320.83
L 477.53 312.44
L 477.81 314.85
L 478.09 314.49
L 478.37 322.93
L 478.65 319.17
L 478.93 322.06
L 479.2 321.92
L 479.48 320.51
L 479.76 317.32
L 480.04 318.35
L 480.32 321.56
L 480.6 314.43
L 480.88 317.42
L 481.16 323.15
L 481.44 321.53
L 481.72 322.81
L 482 321.5
L 482.27 321.4
L 482.55 322.2
L 482.83 318.42
L 483.11 323.1
L 483.39 319.67
L 483.67 322.4
L 483.95 321.28
L 484.23 319.76
L 484.51 323.5
L 484.79 317.35
L 485.06 321.96
L 485.34 322.35
L 485.62 319.89
L 485.9 319.24
L 486.18 330.12
L 486.46 323.21
L 486.74 323.7
L 487.02 325.51
L 487.3 325.86
L 487.57 329.05
L 487.85 325.6
L 488.13 322.05
L 488.41 326.89
L 488.69 323.74
L 488.97 331.73
L 489.25 325.19
L 489.53 328.81
L 489.81 330.06
L 490.09 322.62
L 490.37 325.17
L 490.64 324.9
L 490.92 326.7
L 491.2 329.39
L 491.48 329.3
L 491.76 326.35
L 492.04 324.11
L 492.32 327.15
L 492.6 322.46
L 492.88 329.13
L 493.15 332.67
L 493.43 329.45
L 493.71 349.78
L 493.99 348.85
L 494.27 327.91
L 494.55 392.83
L 494.83 330.79
L 495.11 392.83
L 495.39 332.16
L 495.67 392.83
L 495.94 392.83
L 496.22 392.83
L 496.5 333.44
L 496.78 330.43
L 497.06 328.52
L 497.34 328.82
L 497.62 330.77
L 497.9 330.15
L 498.18 329.46
L 498.46 329.3
L 498.74 323.85
L 499.01 324.44
L 499.29 320.34
L 499.57 329.98
L 499.85 323.74
L 500.13 325.67
L 500.41 342.3
L 500.69 327.62
L 500.97 335.61
L 501.25 330.24
L 501.52 334.13
L 501.8 329.25
L 502.08 329.35
L 502.36 333.42
L 502.64 329.42
L 502.92 326.65
L 503.2 327.97
L 503.48 378.11
L 503.76 329.12
L 504.04 333.01
L 504.31 341.45
L 504.59 342.77
L 504.87 331.91
L 505.15 330.25
L 505.43 338.74
L 505.71 340.79
L 505.99 330.02
L 506.27 332.18
L 506.55 321.73
L 506.83 332.43
L 507.11 333.95
L 507.38 326.04
L 507.66 337.87
L 507.94 333.44
L 508.22 332.7
L 508.5 392.83
L 508.78 392.83
L 509.06 392.83
L 509.34 392.83
L 509.62 336.2
L 509.89 392.83
L 510.17 392.83
L 510.45 392.83
L 510.73 328.23
L 511.01 392.83
L 511.29 327.66
L 511.57 392.83
L 511.85 327.97
L 512.13 329.86
L 512.41 328.63
L 512.68 330.43
L 512.96 392.83
L 513.24 392.83
L 513.52 392.83
L 513.8 326.48
L 514.08 326.47
L 514.36 338.1
L 514.64 342.74
L 514.92 324.37
L 515.2 330.03
L 515.48 336.5
L 515.75 392.83
L 516.03 336.6
L 516.31 392.83
L 516.59 345.1
L 516.87 323.28
L 517.15 392.83
L 517.43 392.83
L 517.71 337.8
L 517.99 327.43
L 518.26 392.83
L 518.54 326.91
L 518.82 337.55
L 519.1 329.16
L 519.38 332.38
L 519.66 392.83
L 519.94 392.83
L 520.22 330.52
L 520.5 392.83
L 520.78 346.72
L 521.05 324.09
L 521.33 324.27
L 521.61 326.95
L 521.89 329.29
L 522.17 327.21
L 522.45 337.12
L 522.73 334.68
L 523.01 328.47
L 523.29 331.21
L 523.57 392.83
L 523.85 330.38
L 524.12 328.45
L 524.4 330.48
L 524.68 392.83
L 524.96 331.53
L 525.24 392.83
L 525.52 326.59
L 525.8 334.25
L 526.08 392.83
L 526.36 348.64
L 526.63 349.56
L 526.91 392.83
L 527.19 328.66
L 527.47 336.69
L 527.75 392.83
L 528.03 338.83
L 528.31 331.42
L 528.59 334.58
L 528.87 327.79
L 529.15 341.11
L 529.42 345.04
L 529.7 392.83
L 529.98 327.77
L 530.26 333.06
L 530.54 331.72
L 530.82 323.76
L 531.1 343.62
L 531.38 392.83
L 531.66 338.09
L 531.94 337.69
L 532.22 392.83
L 532.49 341.67
L 532.77 392.83
L 533.05 392.83
L 533.33 392.83
L 533.61 392.83
L 533.89 392.83
L 534.17 392.83
L 534.45 392.83
L 534.73 392.83
L 535 392.83
L 535.28 335.88
L 535.56 392.83
L 535.84 326.73
L 536.12 332.68
L 536.4 392.83
L 536.68 333.18
L 536.96 331.06
L 537.24 392.83
L 537.52 392.83
L 537.79 332.45
L 538.07 341.9
L 538.35 392.83
L 538.63 392.83
L 538.91 346.07
L 539.19 340.33
L 539.47 392.83
L 539.75 392.83
L 540.03 333.36
L 540.31 331.27
L 540.59 337.83
L 540.86 392.83
L 541.14 340.46
L 541.42 336.5
L 541.7 334.04
L 541.98 332.07
L 542.26 333.53
L 542.54 392.83
L 542.82 343.6
L 543.1 392.83
L 543.38 392.83
L 543.65 392.83
L 543.93 392.83
L 544.21 337.21
L 544.49 392.83
L 544.77 392.83
L 545.05 392.83
L 545.33 335.69
L 545.61 392.83
L 545.89 329.5
L 546.16 392.83
L 546.44 392.83
L 546.72 392.83
L 547 392.83
L 547.28 392.83
L 547.56 345.81
L 547.84 340.17
L 548.12 324.07
L 548.4 392.83
L 548.68 392.83
L 548.96 392.83
L 549.23 392.83
L 549.51 331.1
L 549.79 392.83
L 550.07 329.72
L 550.35 392.83
L 550.63 392.83
L 550.91 329.33
L 551.19 343.44
L 551.47 342.64
L 551.75 338.47
L 552.02 337.8
L 552.3 392.83
L 552.58 337.4
L 552.86 392.83
L 553.14 342.42
L 553.42 342.98
L 553.7 335.42
L 553.98 392.83
L 554.26 392.83
L 554.53 392.83
L 554.81 392.83
L 555.09 392.83
L 555.37 392.83
L 555.65 392.83
L 555.93 328
L 556.21 392.83
L 556.49 392.83
L 556.77 334.97
L 557.05 392.83
L 557.33 392.83
L 557.6 392.83
L 557.88 338.82
L 558.16 340.02
L 558.44 340.54
L 558.72 337.08
L 559 329.16
L 559.28 392.83
L 559.56 344.41
L 559.84 336.16
L 560.12 392.83
L 560.39 350.81
L 560.67 342.68
L 560.95 392.83
L 561.23 392.83
L 561.51 336.07
L 561.79 392.83
L 562.07 392.83
L 562.35 336.39
L 562.63 331.1
L 562.9 392.83
L 563.18 392.83
L 563.46 327.04
L 563.74 392.83
L 564.02 392.83
L 564.3 343.12
L 564.58 392.83
L 564.86 392.83
L 565.14 332.52
L 565.42 343.77
L 565.7 392.83
L 565.97 330.18
L 566.25 343.46
L 566.53 330.98
L 566.81 392.83
L 567.09 392.83
L 567.37 334.47
L 567.65 392.83
L 567.93 392.83
L 568.21 392.83
L 568.49 338.08
L 568.76 342.4
L 569.04 392.83
L 569.32 333.32
L 569.6 332.55
L 569.88 392.83
L 570.16 392.83
L 570.44 345.46
L 570.72 341.95
L 571 392.83
L 571.27 392.83
L 571.55 331.8
L 571.83 392.83
L 572.11 328.02
L 572.39 333.92
L 572.67 334.08
L 572.95 392.83
L 573.23 392.83
L 573.51 392.83
L 573.79 392.83
L 574.07 392.83
L 574.34 392.83
L 574.62 392.83
L 574.9 337.78
L 575.18 392.83
L 575.46 338.58
L 575.74 325.33
L 576.02 343.43
L 576.3 392.83
L 576.58 339.64
L 576.86 392.83
L 577.13 392.83
L 577.41 334.9
L 577.69 328.12
L 577.97 333.86
L 578.25 331.26
L 578.53 332.8
L 578.81 338.54
L 579.09 330.85
L 579.37 323.16
L 579.64 329.91
L 579.92 337.45
L 580.2 333.73
L 580.48 334.36
L 580.76 336.03
L 581.04 392.83
L 581.32 335.28
L 581.6 346.83
L 581.88 340.68
L 582.16 336.98
L 582.43 335.09
L 582.71 335.53
L 582.99 331.27
L 583.27 335.79
L 583.55 345.02
L 583.83 344.56
L 584.11 344.41
L 584.39 335.56
L 584.67 332.15
L 584.95 339.73
L 585.23 338.6
L 585.5 392.83
L 585.78 335.62
L 586.06 392.83
L 586.34 340.61
L 586.62 332.86
L 586.9 343.46
L 587.18 330.51
L 587.46 333.94
L 587.74 342.56
L 588.01 338.49
L 588.29 343.32
L 588.57 335.95
L 588.85 392.83
L 589.13 392.83
L 589.41 392.83
L 589.69 337.76
L 589.97 343.85
L 590.25 330.04
L 590.53 334.58
L 590.8 336.35
L 591.08 329.82
L 591.36 338.96
L 591.64 330.75
L 591.92 332.65
L 592.2 339.65
L 592.48 335.19
L 592.76 392.83
L 593.04 324.43
L 593.32 392.83
L 593.6 355.22
L 593.87 331.11
L 594.15 392.83
L 594.43 332.22
L 594.71 392.83
L 594.99 392.83
L 595.27 392.83
L 595.55 392.83
L 595.83 343.09
L 596.11 333.35
L 596.38 345.81
L 596.66 392.83
L 596.94 392.83
L 597.22 333.66
L 597.5 333.83
L 597.78 392.83
L 598.06 392.83
L 598.34 330.29
L 598.62 392.83
L 598.9 342.33
L 599.17 341.22
L 599.45 328.53
L 599.73 392.83
L 600.01 335.99
L 600.29 392.83
L 600.57 336.49
L 600.85 392.83
L 601.13 349.96
L 601.41 392.83
L 601.69 337.55
L 601.97 392.83
L 602.24 392.83
L 602.52 392.83
L 602.8 343.74
L 603.08 392.83
L 603.36 392.83
L 603.64 341.6
L 603.92 392.83
L 604.2 326.45
L 604.48 332.53
L 604.75 329.72
L 605.03 342.95
L 605.31 344.64
L 605.59 392.83
L 605.87 392.83
L 606.15 335.91
L 606.43 392.83
L 606.71 323.83
L 606.99 334.58
L 607.27 331.33
L 607.54 392.83
L 607.82 392.83
L 608.1 392.83
L 608.38 392.83
L 608.66 392.83
L 608.94 392.83
L 609.22 392.83
L 609.5 392.83
L 609.78 334.06
L 610.06 392.83
L 610.34 392.83
L 610.61 392.83
L 610.89 392.83
L 611.17 392.83
L 611.45 349.85
L 611.73 392.83
L 612.01 331.29
L 612.29 392.83
L 612.57 332.86
L 612.85 392.83
L 613.12 328.55
L 613.4 392.83
L 613.68 338.58
L 613.96 392.83
L 614.24 392.83
L 614.52 337.26
L 614.8 335.83
L 615.08 392.83
L 615.36 337.15
L 615.64 392.83
L 615.91 334.75
L 616.19 343.03
L 616.47 363.99
L 616.75 331.47
L 617.03 392.83
L 617.31 340.61
L 617.59 348.76
L 617.87 392.83
L 618.15 392.83
L 618.43 392.83
L 618.71 392.83
L 618.98 343.17
L 619.26 392.83
L 619.54 392.83
L 619.82 392.83
L 620.1 392.83
L 620.38 392.83
L 620.66 392.83
L 620.94 352.09
L 621.22 392.83
L 621.5 392.83
L 621.77 392.83
L 622.05 392.83
L 622.33 328.58
L 622.61 392.83
L 622.89 336.22
L 623.17 392.83
L 623.45 392.83
L 623.73 332.55
L 624.01 349.18
L 624.28 392.83
L 624.56 392.83
L 624.84 392.83
L 625.12 334.55
L 625.4 392.83
L 625.68 392.83
L 625.96 392.83
L 626.24 392.83
L 626.52 335.58
L 626.8 338.79
L 627.08 392.83
L 627.35 392.83
L 627.63 392.83
L 627.91 331.52
L 628.19 392.83
L 628.47 392.83
L 628.75 392.83
L 629.03 340.89
L 629.31 392.83
L 629.59 392.83
L 629.87 332.28
L 630.14 392.83
L 630.42 392.83
L 630.7 392.83
L 630.98 392.83
L 631.26 392.83
L 631.54 392.83
L 631.82 392.83
L 632.1 392.83
L 632.38 392.83
L 632.65 392.83
L 632.93 330.2
L 633.21 392.83
L 633.49 324.25
L 633.77 392.83
L 634.05 330.85
L 634.33 335.11
L 634.61 338.48
L 634.89 336.59
L 635.17 392.83
L 635.45 347.72
L 635.72 392.83
L 636 392.83
L 636.28 337.63
L 636.56 392.83
L 636.84 334.62
L 637.12 333.02
L 637.4 331.98
L 637.68 328.27
L 637.96 341.66
L 638.24 340.7
L 638.51 392.83
L 638.79 351.86
L 639.07 336.41
L 639.35 392.83
L 639.63 360.34
L 639.91 333.3
L 640.19 340.17
L 640.47 392.83
L 640.75 335.59
L 641.02 329.61
L 641.3 335.53
L 641.58 334.82
L 641.86 331.86
L 642.14 331.85
L 642.42 392.83
L 642.7 333.72
L 642.98 322.43
L 643.26 347.77
L 643.54 339.16
L 643.82 334.77
L 644.09 324.38
L 644.37 392.83
L 644.65 357.78
L 644.93 344.11
L 645.21 392.83
L 645.49 392.83
L 645.77 392.83
L 646.05 392.83
L 646.33 392.83
L 646.61 330.58
L 646.88 392.83
L 647.16 392.83
L 647.44 337.04
L 647.72 392.83
L 648 392.83
" clip-path="url(#p30c51ce82e)" style="fill: none; stroke: #ff7f0e; stroke-width: 1.75; stroke-linecap: round"/>
   </g>
   <g id="line2d_111">
    <path d="M 90 392.83
L 90.28 392.83
L 90.56 392.83
L 90.84 350.21
L 91.12 349.92
L 91.39 392.83
L 91.67 392.83
L 91.95 392.83
L 92.23 392.83
L 92.51 392.83
L 92.79 392.83
L 93.07 392.83
L 93.35 392.83
L 93.63 392.83
L 93.91 336.61
L 94.19 339.26
L 94.46 343.73
L 94.74 348.92
L 95.02 352.63
L 95.3 392.83
L 95.58 392.83
L 95.86 392.83
L 96.14 392.83
L 96.42 392.83
L 96.7 392.83
L 96.97 392.83
L 97.25 332.17
L 97.53 330.03
L 97.81 331.21
L 98.09 334.86
L 98.37 338.56
L 98.65 340.14
L 98.93 339.09
L 99.21 336.27
L 99.49 332.97
L 99.77 330.26
L 100.04 328.94
L 100.32 329.35
L 100.6 331.31
L 100.88 333.73
L 101.16 335.19
L 101.44 392.83
L 101.72 392.83
L 102 329.06
L 102.28 392.83
L 102.56 392.83
L 102.83 392.83
L 103.11 334.66
L 103.39 392.83
L 103.67 392.83
L 103.95 392.83
L 104.23 392.83
L 104.51 355.19
L 104.79 392.83
L 105.07 392.83
L 105.34 392.83
L 105.62 392.83
L 105.9 392.83
L 106.18 392.83
L 106.46 392.83
L 106.74 392.83
L 107.02 392.83
L 107.3 337.61
L 107.58 342.64
L 107.86 348.16
L 108.14 352.86
L 108.41 355.62
L 108.69 356.01
L 108.97 354.25
L 109.25 392.83
L 109.53 392.83
L 109.81 392.83
L 110.09 338.63
L 110.37 336.01
L 110.65 335.21
L 110.92 336.43
L 111.2 392.83
L 111.48 342.73
L 111.76 392.83
L 112.04 392.83
L 112.32 392.83
L 112.6 392.83
L 112.88 342.84
L 113.16 343.35
L 113.44 345.59
L 113.72 392.83
L 113.99 352.48
L 114.27 354.64
L 114.55 392.83
L 114.83 353.53
L 115.11 392.83
L 115.39 392.83
L 115.67 392.83
L 115.95 342
L 116.23 338.32
L 116.5 335.83
L 116.78 335.06
L 117.06 335.59
L 117.34 336.66
L 117.62 337.47
L 117.9 337.75
L 118.18 337.49
L 118.46 336.96
L 118.74 336.52
L 119.02 336.55
L 119.3 336.96
L 119.57 337.33
L 119.85 337.11
L 120.13 336.49
L 120.41 336.13
L 120.69 336.77
L 120.97 338.43
L 121.25 340.77
L 121.53 343.56
L 121.81 392.83
L 122.08 392.83
L 122.36 392.83
L 122.64 392.83
L 122.92 392.83
L 123.2 392.83
L 123.48 392.83
L 123.76 392.83
L 124.04 392.83
L 124.32 392.83
L 124.6 392.83
L 124.88 392.83
L 125.15 392.83
L 125.43 342.24
L 125.71 342.93
L 125.99 342.69
L 126.27 342.28
L 126.55 342.41
L 126.83 343.12
L 127.11 343.3
L 127.39 341.93
L 127.67 339.27
L 127.94 392.83
L 128.22 392.83
L 128.5 392.83
L 128.78 392.83
L 129.06 392.83
L 129.34 392.83
L 129.62 392.83
L 129.9 392.83
L 130.18 392.83
L 130.46 392.83
L 130.73 392.83
L 131.01 392.83
L 131.29 344.52
L 131.57 392.83
L 131.85 344.56
L 132.13 343.79
L 132.41 392.83
L 132.69 392.83
L 132.97 392.83
L 133.25 392.83
L 133.52 392.83
L 133.8 335.85
L 134.08 392.83
L 134.36 392.83
L 134.64 392.83
L 134.92 392.83
L 135.2 392.83
L 135.48 392.83
L 135.76 392.83
L 136.03 392.83
L 136.31 392.83
L 136.59 339.41
L 136.87 338.54
L 137.15 337.9
L 137.43 337.76
L 137.71 338.71
L 137.99 341.52
L 138.27 392.83
L 138.55 392.83
L 138.82 392.83
L 139.1 355.71
L 139.38 392.83
L 139.66 392.83
L 139.94 392.83
L 140.22 340.87
L 140.5 339.39
L 140.78 339.67
L 141.06 340.79
L 141.34 341.69
L 141.62 341.91
L 141.89 342
L 142.17 392.83
L 142.45 344.5
L 142.73 392.83
L 143.01 392.83
L 143.29 392.83
L 143.57 392.83
L 143.85 392.83
L 144.13 392.83
L 144.41 392.83
L 144.68 392.83
L 144.96 392.83
L 145.24 351.83
L 145.52 350.05
L 145.8 346.94
L 146.08 344.29
L 146.36 343.47
L 146.64 344.57
L 146.92 346.54
L 147.19 348.38
L 147.47 349.93
L 147.75 351.86
L 148.03 354.44
L 148.31 392.83
L 148.59 392.83
L 148.87 392.83
L 149.15 392.83
L 149.43 392.83
L 149.71 343.6
L 149.99 340.42
L 150.26 392.83
L 150.54 392.83
L 150.82 392.83
L 151.1 392.83
L 151.38 392.83
L 151.66 392.83
L 151.94 392.83
L 152.22 392.83
L 152.5 392.83
L 152.78 392.83
L 153.05 352.12
L 153.33 392.83
L 153.61 392.83
L 153.89 349.3
L 154.17 392.83
L 154.45 349.93
L 154.73 349.49
L 155.01 392.83
L 155.29 392.83
L 155.56 339.7
L 155.84 392.83
L 156.12 335.5
L 156.4 335.74
L 156.68 392.83
L 156.96 338.28
L 157.24 340.72
L 157.52 343.19
L 157.8 392.83
L 158.08 392.83
L 158.35 392.83
L 158.63 392.83
L 158.91 392.83
L 159.19 392.83
L 159.47 392.83
L 159.75 392.83
L 160.03 337.24
L 160.31 392.83
L 160.59 392.83
L 160.87 392.83
L 161.15 335.91
L 161.42 392.83
L 161.7 392.83
L 161.98 392.83
L 162.26 392.83
L 162.54 351.36
L 162.82 352.11
L 163.1 349.72
L 163.38 346.45
L 163.66 345.09
L 163.94 346.83
L 164.21 350.85
L 164.49 355.19
L 164.77 392.83
L 165.05 358.81
L 165.33 357.8
L 165.61 356.04
L 165.89 392.83
L 166.17 352.34
L 166.45 392.83
L 166.72 392.83
L 167 349.84
L 167.28 392.83
L 167.56 392.83
L 167.84 392.83
L 168.12 392.83
L 168.4 392.83
L 168.68 392.83
L 168.96 392.83
L 169.24 392.83
L 169.51 392.83
L 169.79 392.83
L 170.07 334.28
L 170.35 333.46
L 170.63 392.83
L 170.91 392.83
L 171.19 392.83
L 171.47 392.83
L 171.75 392.83
L 172.03 392.83
L 172.31 392.83
L 172.58 392.83
L 172.86 392.83
L 173.14 392.83
L 173.42 392.83
L 173.7 392.83
L 173.98 392.83
L 174.26 392.83
L 174.54 392.83
L 174.82 392.83
L 175.09 392.83
L 175.37 344.13
L 175.65 392.83
L 175.93 392.83
L 176.21 392.83
L 176.49 392.83
L 176.77 392.83
L 177.05 332.78
L 177.33 338.94
L 177.61 345.19
L 177.88 392.83
L 178.16 351.1
L 178.44 349.42
L 178.72 346.3
L 179 344.13
L 179.28 344.3
L 179.56 346.57
L 179.84 349.65
L 180.12 392.83
L 180.4 392.83
L 180.68 392.83
L 180.95 392.83
L 181.23 392.83
L 181.51 346
L 181.79 347.34
L 182.07 392.83
L 182.35 349.01
L 182.63 392.83
L 182.91 349.21
L 183.19 348.29
L 183.47 346.26
L 183.74 344.22
L 184.02 343.85
L 184.3 345.69
L 184.58 392.83
L 184.86 392.83
L 185.14 392.83
L 185.42 392.83
L 185.7 340.02
L 185.98 339
L 186.25 392.83
L 186.53 392.83
L 186.81 392.83
L 187.09 392.83
L 187.37 392.83
L 187.65 392.83
L 187.93 346.89
L 188.21 392.83
L 188.49 343.94
L 188.77 344.33
L 189.04 392.83
L 189.32 392.83
L 189.6 392.83
L 189.88 392.83
L 190.16 392.83
L 190.44 392.83
L 190.72 392.83
L 191 392.83
L 191.28 338.99
L 191.56 338.65
L 191.84 392.83
L 192.11 392.83
L 192.39 392.83
L 192.67 392.83
L 192.95 346.66
L 193.23 350.88
L 193.51 353.89
L 193.79 354.38
L 194.07 352.68
L 194.35 350.69
L 194.62 349.92
L 194.9 392.83
L 195.18 392.83
L 195.46 349.58
L 195.74 347.16
L 196.02 392.83
L 196.3 392.83
L 196.58 392.83
L 196.86 392.83
L 197.14 392.83
L 197.41 392.83
L 197.69 392.83
L 197.97 392.83
L 198.25 342.02
L 198.53 344.72
L 198.81 347.63
L 199.09 350
L 199.37 392.83
L 199.65 392.83
L 199.93 347.62
L 200.21 345.93
L 200.48 345.24
L 200.76 345.41
L 201.04 345.84
L 201.32 345.95
L 201.6 345.66
L 201.88 345.32
L 202.16 344.93
L 202.44 343.93
L 202.72 341.91
L 203 392.83
L 203.27 337.21
L 203.55 392.83
L 203.83 392.83
L 204.11 392.83
L 204.39 392.83
L 204.67 392.83
L 204.95 392.83
L 205.23 392.83
L 205.51 392.83
L 205.78 392.83
L 206.06 392.83
L 206.34 347.8
L 206.62 392.83
L 206.9 392.83
L 207.18 347.92
L 207.46 392.83
L 207.74 392.83
L 208.02 338
L 208.3 336.93
L 208.57 392.83
L 208.85 392.83
L 209.13 392.83
L 209.41 347.26
L 209.69 392.83
L 209.97 392.83
L 210.25 392.83
L 210.53 392.83
L 210.81 392.83
L 211.09 392.83
L 211.37 392.83
L 211.64 392.83
L 211.92 392.83
L 212.2 392.83
L 212.48 392.83
L 212.76 392.83
L 213.04 392.83
L 213.32 392.83
L 213.6 392.83
L 213.88 392.83
L 214.16 392.83
L 214.43 392.83
L 214.71 392.83
L 214.99 392.83
L 215.27 392.83
L 215.55 392.83
L 215.83 392.83
L 216.11 392.83
L 216.39 392.83
L 216.67 343.8
L 216.94 392.83
L 217.22 346.8
L 217.5 392.83
L 217.78 392.83
L 218.06 356.6
L 218.34 357.12
L 218.62 392.83
L 218.9 353.94
L 219.18 352.54
L 219.46 351.62
L 219.74 350.39
L 220.01 348.34
L 220.29 346.09
L 220.57 344.7
L 220.85 344.42
L 221.13 344.65
L 221.41 392.83
L 221.69 392.83
L 221.97 345.04
L 222.25 345.38
L 222.53 345.68
L 222.8 346.04
L 223.08 346.36
L 223.36 346.14
L 223.64 344.97
L 223.92 392.83
L 224.2 392.83
L 224.48 341.59
L 224.76 392.83
L 225.04 392.83
L 225.31 347.31
L 225.59 392.83
L 225.87 392.83
L 226.15 392.83
L 226.43 392.83
L 226.71 392.83
L 226.99 392.83
L 227.27 392.83
L 227.55 392.83
L 227.83 392.83
L 228.1 392.83
L 228.38 392.83
L 228.66 392.83
L 228.94 352.85
L 229.22 392.83
L 229.5 347.2
L 229.78 346.74
L 230.06 347.75
L 230.34 392.83
L 230.62 348.66
L 230.9 392.83
L 231.17 392.83
L 231.45 392.83
L 231.73 392.83
L 232.01 392.83
L 232.29 392.83
L 232.57 392.83
L 232.85 392.83
L 233.13 392.83
L 233.41 392.83
L 233.69 392.83
L 233.96 392.83
L 234.24 392.83
L 234.52 392.83
L 234.8 392.83
L 235.08 392.83
L 235.36 392.83
L 235.64 392.83
L 235.92 392.83
L 236.2 349.68
L 236.47 392.83
L 236.75 349.68
L 237.03 350.79
L 237.31 350.94
L 237.59 349.25
L 237.87 346.12
L 238.15 392.83
L 238.43 341.17
L 238.71 392.83
L 238.99 392.83
L 239.26 392.83
L 239.54 348.78
L 239.82 392.83
L 240.1 392.83
L 240.38 392.83
L 240.66 392.83
L 240.94 392.83
L 241.22 392.83
L 241.5 392.83
L 241.78 392.83
L 242.06 392.83
L 242.33 392.83
L 242.61 339.37
L 242.89 392.83
L 243.17 338.84
L 243.45 339.29
L 243.73 340.16
L 244.01 341.37
L 244.29 342.59
L 244.57 343.21
L 244.84 342.82
L 245.12 392.83
L 245.4 392.83
L 245.68 392.83
L 245.96 392.83
L 246.24 338.93
L 246.52 392.83
L 246.8 392.83
L 247.08 342.4
L 247.36 342.46
L 247.63 342.37
L 247.91 342.67
L 248.19 343.18
L 248.47 343.32
L 248.75 342.86
L 249.03 342.2
L 249.31 341.74
L 249.59 392.83
L 249.87 392.83
L 250.15 392.83
L 250.43 392.83
L 250.7 392.83
L 250.98 392.83
L 251.26 392.83
L 251.54 347.35
L 251.82 392.83
L 252.1 392.83
L 252.38 350.56
L 252.66 392.83
L 252.94 392.83
L 253.22 392.83
L 253.49 392.83
L 253.77 392.83
L 254.05 336.01
L 254.33 337.61
L 254.61 392.83
L 254.89 342.04
L 255.17 343.33
L 255.45 392.83
L 255.73 340.97
L 256 338.51
L 256.28 392.83
L 256.56 392.83
L 256.84 392.83
L 257.12 392.83
L 257.4 392.83
L 257.68 392.83
L 257.96 392.83
L 258.24 345.93
L 258.52 392.83
L 258.8 392.83
L 259.07 337.47
L 259.35 392.83
L 259.63 392.83
L 259.91 392.83
L 260.19 341.36
L 260.47 345.23
L 260.75 349.58
L 261.03 353.24
L 261.31 355.02
L 261.58 354.85
L 261.86 354.07
L 262.14 392.83
L 262.42 354.96
L 262.7 392.83
L 262.98 392.83
L 263.26 392.83
L 263.54 392.83
L 263.82 392.83
L 264.1 346.74
L 264.38 344.83
L 264.65 392.83
L 264.93 344.71
L 265.21 345.7
L 265.49 392.83
L 265.77 392.83
L 266.05 392.83
L 266.33 392.83
L 266.61 392.83
L 266.89 392.83
L 267.17 392.83
L 267.44 392.83
L 267.72 392.83
L 268 355.06
L 268.28 355.27
L 268.56 392.83
L 268.84 346.84
L 269.12 341.99
L 269.4 339.73
L 269.68 340.58
L 269.95 343.5
L 270.23 346.47
L 270.51 347.6
L 270.79 346.18
L 271.07 392.83
L 271.35 392.83
L 271.63 392.83
L 271.91 392.83
L 272.19 392.83
L 272.47 344.36
L 272.75 345.56
L 273.02 392.83
L 273.3 392.83
L 273.58 343.13
L 273.86 340.32
L 274.14 335.58
L 274.42 330.12
L 274.7 326.36
L 274.98 326.06
L 275.26 329.15
L 275.54 334.21
L 275.81 339.62
L 276.09 343.69
L 276.37 345.02
L 276.65 343.25
L 276.93 339.52
L 277.21 336.03
L 277.49 334.65
L 277.77 335.81
L 278.05 338.94
L 278.32 343.23
L 278.6 347.93
L 278.88 352.5
L 279.16 356.46
L 279.44 359.37
L 279.72 360.93
L 280 360.61
L 280.28 392.83
L 280.56 392.83
L 280.84 392.83
L 281.12 392.83
L 281.39 392.83
L 281.67 392.83
L 281.95 392.83
L 282.23 392.83
L 282.51 392.83
L 282.79 350.98
L 283.07 392.83
L 283.35 392.83
L 283.63 351.12
L 283.9 392.83
L 284.18 345.8
L 284.46 392.83
L 284.74 392.83
L 285.02 336.42
L 285.3 334.89
L 285.58 333.92
L 285.86 333
L 286.14 392.83
L 286.42 392.83
L 286.69 392.83
L 286.97 392.83
L 287.25 392.83
L 287.53 346.47
L 287.81 392.83
L 288.09 392.83
L 288.37 392.83
L 288.65 392.83
L 288.93 392.83
L 289.21 392.83
L 289.49 340.82
L 289.76 341.2
L 290.04 341.76
L 290.32 342.74
L 290.6 344.3
L 290.88 345.55
L 291.16 345.37
L 291.44 392.83
L 291.72 392.83
L 292 392.83
L 292.27 392.83
L 292.55 392.83
L 292.83 392.83
L 293.11 392.83
L 293.39 392.83
L 293.67 392.83
L 293.95 392.83
L 294.23 392.83
L 294.51 392.83
L 294.79 392.83
L 295.06 392.83
L 295.34 392.83
L 295.62 392.83
L 295.9 392.83
L 296.18 392.83
L 296.46 392.83
L 296.74 392.83
L 297.02 392.83
L 297.3 337.94
L 297.58 335.85
L 297.86 333.46
L 298.13 331.41
L 298.41 330.77
L 298.69 332.13
L 298.97 335.07
L 299.25 338.43
L 299.53 341.48
L 299.81 392.83
L 300.09 346.83
L 300.37 392.83
L 300.64 392.83
L 300.92 346.86
L 301.2 344.68
L 301.48 342.69
L 301.76 341.17
L 302.04 340.25
L 302.32 392.83
L 302.6 392.83
L 302.88 392.83
L 303.16 392.83
L 303.44 392.83
L 303.71 392.83
L 303.99 332.48
L 304.27 329.28
L 304.55 392.83
L 304.83 392.83
L 305.11 392.83
L 305.39 392.83
L 305.67 392.83
L 305.95 392.83
L 306.23 392.83
L 306.5 340.4
L 306.78 339.28
L 307.06 339.28
L 307.34 340.43
L 307.62 342.02
L 307.9 392.83
L 308.18 392.83
L 308.46 342.92
L 308.74 392.83
L 309.01 392.83
L 309.29 342.24
L 309.57 392.83
L 309.85 392.83
L 310.13 342.34
L 310.41 392.83
L 310.69 343.31
L 310.97 392.83
L 311.25 392.83
L 311.53 347.58
L 311.81 392.83
L 312.08 347.2
L 312.36 392.83
L 312.64 392.83
L 312.92 392.83
L 313.2 392.83
L 313.48 392.83
L 313.76 343.76
L 314.04 392.83
L 314.32 343.41
L 314.6 343.04
L 314.87 343.1
L 315.15 344.46
L 315.43 347.28
L 315.71 350.8
L 315.99 353.91
L 316.27 355.99
L 316.55 356.95
L 316.83 356.7
L 317.11 354.76
L 317.38 351.09
L 317.66 346.56
L 317.94 342.43
L 318.22 339.32
L 318.5 337.17
L 318.78 335.81
L 319.06 335.41
L 319.34 335.9
L 319.62 336.5
L 319.9 336.37
L 320.18 392.83
L 320.45 392.83
L 320.73 335.31
L 321.01 336.23
L 321.29 392.83
L 321.57 392.83
L 321.85 392.83
L 322.13 392.83
L 322.41 392.83
L 322.69 392.83
L 322.96 392.83
L 323.24 353.1
L 323.52 350.57
L 323.8 346.9
L 324.08 342.97
L 324.36 339.53
L 324.64 337.37
L 324.92 392.83
L 325.2 338.51
L 325.48 392.83
L 325.75 342.14
L 326.03 342
L 326.31 392.83
L 326.59 392.83
L 326.87 333.49
L 327.15 332.87
L 327.43 335.17
L 327.71 339.33
L 327.99 343.6
L 328.27 346.64
L 328.55 392.83
L 328.82 392.83
L 329.1 392.83
L 329.38 392.83
L 329.66 392.83
L 329.94 392.83
L 330.22 392.83
L 330.5 392.83
L 330.78 392.83
L 331.06 392.83
L 331.33 392.83
L 331.61 392.83
L 331.89 328.61
L 332.17 330.13
L 332.45 330.54
L 332.73 329.62
L 333.01 392.83
L 333.29 326.81
L 333.57 325.66
L 333.85 392.83
L 334.12 392.83
L 334.4 392.83
L 334.68 392.83
L 334.96 392.83
L 335.24 392.83
L 335.52 392.83
L 335.8 392.83
L 336.08 338.82
L 336.36 339.93
L 336.64 392.83
L 336.92 392.83
L 337.19 392.83
L 337.47 392.83
L 337.75 392.83
L 338.03 392.83
L 338.31 392.83
L 338.59 392.83
L 338.87 392.83
L 339.15 337.54
L 339.43 392.83
L 339.7 392.83
L 339.98 330.77
L 340.26 329.38
L 340.54 328.48
L 340.82 392.83
L 341.1 392.83
L 341.38 392.83
L 341.66 333.01
L 341.94 392.83
L 342.22 392.83
L 342.5 337.21
L 342.77 337.08
L 343.05 337.68
L 343.33 338.51
L 343.61 338.46
L 343.89 392.83
L 344.17 392.83
L 344.45 392.83
L 344.73 392.83
L 345.01 383.11
L 345.29 373.45
L 345.56 364.5
L 345.84 356.27
L 346.12 348.75
L 346.4 341.94
L 346.68 335.84
L 346.96 330.44
L 347.24 325.73
L 347.52 321.69
L 347.8 318.36
L 348.07 315.66
L 348.35 313.56
L 348.63 312.02
L 348.91 310.96
L 349.19 310.29
L 349.47 309.89
L 349.75 309.63
L 350.03 309.41
L 350.31 309.16
L 350.59 308.87
L 350.87 308.56
L 351.14 308.28
L 351.42 308.08
L 351.7 307.98
L 351.98 307.98
L 352.26 308.09
L 352.54 308.29
L 352.82 308.58
L 353.1 308.94
L 353.38 309.33
L 353.65 309.72
L 353.93 310.05
L 354.21 310.33
L 354.49 310.57
L 354.77 310.88
L 355.05 311.37
L 355.33 312.15
L 355.61 313.36
L 355.89 315.09
L 356.17 317.37
L 356.44 320.27
L 356.72 323.69
L 357 326.69
L 357.28 325.44
L 357.56 317.49
L 357.84 308.33
L 358.12 302.12
L 358.4 300.03
L 358.68 302.31
L 358.96 308.98
L 359.24 319.43
L 359.51 326.93
L 359.79 319.47
L 360.07 309.05
L 360.35 302.39
L 360.63 300.16
L 360.91 302.39
L 361.19 309.1
L 361.47 320.26
L 361.75 335.92
L 362.02 356.02
L 362.3 380.24
L 362.58 392.83
L 362.86 392.83
L 363.14 392.83
L 363.42 388.7
L 363.7 380.35
L 363.98 372.32
L 364.26 364.61
L 364.54 357.22
L 364.81 350.15
L 365.09 343.28
L 365.37 336.89
L 365.65 330.84
L 365.93 325.03
L 366.21 319.54
L 366.49 314.34
L 366.77 309.48
L 367.05 304.91
L 367.33 300.64
L 367.61 296.68
L 367.88 293.01
L 368.16 289.64
L 368.44 286.55
L 368.72 283.75
L 369 281.23
L 369.28 278.99
L 369.56 277.01
L 369.84 275.3
L 370.12 273.86
L 370.39 272.66
L 370.67 271.72
L 370.95 271.03
L 371.23 270.58
L 371.51 270.38
L 371.79 270.42
L 372.07 270.71
L 372.35 271.23
L 372.63 272.01
L 372.91 273.03
L 373.19 274.31
L 373.46 275.85
L 373.74 277.65
L 374.02 279.71
L 374.3 282.05
L 374.58 284.66
L 374.86 287.56
L 375.14 290.74
L 375.42 294.22
L 375.7 297.99
L 375.98 302.05
L 376.25 306.43
L 376.53 311.1
L 376.81 316.08
L 377.09 321.37
L 377.37 326.98
L 377.65 332.89
L 377.93 339.13
L 378.21 345.67
L 378.49 352.54
L 378.76 359.72
L 379.04 367.21
L 379.32 374.96
L 379.6 382.77
L 379.88 389.72
L 380.16 392.83
L 380.44 389.45
L 380.72 381.06
L 381 371.23
L 381.28 361.31
L 381.56 351.54
L 381.83 342.34
L 382.11 333.31
L 382.39 324.71
L 382.67 316.45
L 382.95 308.54
L 383.23 300.96
L 383.51 293.74
L 383.79 286.87
L 384.07 280.35
L 384.35 274.17
L 384.62 268.35
L 384.9 262.87
L 385.18 257.75
L 385.46 252.97
L 385.74 248.53
L 386.02 244.45
L 386.3 240.7
L 386.58 237.3
L 386.86 234.24
L 387.13 231.52
L 387.41 229.12
L 387.69 227.06
L 387.97 225.31
L 388.25 223.88
L 388.53 222.73
L 388.81 221.85
L 389.09 221.21
L 389.37 220.77
L 389.65 220.5
L 389.93 220.34
L 390.2 220.26
L 390.48 220.22
L 390.76 220.21
L 391.04 220.23
L 391.32 220.26
L 391.6 220.34
L 391.88 220.46
L 392.16 220.65
L 392.44 220.92
L 392.71 221.29
L 392.99 221.78
L 393.27 222.41
L 393.55 223.18
L 393.83 224.12
L 394.11 225.24
L 394.39 226.54
L 394.67 228.04
L 394.95 229.73
L 395.23 231.63
L 395.5 233.74
L 395.78 236.06
L 396.06 238.59
L 396.34 241.34
L 396.62 244.31
L 396.9 247.49
L 397.18 250.9
L 397.46 254.53
L 397.74 258.37
L 398.02 262.44
L 398.3 266.73
L 398.57 271.24
L 398.85 275.96
L 399.13 280.91
L 399.41 286.07
L 399.69 291.41
L 399.97 296.88
L 400.25 302.3
L 400.53 307.2
L 400.81 310.6
L 401.08 311.17
L 401.36 308.48
L 401.64 303.57
L 401.92 297.71
L 402.2 291.62
L 402.48 285.59
L 402.76 279.73
L 403.04 274.09
L 403.32 268.68
L 403.6 263.49
L 403.88 258.55
L 404.15 253.83
L 404.43 249.35
L 404.71 245.1
L 404.99 241.09
L 405.27 237.3
L 405.55 233.75
L 405.83 230.43
L 406.11 227.34
L 406.39 224.48
L 406.67 221.84
L 406.94 219.43
L 407.22 217.24
L 407.5 215.26
L 407.78 213.5
L 408.06 211.95
L 408.34 210.6
L 408.62 209.44
L 408.9 208.47
L 409.18 207.66
L 409.45 207.02
L 409.73 206.51
L 410.01 206.13
L 410.29 205.85
L 410.57 205.66
L 410.85 205.53
L 411.13 205.46
L 411.41 205.43
L 411.69 205.44
L 411.97 205.48
L 412.25 205.56
L 412.52 205.7
L 412.8 205.89
L 413.08 206.16
L 413.36 206.52
L 413.64 206.99
L 413.92 207.57
L 414.2 208.29
L 414.48 209.14
L 414.76 210.16
L 415.04 211.33
L 415.31 212.68
L 415.59 214.21
L 415.87 215.92
L 416.15 217.81
L 416.43 219.9
L 416.71 222.18
L 416.99 224.66
L 417.27 227.34
L 417.55 230.21
L 417.82 233.28
L 418.1 236.56
L 418.38 240.03
L 418.66 243.71
L 418.94 247.57
L 419.22 251.62
L 419.5 255.82
L 419.78 260.12
L 420.06 264.4
L 420.34 268.41
L 420.62 271.73
L 420.89 273.77
L 421.17 274.05
L 421.45 272.58
L 421.73 269.83
L 422.01 266.38
L 422.29 262.65
L 422.57 258.86
L 422.85 255.15
L 423.13 251.55
L 423.4 248.1
L 423.68 244.8
L 423.96 241.67
L 424.24 238.7
L 424.52 235.89
L 424.8 233.25
L 425.08 230.76
L 425.36 228.44
L 425.64 226.29
L 425.92 224.29
L 426.19 222.45
L 426.47 220.78
L 426.75 219.27
L 427.03 217.91
L 427.31 216.72
L 427.59 215.69
L 427.87 214.82
L 428.15 214.1
L 428.43 213.55
L 428.71 213.16
L 428.99 212.92
L 429.26 212.84
L 429.54 212.92
L 429.82 213.15
L 430.1 213.52
L 430.38 214.05
L 430.66 214.73
L 430.94 215.56
L 431.22 216.54
L 431.5 217.66
L 431.77 218.94
L 432.05 220.37
L 432.33 221.95
L 432.61 223.69
L 432.89 225.57
L 433.17 227.61
L 433.45 229.8
L 433.73 232.15
L 434.01 234.65
L 434.29 237.31
L 434.56 240.12
L 434.84 243.09
L 435.12 246.22
L 435.4 249.5
L 435.68 252.94
L 435.96 256.54
L 436.24 260.29
L 436.52 264.2
L 436.8 268.27
L 437.08 272.49
L 437.36 276.84
L 437.63 281.31
L 437.91 285.8
L 438.19 290.14
L 438.47 293.92
L 438.75 296.43
L 439.03 296.85
L 439.31 294.89
L 439.59 291.13
L 439.87 286.44
L 440.14 281.42
L 440.42 276.39
L 440.7 271.5
L 440.98 266.81
L 441.26 262.35
L 441.54 258.12
L 441.82 254.13
L 442.1 250.38
L 442.38 246.88
L 442.66 243.61
L 442.94 240.59
L 443.21 237.82
L 443.49 235.29
L 443.77 233
L 444.05 230.96
L 444.33 229.17
L 444.61 227.63
L 444.89 226.34
L 445.17 225.29
L 445.45 224.49
L 445.73 223.94
L 446 223.63
L 446.28 223.55
L 446.56 223.69
L 446.84 224.06
L 447.12 224.63
L 447.4 225.41
L 447.68 226.41
L 447.96 227.6
L 448.24 229.01
L 448.51 230.62
L 448.79 232.43
L 449.07 234.46
L 449.35 236.7
L 449.63 239.14
L 449.91 241.8
L 450.19 244.67
L 450.47 247.75
L 450.75 251.04
L 451.03 254.54
L 451.31 258.25
L 451.58 262.18
L 451.86 266.31
L 452.14 270.66
L 452.42 275.22
L 452.7 279.99
L 452.98 284.97
L 453.26 290.16
L 453.54 295.56
L 453.82 301.17
L 454.1 306.99
L 454.37 313.02
L 454.65 319.28
L 454.93 325.73
L 455.21 332.4
L 455.49 339.28
L 455.77 346.37
L 456.05 353.67
L 456.33 360.88
L 456.61 368.41
L 456.88 375.63
L 457.16 381.32
L 457.44 382.02
L 457.72 392.83
L 458 364.38
L 458.28 352.59
L 458.56 349.21
L 458.84 346.61
L 459.12 392.83
L 459.4 392.83
L 459.68 392.83
L 459.95 347.13
L 460.23 392.83
L 460.51 392.83
L 460.79 392.83
L 461.07 392.83
L 461.35 339.7
L 461.63 342.79
L 461.91 392.83
L 462.19 347.83
L 462.46 348.62
L 462.74 392.83
L 463.02 351.74
L 463.3 392.83
L 463.58 356.48
L 463.86 392.83
L 464.14 392.83
L 464.42 392.83
L 464.7 392.83
L 464.98 392.83
L 465.25 392.83
L 465.53 392.83
L 465.81 392.83
L 466.09 392.83
L 466.37 348.01
L 466.65 392.83
L 466.93 353.27
L 467.21 355.71
L 467.49 357.54
L 467.77 357.88
L 468.05 356.32
L 468.32 392.83
L 468.6 392.83
L 468.88 392.83
L 469.16 392.83
L 469.44 392.83
L 469.72 392.83
L 470 392.83
L 470.28 362.7
L 470.56 392.83
L 470.83 353.73
L 471.11 348.76
L 471.39 346.36
L 471.67 347.25
L 471.95 350.42
L 472.23 353.99
L 472.51 392.83
L 472.79 392.83
L 473.07 392.83
L 473.35 392.83
L 473.62 392.83
L 473.9 392.83
L 474.18 349.17
L 474.46 347.03
L 474.74 344.44
L 475.02 342
L 475.3 340.12
L 475.58 338.83
L 475.86 392.83
L 476.14 392.83
L 476.42 392.83
L 476.69 392.83
L 476.97 392.83
L 477.25 353.86
L 477.53 355.75
L 477.81 356.42
L 478.09 356.83
L 478.37 357.74
L 478.65 359.02
L 478.93 359.43
L 479.2 392.83
L 479.48 392.83
L 479.76 392.83
L 480.04 392.83
L 480.32 392.83
L 480.6 392.83
L 480.88 392.83
L 481.16 392.83
L 481.44 349.43
L 481.72 349.43
L 482 348.67
L 482.27 347.59
L 482.55 347.55
L 482.83 349.26
L 483.11 352.27
L 483.39 355.26
L 483.67 392.83
L 483.95 356.57
L 484.23 353.35
L 484.51 348.12
L 484.79 342.93
L 485.06 340.09
L 485.34 392.83
L 485.62 342.49
L 485.9 345.01
L 486.18 392.83
L 486.46 392.83
L 486.74 343.46
L 487.02 392.83
L 487.3 342.77
L 487.57 345.16
L 487.85 347.19
L 488.13 346.85
L 488.41 344.14
L 488.69 341.04
L 488.97 339.8
L 489.25 340.85
L 489.53 342.96
L 489.81 344.12
L 490.09 343.13
L 490.37 392.83
L 490.64 392.83
L 490.92 392.83
L 491.2 392.83
L 491.48 392.83
L 491.76 392.83
L 492.04 392.83
L 492.32 392.83
L 492.6 392.83
L 492.88 392.83
L 493.15 334.27
L 493.43 330.14
L 493.71 328.74
L 493.99 330.47
L 494.27 334.16
L 494.55 338.05
L 494.83 392.83
L 495.11 342.19
L 495.39 343.14
L 495.67 392.83
L 495.94 348.06
L 496.22 351.2
L 496.5 352.05
L 496.78 349.41
L 497.06 344.42
L 497.34 339.4
L 497.62 392.83
L 497.9 392.83
L 498.18 392.83
L 498.46 337.87
L 498.74 392.83
L 499.01 392.83
L 499.29 392.83
L 499.57 347.9
L 499.85 392.83
L 500.13 392.83
L 500.41 346.24
L 500.69 345.85
L 500.97 346.57
L 501.25 347.67
L 501.52 348.22
L 501.8 347.93
L 502.08 347.01
L 502.36 346.16
L 502.64 392.83
L 502.92 392.83
L 503.2 392.83
L 503.48 392.83
L 503.76 392.83
L 504.04 392.83
L 504.31 392.83
L 504.59 392.83
L 504.87 392.83
L 505.15 392.83
L 505.43 392.83
L 505.71 347.91
L 505.99 392.83
L 506.27 341.34
L 506.55 339.26
L 506.83 339.13
L 507.11 341.01
L 507.38 344.2
L 507.66 347.62
L 507.94 350.28
L 508.22 351.8
L 508.5 352.09
L 508.78 351.35
L 509.06 349.85
L 509.34 347.89
L 509.62 345.95
L 509.89 344.21
L 510.17 342.48
L 510.45 340.52
L 510.73 338.43
L 511.01 336.84
L 511.29 392.83
L 511.57 337.71
L 511.85 340.36
L 512.13 343.91
L 512.41 347.9
L 512.68 392.83
L 512.96 392.83
L 513.24 354.99
L 513.52 392.83
L 513.8 392.83
L 514.08 392.83
L 514.36 392.83
L 514.64 392.83
L 514.92 392.83
L 515.2 392.83
L 515.48 392.83
L 515.75 392.83
L 516.03 392.83
L 516.31 336.88
L 516.59 392.83
L 516.87 392.83
L 517.15 392.83
L 517.43 392.83
L 517.71 347.99
L 517.99 352.56
L 518.26 355.81
L 518.54 356.73
L 518.82 355.76
L 519.1 354.05
L 519.38 392.83
L 519.66 392.83
L 519.94 347.21
L 520.22 342.52
L 520.5 337.07
L 520.78 392.83
L 521.05 392.83
L 521.33 331.94
L 521.61 335.25
L 521.89 338.95
L 522.17 340.89
L 522.45 339.31
L 522.73 334.29
L 523.01 327.86
L 523.29 322.86
L 523.57 321.16
L 523.85 392.83
L 524.12 392.83
L 524.4 334.52
L 524.68 392.83
L 524.96 392.83
L 525.24 392.83
L 525.52 392.83
L 525.8 392.83
L 526.08 355.8
L 526.36 352.49
L 526.63 392.83
L 526.91 348.01
L 527.19 348.4
L 527.47 349.84
L 527.75 351.6
L 528.03 352.93
L 528.31 353.16
L 528.59 351.93
L 528.87 392.83
L 529.15 392.83
L 529.42 392.83
L 529.7 353.17
L 529.98 392.83
L 530.26 392.83
L 530.54 354.79
L 530.82 392.83
L 531.1 392.83
L 531.38 392.83
L 531.66 392.83
L 531.94 392.83
L 532.22 392.83
L 532.49 345.23
L 532.77 345.33
L 533.05 348.04
L 533.33 392.83
L 533.61 392.83
L 533.89 392.83
L 534.17 392.83
L 534.45 392.83
L 534.73 392.83
L 535 392.83
L 535.28 392.83
L 535.56 344.15
L 535.84 392.83
L 536.12 345.06
L 536.4 345.39
L 536.68 345.5
L 536.96 345.33
L 537.24 344.86
L 537.52 344.46
L 537.79 344.45
L 538.07 344.86
L 538.35 345.01
L 538.63 344.31
L 538.91 342.71
L 539.19 340.91
L 539.47 339.71
L 539.75 339.34
L 540.03 339.62
L 540.31 340.54
L 540.59 342.23
L 540.86 344.34
L 541.14 392.83
L 541.42 392.83
L 541.7 344.27
L 541.98 343.93
L 542.26 345.5
L 542.54 348.06
L 542.82 349.43
L 543.1 392.83
L 543.38 345.77
L 543.65 342.97
L 543.93 392.83
L 544.21 392.83
L 544.49 392.83
L 544.77 392.83
L 545.05 392.83
L 545.33 392.83
L 545.61 392.83
L 545.89 348.64
L 546.16 346.39
L 546.44 345.59
L 546.72 392.83
L 547 392.83
L 547.28 392.83
L 547.56 392.83
L 547.84 392.83
L 548.12 392.83
L 548.4 347.72
L 548.68 392.83
L 548.96 392.83
L 549.23 392.83
L 549.51 349.21
L 549.79 392.83
L 550.07 392.83
L 550.35 392.83
L 550.63 392.83
L 550.91 351.42
L 551.19 351.91
L 551.47 392.83
L 551.75 392.83
L 552.02 392.83
L 552.3 392.83
L 552.58 392.83
L 552.86 392.83
L 553.14 392.83
L 553.42 392.83
L 553.7 340.39
L 553.98 392.83
L 554.26 392.83
L 554.53 392.83
L 554.81 392.83
L 555.09 392.83
L 555.37 392.83
L 555.65 392.83
L 555.93 392.83
L 556.21 392.83
L 556.49 392.83
L 556.77 392.83
L 557.05 392.83
L 557.33 345.89
L 557.6 392.83
L 557.88 353.8
L 558.16 355.34
L 558.44 392.83
L 558.72 350.41
L 559 345.65
L 559.28 341.15
L 559.56 392.83
L 559.84 392.83
L 560.12 392.83
L 560.39 392.83
L 560.67 392.83
L 560.95 392.83
L 561.23 392.83
L 561.51 392.83
L 561.79 392.83
L 562.07 392.83
L 562.35 392.83
L 562.63 392.83
L 562.9 339.57
L 563.18 392.83
L 563.46 392.83
L 563.74 341.89
L 564.02 392.83
L 564.3 392.83
L 564.58 346.95
L 564.86 392.83
L 565.14 392.83
L 565.42 348.08
L 565.7 392.83
L 565.97 392.83
L 566.25 392.83
L 566.53 392.83
L 566.81 350.55
L 567.09 392.83
L 567.37 392.83
L 567.65 392.83
L 567.93 392.83
L 568.21 392.83
L 568.49 392.83
L 568.76 392.83
L 569.04 392.83
L 569.32 392.83
L 569.6 392.83
L 569.88 392.83
L 570.16 392.83
L 570.44 355.69
L 570.72 392.83
L 571 360.06
L 571.27 358.5
L 571.55 354.26
L 571.83 349.32
L 572.11 392.83
L 572.39 392.83
L 572.67 392.83
L 572.95 392.83
L 573.23 392.83
L 573.51 392.83
L 573.79 392.83
L 574.07 347.83
L 574.34 392.83
L 574.62 392.83
L 574.9 392.83
L 575.18 343.65
L 575.46 343.49
L 575.74 344.11
L 576.02 345.19
L 576.3 392.83
L 576.58 392.83
L 576.86 392.83
L 577.13 351.1
L 577.41 392.83
L 577.69 392.83
L 577.97 392.83
L 578.25 361.64
L 578.53 359.48
L 578.81 392.83
L 579.09 392.83
L 579.37 392.83
L 579.64 349.68
L 579.92 349.05
L 580.2 392.83
L 580.48 392.83
L 580.76 392.83
L 581.04 392.83
L 581.32 392.83
L 581.6 392.83
L 581.88 392.83
L 582.16 392.83
L 582.43 355.41
L 582.71 392.83
L 582.99 392.83
L 583.27 392.83
L 583.55 349.71
L 583.83 345.89
L 584.11 392.83
L 584.39 392.83
L 584.67 392.83
L 584.95 392.83
L 585.23 392.83
L 585.5 392.83
L 585.78 392.83
L 586.06 392.83
L 586.34 392.83
L 586.62 392.83
L 586.9 392.83
L 587.18 392.83
L 587.46 392.83
L 587.74 392.83
L 588.01 392.83
L 588.29 392.83
L 588.57 392.83
L 588.85 392.83
L 589.13 392.83
L 589.41 392.83
L 589.69 350.83
L 589.97 392.83
L 590.25 353.63
L 590.53 392.83
L 590.8 392.83
L 591.08 392.83
L 591.36 341.42
L 591.64 340
L 591.92 392.83
L 592.2 340.5
L 592.48 392.83
L 592.76 344.92
L 593.04 392.83
L 593.32 392.83
L 593.6 392.83
L 593.87 392.83
L 594.15 392.83
L 594.43 392.83
L 594.71 392.83
L 594.99 392.83
L 595.27 392.83
L 595.55 337.75
L 595.83 392.83
L 596.11 337.45
L 596.38 337.07
L 596.66 392.83
L 596.94 338.22
L 597.22 392.83
L 597.5 343.17
L 597.78 345.74
L 598.06 347.8
L 598.34 349.28
L 598.62 350.3
L 598.9 351.14
L 599.17 352.19
L 599.45 392.83
L 599.73 354.69
L 600.01 392.83
L 600.29 354.76
L 600.57 392.83
L 600.85 351.52
L 601.13 348.59
L 601.41 345.44
L 601.69 343.08
L 601.97 342.12
L 602.24 392.83
L 602.52 392.83
L 602.8 392.83
L 603.08 392.83
L 603.36 392.83
L 603.64 392.83
L 603.92 347.76
L 604.2 350.06
L 604.48 350.15
L 604.75 348.09
L 605.03 345.05
L 605.31 343.03
L 605.59 343.28
L 605.87 345.6
L 606.15 348.72
L 606.43 392.83
L 606.71 392.83
L 606.99 392.83
L 607.27 355.34
L 607.54 392.83
L 607.82 354.68
L 608.1 392.83
L 608.38 350.69
L 608.66 348.36
L 608.94 346.37
L 609.22 345.18
L 609.5 345.02
L 609.78 345.66
L 610.06 346.74
L 610.34 347.91
L 610.61 349.22
L 610.89 392.83
L 611.17 392.83
L 611.45 356.27
L 611.73 358.84
L 612.01 360.75
L 612.29 392.83
L 612.57 361.74
L 612.85 360.1
L 613.12 357.04
L 613.4 353.44
L 613.68 350.65
L 613.96 349.46
L 614.24 392.83
L 614.52 392.83
L 614.8 351.04
L 615.08 392.83
L 615.36 392.83
L 615.64 348.06
L 615.91 392.83
L 616.19 345.12
L 616.47 392.83
L 616.75 392.83
L 617.03 392.83
L 617.31 392.83
L 617.59 392.83
L 617.87 353.08
L 618.15 392.83
L 618.43 392.83
L 618.71 392.83
L 618.98 345.09
L 619.26 344.83
L 619.54 344.97
L 619.82 345.47
L 620.1 392.83
L 620.38 392.83
L 620.66 392.83
L 620.94 392.83
L 621.22 392.83
L 621.5 392.83
L 621.77 392.83
L 622.05 392.83
L 622.33 392.83
L 622.61 392.83
L 622.89 392.83
L 623.17 392.83
L 623.45 392.83
L 623.73 392.83
L 624.01 392.83
L 624.28 392.83
L 624.56 392.83
L 624.84 392.83
L 625.12 392.83
L 625.4 392.83
L 625.68 392.83
L 625.96 356.3
L 626.24 358.06
L 626.52 357.94
L 626.8 355.38
L 627.08 350.78
L 627.35 345.22
L 627.63 340.12
L 627.91 336.94
L 628.19 336.26
L 628.47 392.83
L 628.75 339.71
L 629.03 392.83
L 629.31 392.83
L 629.59 392.83
L 629.87 344.96
L 630.14 345.05
L 630.42 345.55
L 630.7 347.13
L 630.98 349.54
L 631.26 392.83
L 631.54 392.83
L 631.82 392.83
L 632.1 392.83
L 632.38 392.83
L 632.65 392.83
L 632.93 392.83
L 633.21 392.83
L 633.49 392.83
L 633.77 392.83
L 634.05 392.83
L 634.33 339.82
L 634.61 392.83
L 634.89 335.63
L 635.17 334.07
L 635.45 392.83
L 635.72 392.83
L 636 392.83
L 636.28 336.9
L 636.56 392.83
L 636.84 342.31
L 637.12 344.35
L 637.4 346.22
L 637.68 392.83
L 637.96 392.83
L 638.24 392.83
L 638.51 392.83
L 638.79 392.83
L 639.07 392.83
L 639.35 392.83
L 639.63 392.83
L 639.91 392.83
L 640.19 347.24
L 640.47 392.83
L 640.75 392.83
L 641.02 392.83
L 641.3 392.83
L 641.58 355.15
L 641.86 392.83
L 642.14 392.83
L 642.42 354.71
L 642.7 392.83
L 642.98 351.18
L 643.26 349.12
L 643.54 347.83
L 643.82 392.83
L 644.09 348.48
L 644.37 392.83
L 644.65 392.83
L 644.93 392.83
L 645.21 392.83
L 645.49 392.83
L 645.77 392.83
L 646.05 392.83
L 646.33 392.83
L 646.61 392.83
L 646.88 349.96
L 647.16 349.71
L 647.44 349.34
L 647.72 348.45
L 648 347.32
" clip-path="url(#p30c51ce82e)" style="fill: none; stroke: #d62728; stroke-width: 1.75; stroke-linecap: round"/>
   </g>
   <g id="line2d_112">
    <path d="M 90 312.62
L 90.28 312.6
L 90.56 312.55
L 90.84 312.46
L 91.12 312.33
L 91.39 312.22
L 91.67 312.2
L 91.95 312.3
L 92.23 312.44
L 92.51 312.54
L 92.79 312.57
L 93.07 312.58
L 93.35 312.67
L 93.63 312.84
L 93.91 313.06
L 94.19 313.24
L 94.46 313.3
L 94.74 313.26
L 95.02 313.16
L 95.3 313.06
L 95.58 312.95
L 95.86 312.83
L 96.14 312.68
L 96.42 312.52
L 96.7 312.31
L 96.97 312.07
L 97.25 311.8
L 97.53 311.59
L 97.81 311.54
L 98.09 311.69
L 98.37 311.97
L 98.65 312.24
L 98.93 312.39
L 99.21 312.4
L 99.49 312.35
L 99.77 312.34
L 100.04 312.41
L 100.32 312.53
L 100.6 312.66
L 100.88 312.75
L 101.16 312.75
L 101.44 312.69
L 101.72 312.6
L 102 312.53
L 102.28 312.5
L 102.56 312.5
L 102.83 312.49
L 103.11 312.46
L 103.39 312.41
L 103.67 312.38
L 103.95 312.39
L 104.23 312.46
L 104.51 312.58
L 104.79 312.71
L 105.07 312.83
L 105.34 312.91
L 105.62 312.89
L 105.9 312.73
L 106.18 312.46
L 106.46 312.14
L 106.74 311.86
L 107.02 311.72
L 107.3 311.76
L 107.58 311.93
L 107.86 312.08
L 108.14 312.1
L 108.41 312.01
L 108.69 311.88
L 108.97 311.81
L 109.25 311.8
L 109.53 311.84
L 109.81 311.95
L 110.09 312.09
L 110.37 312.22
L 110.65 312.24
L 110.92 312.2
L 111.2 312.18
L 111.48 312.33
L 111.76 312.69
L 112.04 313.15
L 112.32 313.57
L 112.6 313.77
L 112.88 313.7
L 113.16 313.37
L 113.44 312.91
L 113.72 312.43
L 113.99 312.04
L 114.27 311.8
L 114.55 311.71
L 114.83 311.74
L 115.11 311.88
L 115.39 312.14
L 115.67 312.5
L 115.95 312.85
L 116.23 313.04
L 116.5 313
L 116.78 312.75
L 117.06 312.41
L 117.34 312.15
L 117.62 312.12
L 117.9 312.3
L 118.18 312.54
L 118.46 312.64
L 118.74 312.54
L 119.02 312.35
L 119.3 312.24
L 119.57 312.27
L 119.85 312.43
L 120.13 312.6
L 120.41 312.7
L 120.69 312.67
L 120.97 312.53
L 121.25 312.31
L 121.53 312.1
L 121.81 311.97
L 122.08 311.94
L 122.36 311.97
L 122.64 312.02
L 122.92 312.01
L 123.2 311.95
L 123.48 311.85
L 123.76 311.74
L 124.04 311.68
L 124.32 311.67
L 124.6 311.68
L 124.88 311.67
L 125.15 311.69
L 125.43 311.78
L 125.71 311.96
L 125.99 312.19
L 126.27 312.4
L 126.55 312.48
L 126.83 312.36
L 127.11 312.09
L 127.39 311.8
L 127.67 311.63
L 127.94 311.66
L 128.22 311.83
L 128.5 312.03
L 128.78 312.18
L 129.06 312.2
L 129.34 312.1
L 129.62 312
L 129.9 311.98
L 130.18 312.06
L 130.46 312.2
L 130.73 312.34
L 131.01 312.45
L 131.29 312.46
L 131.57 312.36
L 131.85 312.2
L 132.13 312.06
L 132.41 311.97
L 132.69 311.86
L 132.97 311.67
L 133.25 311.46
L 133.52 311.32
L 133.8 311.33
L 134.08 311.52
L 134.36 311.84
L 134.64 312.19
L 134.92 312.46
L 135.2 312.57
L 135.48 312.55
L 135.76 312.48
L 136.03 312.39
L 136.31 312.25
L 136.59 312.02
L 136.87 311.72
L 137.15 311.45
L 137.43 311.29
L 137.71 311.21
L 137.99 311.15
L 138.27 311.05
L 138.55 310.94
L 138.82 310.88
L 139.1 310.89
L 139.38 310.92
L 139.66 310.88
L 139.94 310.83
L 140.22 310.88
L 140.5 311.15
L 140.78 311.58
L 141.06 312.02
L 141.34 312.29
L 141.62 312.36
L 141.89 312.31
L 142.17 312.25
L 142.45 312.23
L 142.73 312.23
L 143.01 312.14
L 143.29 311.9
L 143.57 311.58
L 143.85 311.36
L 144.13 311.38
L 144.41 311.67
L 144.68 312.13
L 144.96 312.6
L 145.24 312.91
L 145.52 312.97
L 145.8 312.8
L 146.08 312.49
L 146.36 312.16
L 146.64 311.91
L 146.92 311.83
L 147.19 311.94
L 147.47 312.19
L 147.75 312.45
L 148.03 312.64
L 148.31 312.72
L 148.59 312.69
L 148.87 312.57
L 149.15 312.36
L 149.43 312.1
L 149.71 311.84
L 149.99 311.64
L 150.26 311.52
L 150.54 311.46
L 150.82 311.45
L 151.1 311.48
L 151.38 311.56
L 151.66 311.68
L 151.94 311.85
L 152.22 312
L 152.5 312.07
L 152.78 312.04
L 153.05 311.92
L 153.33 311.75
L 153.61 311.59
L 153.89 311.49
L 154.17 311.5
L 154.45 311.59
L 154.73 311.69
L 155.01 311.72
L 155.29 311.69
L 155.56 311.66
L 155.84 311.69
L 156.12 311.79
L 156.4 311.92
L 156.68 312.04
L 156.96 312.14
L 157.24 312.23
L 157.52 312.3
L 157.8 312.26
L 158.08 312.06
L 158.35 311.73
L 158.63 311.44
L 158.91 311.35
L 159.19 311.46
L 159.47 311.67
L 159.75 311.83
L 160.03 311.89
L 160.31 311.91
L 160.59 312
L 160.87 312.19
L 161.15 312.37
L 161.42 312.42
L 161.7 312.31
L 161.98 312.12
L 162.26 311.97
L 162.54 311.92
L 162.82 311.97
L 163.1 312.05
L 163.38 312.07
L 163.66 311.97
L 163.94 311.79
L 164.21 311.66
L 164.49 311.65
L 164.77 311.72
L 165.05 311.8
L 165.33 311.85
L 165.61 311.87
L 165.89 311.84
L 166.17 311.75
L 166.45 311.62
L 166.72 311.48
L 167 311.36
L 167.28 311.27
L 167.56 311.24
L 167.84 311.3
L 168.12 311.38
L 168.4 311.39
L 168.68 311.28
L 168.96 311.13
L 169.24 311.06
L 169.51 311.14
L 169.79 311.32
L 170.07 311.46
L 170.35 311.45
L 170.63 311.31
L 170.91 311.14
L 171.19 311.02
L 171.47 311.04
L 171.75 311.22
L 172.03 311.53
L 172.31 311.9
L 172.58 312.26
L 172.86 312.55
L 173.14 312.75
L 173.42 312.84
L 173.7 312.8
L 173.98 312.65
L 174.26 312.44
L 174.54 312.23
L 174.82 312.06
L 175.09 311.92
L 175.37 311.81
L 175.65 311.76
L 175.93 311.77
L 176.21 311.81
L 176.49 311.88
L 176.77 311.95
L 177.05 312.01
L 177.33 312.03
L 177.61 312
L 177.88 311.92
L 178.16 311.76
L 178.44 311.51
L 178.72 311.23
L 179 311.01
L 179.28 310.91
L 179.56 310.92
L 179.84 310.98
L 180.12 310.99
L 180.4 310.92
L 180.68 310.8
L 180.95 310.71
L 181.23 310.71
L 181.51 310.82
L 181.79 311
L 182.07 311.21
L 182.35 311.37
L 182.63 311.49
L 182.91 311.58
L 183.19 311.67
L 183.47 311.73
L 183.74 311.75
L 184.02 311.73
L 184.3 311.67
L 184.58 311.61
L 184.86 311.63
L 185.14 311.75
L 185.42 311.93
L 185.7 312.04
L 185.98 311.99
L 186.25 311.79
L 186.53 311.53
L 186.81 311.36
L 187.09 311.37
L 187.37 311.52
L 187.65 311.71
L 187.93 311.86
L 188.21 311.97
L 188.49 312.04
L 188.77 312.01
L 189.04 311.87
L 189.32 311.61
L 189.6 311.35
L 189.88 311.15
L 190.16 311.05
L 190.44 311.03
L 190.72 311.05
L 191 311.08
L 191.28 311.13
L 191.56 311.18
L 191.84 311.26
L 192.11 311.42
L 192.39 311.64
L 192.67 311.84
L 192.95 311.92
L 193.23 311.85
L 193.51 311.71
L 193.79 311.6
L 194.07 311.56
L 194.35 311.59
L 194.62 311.65
L 194.9 311.68
L 195.18 311.63
L 195.46 311.44
L 195.74 311.14
L 196.02 310.82
L 196.3 310.6
L 196.58 310.56
L 196.86 310.7
L 197.14 310.95
L 197.41 311.23
L 197.69 311.48
L 197.97 311.64
L 198.25 311.7
L 198.53 311.7
L 198.81 311.73
L 199.09 311.79
L 199.37 311.82
L 199.65 311.76
L 199.93 311.66
L 200.21 311.65
L 200.48 311.78
L 200.76 311.99
L 201.04 312.14
L 201.32 312.16
L 201.6 312.05
L 201.88 311.87
L 202.16 311.68
L 202.44 311.51
L 202.72 311.38
L 203 311.26
L 203.27 311.16
L 203.55 311.08
L 203.83 311.09
L 204.11 311.19
L 204.39 311.33
L 204.67 311.45
L 204.95 311.55
L 205.23 311.62
L 205.51 311.65
L 205.78 311.6
L 206.06 311.5
L 206.34 311.43
L 206.62 311.46
L 206.9 311.56
L 207.18 311.7
L 207.46 311.82
L 207.74 311.86
L 208.02 311.75
L 208.3 311.5
L 208.57 311.17
L 208.85 310.87
L 209.13 310.68
L 209.41 310.64
L 209.69 310.75
L 209.97 310.91
L 210.25 311.02
L 210.53 311.02
L 210.81 310.91
L 211.09 310.75
L 211.37 310.6
L 211.64 310.51
L 211.92 310.52
L 212.2 310.59
L 212.48 310.64
L 212.76 310.59
L 213.04 310.42
L 213.32 310.2
L 213.6 310.05
L 213.88 310.03
L 214.16 310.16
L 214.43 310.41
L 214.71 310.76
L 214.99 311.2
L 215.27 311.64
L 215.55 311.96
L 215.83 312.06
L 216.11 311.94
L 216.39 311.69
L 216.67 311.41
L 216.94 311.15
L 217.22 310.94
L 217.5 310.81
L 217.78 310.75
L 218.06 310.74
L 218.34 310.7
L 218.62 310.59
L 218.9 310.44
L 219.18 310.26
L 219.46 310.08
L 219.74 309.92
L 220.01 309.84
L 220.29 309.89
L 220.57 310.04
L 220.85 310.23
L 221.13 310.37
L 221.41 310.44
L 221.69 310.44
L 221.97 310.43
L 222.25 310.42
L 222.53 310.4
L 222.8 310.36
L 223.08 310.32
L 223.36 310.33
L 223.64 310.39
L 223.92 310.46
L 224.2 310.49
L 224.48 310.5
L 224.76 310.55
L 225.04 310.65
L 225.31 310.74
L 225.59 310.76
L 225.87 310.72
L 226.15 310.68
L 226.43 310.7
L 226.71 310.76
L 226.99 310.84
L 227.27 310.89
L 227.55 310.88
L 227.83 310.86
L 228.1 310.86
L 228.38 310.88
L 228.66 310.94
L 228.94 311.07
L 229.22 311.27
L 229.5 311.54
L 229.78 311.8
L 230.06 311.97
L 230.34 312
L 230.62 311.88
L 230.9 311.71
L 231.17 311.59
L 231.45 311.52
L 231.73 311.45
L 232.01 311.32
L 232.29 311.14
L 232.57 310.93
L 232.85 310.73
L 233.13 310.58
L 233.41 310.53
L 233.69 310.61
L 233.96 310.78
L 234.24 310.94
L 234.52 311.04
L 234.8 311.1
L 235.08 311.12
L 235.36 311.13
L 235.64 311.14
L 235.92 311.2
L 236.2 311.31
L 236.47 311.38
L 236.75 311.32
L 237.03 311.14
L 237.31 310.96
L 237.59 310.88
L 237.87 310.9
L 238.15 310.96
L 238.43 311.03
L 238.71 311.14
L 238.99 311.32
L 239.26 311.54
L 239.54 311.7
L 239.82 311.72
L 240.1 311.58
L 240.38 311.32
L 240.66 311.05
L 240.94 310.85
L 241.22 310.72
L 241.5 310.6
L 241.78 310.43
L 242.06 310.25
L 242.33 310.13
L 242.61 310.15
L 242.89 310.34
L 243.17 310.67
L 243.45 311.05
L 243.73 311.37
L 244.01 311.5
L 244.29 311.39
L 244.57 311.17
L 244.84 310.98
L 245.12 310.91
L 245.4 310.89
L 245.68 310.82
L 245.96 310.67
L 246.24 310.54
L 246.52 310.5
L 246.8 310.53
L 247.08 310.56
L 247.36 310.54
L 247.63 310.48
L 247.91 310.41
L 248.19 310.36
L 248.47 310.34
L 248.75 310.36
L 249.03 310.4
L 249.31 310.43
L 249.59 310.39
L 249.87 310.28
L 250.15 310.14
L 250.43 310.11
L 250.7 310.26
L 250.98 310.55
L 251.26 310.82
L 251.54 310.94
L 251.82 310.84
L 252.1 310.58
L 252.38 310.23
L 252.66 309.86
L 252.94 309.52
L 253.22 309.28
L 253.49 309.2
L 253.77 309.3
L 254.05 309.55
L 254.33 309.92
L 254.61 310.3
L 254.89 310.62
L 255.17 310.84
L 255.45 310.94
L 255.73 310.96
L 256 310.88
L 256.28 310.74
L 256.56 310.57
L 256.84 310.45
L 257.12 310.42
L 257.4 310.45
L 257.68 310.47
L 257.96 310.42
L 258.24 310.27
L 258.52 310.05
L 258.8 309.81
L 259.07 309.61
L 259.35 309.49
L 259.63 309.43
L 259.91 309.4
L 260.19 309.32
L 260.47 309.2
L 260.75 309.11
L 261.03 309.15
L 261.31 309.33
L 261.58 309.57
L 261.86 309.77
L 262.14 309.95
L 262.42 310.18
L 262.7 310.49
L 262.98 310.77
L 263.26 310.87
L 263.54 310.77
L 263.82 310.56
L 264.1 310.37
L 264.38 310.27
L 264.65 310.24
L 264.93 310.22
L 265.21 310.13
L 265.49 309.92
L 265.77 309.64
L 266.05 309.41
L 266.33 309.32
L 266.61 309.36
L 266.89 309.46
L 267.17 309.54
L 267.44 309.6
L 267.72 309.64
L 268 309.65
L 268.28 309.64
L 268.56 309.67
L 268.84 309.77
L 269.12 309.86
L 269.4 309.87
L 269.68 309.76
L 269.95 309.67
L 270.23 309.73
L 270.51 309.96
L 270.79 310.26
L 271.07 310.46
L 271.35 310.48
L 271.63 310.36
L 271.91 310.23
L 272.19 310.11
L 272.47 309.97
L 272.75 309.75
L 273.02 309.5
L 273.3 309.32
L 273.58 309.24
L 273.86 309.21
L 274.14 309.19
L 274.42 309.16
L 274.7 309.15
L 274.98 309.13
L 275.26 309.09
L 275.54 309.06
L 275.81 309.14
L 276.09 309.36
L 276.37 309.65
L 276.65 309.88
L 276.93 309.97
L 277.21 309.92
L 277.49 309.77
L 277.77 309.58
L 278.05 309.38
L 278.32 309.19
L 278.6 309.05
L 278.88 309.06
L 279.16 309.27
L 279.44 309.62
L 279.72 309.92
L 280 310.05
L 280.28 310
L 280.56 309.87
L 280.84 309.77
L 281.12 309.71
L 281.39 309.64
L 281.67 309.53
L 281.95 309.41
L 282.23 309.37
L 282.51 309.44
L 282.79 309.54
L 283.07 309.56
L 283.35 309.5
L 283.63 309.46
L 283.9 309.48
L 284.18 309.54
L 284.46 309.55
L 284.74 309.5
L 285.02 309.4
L 285.3 309.3
L 285.58 309.18
L 285.86 309.05
L 286.14 308.93
L 286.42 308.91
L 286.69 309.01
L 286.97 309.2
L 287.25 309.38
L 287.53 309.44
L 287.81 309.35
L 288.09 309.14
L 288.37 308.86
L 288.65 308.55
L 288.93 308.26
L 289.21 308.06
L 289.49 308.01
L 289.76 308.14
L 290.04 308.39
L 290.32 308.64
L 290.6 308.85
L 290.88 309.01
L 291.16 309.1
L 291.44 309.12
L 291.72 309.03
L 292 308.88
L 292.27 308.75
L 292.55 308.68
L 292.83 308.68
L 293.11 308.73
L 293.39 308.83
L 293.67 308.95
L 293.95 309.06
L 294.23 309.11
L 294.51 309.07
L 294.79 308.93
L 295.06 308.73
L 295.34 308.57
L 295.62 308.5
L 295.9 308.51
L 296.18 308.56
L 296.46 308.63
L 296.74 308.68
L 297.02 308.71
L 297.3 308.75
L 297.58 308.78
L 297.86 308.77
L 298.13 308.64
L 298.41 308.43
L 298.69 308.3
L 298.97 308.36
L 299.25 308.62
L 299.53 308.92
L 299.81 309.11
L 300.09 309.08
L 300.37 308.9
L 300.64 308.68
L 300.92 308.51
L 301.2 308.44
L 301.48 308.46
L 301.76 308.55
L 302.04 308.68
L 302.32 308.78
L 302.6 308.8
L 302.88 308.71
L 303.16 308.55
L 303.44 308.41
L 303.71 308.39
L 303.99 308.51
L 304.27 308.71
L 304.55 308.9
L 304.83 309.01
L 305.11 309.04
L 305.39 308.99
L 305.67 308.91
L 305.95 308.84
L 306.23 308.82
L 306.5 308.89
L 306.78 309.02
L 307.06 309.16
L 307.34 309.26
L 307.62 309.26
L 307.9 309.15
L 308.18 308.95
L 308.46 308.7
L 308.74 308.51
L 309.01 308.41
L 309.29 308.39
L 309.57 308.35
L 309.85 308.24
L 310.13 308.06
L 310.41 307.92
L 310.69 307.89
L 310.97 308.02
L 311.25 308.29
L 311.53 308.58
L 311.81 308.8
L 312.08 308.9
L 312.36 308.94
L 312.64 309.02
L 312.92 309.15
L 313.2 309.3
L 313.48 309.4
L 313.76 309.44
L 314.04 309.44
L 314.32 309.42
L 314.6 309.37
L 314.87 309.26
L 315.15 309.1
L 315.43 308.89
L 315.71 308.69
L 315.99 308.54
L 316.27 308.46
L 316.55 308.46
L 316.83 308.5
L 317.11 308.54
L 317.38 308.62
L 317.66 308.75
L 317.94 308.88
L 318.22 308.93
L 318.5 308.87
L 318.78 308.7
L 319.06 308.52
L 319.34 308.38
L 319.62 308.3
L 319.9 308.27
L 320.18 308.27
L 320.45 308.29
L 320.73 308.34
L 321.01 308.45
L 321.29 308.65
L 321.57 308.99
L 321.85 309.38
L 322.13 309.67
L 322.41 309.74
L 322.69 309.6
L 322.96 309.41
L 323.24 309.3
L 323.52 309.32
L 323.8 309.37
L 324.08 309.37
L 324.36 309.26
L 324.64 309.03
L 324.92 308.75
L 325.2 308.5
L 325.48 308.31
L 325.75 308.15
L 326.03 307.97
L 326.31 307.79
L 326.59 307.67
L 326.87 307.7
L 327.15 307.88
L 327.43 308.22
L 327.71 308.62
L 327.99 308.96
L 328.27 309.12
L 328.55 309.07
L 328.82 308.89
L 329.1 308.69
L 329.38 308.57
L 329.66 308.53
L 329.94 308.55
L 330.22 308.63
L 330.5 308.77
L 330.78 308.9
L 331.06 308.95
L 331.33 308.89
L 331.61 308.77
L 331.89 308.69
L 332.17 308.63
L 332.45 308.62
L 332.73 308.54
L 333.01 308.31
L 333.29 307.97
L 333.57 307.59
L 333.85 307.28
L 334.12 307.07
L 334.4 306.98
L 334.68 306.99
L 334.96 307.05
L 335.24 307.13
L 335.52 307.21
L 335.8 307.26
L 336.08 307.25
L 336.36 307.15
L 336.64 307.01
L 336.92 306.89
L 337.19 306.82
L 337.47 306.78
L 337.75 306.74
L 338.03 306.7
L 338.31 306.65
L 338.59 306.52
L 338.87 306.25
L 339.15 305.85
L 339.43 305.38
L 339.7 304.93
L 339.98 304.55
L 340.26 304.33
L 340.54 304.28
L 340.82 304.43
L 341.1 304.7
L 341.38 304.99
L 341.66 305.16
L 341.94 305.12
L 342.22 304.91
L 342.5 304.6
L 342.77 304.25
L 343.05 303.98
L 343.33 303.91
L 343.61 303.9
L 343.89 303.99
L 344.17 304.23
L 344.45 304.64
L 344.73 305.19
L 345.01 305.77
L 345.29 306.26
L 345.56 306.61
L 345.84 306.84
L 346.12 306.99
L 346.4 307.08
L 346.68 307.13
L 346.96 307.16
L 347.24 307.16
L 347.52 307.15
L 347.8 307.17
L 348.07 307.27
L 348.35 307.4
L 348.63 307.5
L 348.91 307.53
L 349.19 307.54
L 349.47 307.59
L 349.75 307.7
L 350.03 307.83
L 350.31 307.91
L 350.59 307.93
L 350.87 307.85
L 351.14 307.65
L 351.42 307.34
L 351.7 306.97
L 351.98 306.58
L 352.26 306.17
L 352.54 305.71
L 352.82 305.18
L 353.1 304.6
L 353.38 303.98
L 353.65 303.37
L 353.93 302.74
L 354.21 302.07
L 354.49 301.33
L 354.77 300.52
L 355.05 299.66
L 355.33 298.76
L 355.61 297.86
L 355.89 297
L 356.17 296.21
L 356.44 295.48
L 356.72 294.77
L 357 294.04
L 357.28 293.3
L 357.56 292.55
L 357.84 291.82
L 358.12 291.09
L 358.4 290.41
L 358.68 289.77
L 358.96 289.18
L 359.24 288.65
L 359.51 288.2
L 359.79 287.82
L 360.07 287.48
L 360.35 287.18
L 360.63 286.92
L 360.91 286.71
L 361.19 286.55
L 361.47 286.47
L 361.75 286.43
L 362.02 286.45
L 362.3 286.49
L 362.58 286.56
L 362.86 286.68
L 363.14 286.84
L 363.42 287.04
L 363.7 287.27
L 363.98 287.54
L 364.26 287.84
L 364.54 288.2
L 364.81 288.6
L 365.09 289.05
L 365.37 289.54
L 365.65 290.08
L 365.93 290.66
L 366.21 291.28
L 366.49 291.92
L 366.77 292.57
L 367.05 293.25
L 367.33 293.97
L 367.61 294.74
L 367.88 295.52
L 368.16 296.3
L 368.44 297.04
L 368.72 297.75
L 369 298.46
L 369.28 299.16
L 369.56 299.87
L 369.84 300.57
L 370.12 301.21
L 370.39 301.74
L 370.67 302.13
L 370.95 302.35
L 371.23 302.39
L 371.51 302.24
L 371.79 301.86
L 372.07 301.28
L 372.35 300.5
L 372.63 299.52
L 372.91 298.33
L 373.19 296.93
L 373.46 295.35
L 373.74 293.63
L 374.02 291.81
L 374.3 289.93
L 374.58 288.03
L 374.86 286.12
L 375.14 284.23
L 375.42 282.36
L 375.7 280.53
L 375.98 278.74
L 376.25 277
L 376.53 275.31
L 376.81 273.69
L 377.09 272.15
L 377.37 270.68
L 377.65 269.28
L 377.93 267.95
L 378.21 266.69
L 378.49 265.52
L 378.76 264.44
L 379.04 263.43
L 379.32 262.51
L 379.6 261.67
L 379.88 260.9
L 380.16 260.2
L 380.44 259.59
L 380.72 259.06
L 381 258.61
L 381.28 258.24
L 381.56 257.95
L 381.83 257.75
L 382.11 257.63
L 382.39 257.61
L 382.67 257.68
L 382.95 257.84
L 383.23 258.09
L 383.51 258.44
L 383.79 258.89
L 384.07 259.45
L 384.35 260.1
L 384.62 260.86
L 384.9 261.71
L 385.18 262.65
L 385.46 263.7
L 385.74 264.84
L 386.02 266.09
L 386.3 267.42
L 386.58 268.86
L 386.86 270.38
L 387.13 271.99
L 387.41 273.69
L 387.69 275.47
L 387.97 277.33
L 388.25 279.26
L 388.53 281.25
L 388.81 283.3
L 389.09 285.41
L 389.37 287.55
L 389.65 289.7
L 389.93 291.81
L 390.2 293.81
L 390.48 295.63
L 390.76 297.17
L 391.04 298.28
L 391.32 298.78
L 391.6 298.44
L 391.88 297.08
L 392.16 294.68
L 392.44 291.41
L 392.71 287.55
L 392.99 283.35
L 393.27 279
L 393.55 274.64
L 393.83 270.34
L 394.11 266.13
L 394.39 262.05
L 394.67 258.1
L 394.95 254.31
L 395.23 250.68
L 395.5 247.2
L 395.78 243.9
L 396.06 240.76
L 396.34 237.78
L 396.62 234.98
L 396.9 232.34
L 397.18 229.87
L 397.46 227.56
L 397.74 225.42
L 398.02 223.45
L 398.3 221.64
L 398.57 219.99
L 398.85 218.5
L 399.13 217.17
L 399.41 215.98
L 399.69 214.94
L 399.97 214.03
L 400.25 213.26
L 400.53 212.61
L 400.81 212.07
L 401.08 211.63
L 401.36 211.28
L 401.64 211.01
L 401.92 210.81
L 402.2 210.66
L 402.48 210.56
L 402.76 210.5
L 403.04 210.46
L 403.32 210.46
L 403.6 210.48
L 403.88 210.54
L 404.15 210.65
L 404.43 210.84
L 404.71 211.14
L 404.99 211.57
L 405.27 212.17
L 405.55 212.96
L 405.83 213.96
L 406.11 215.2
L 406.39 216.68
L 406.67 218.42
L 406.94 220.41
L 407.22 222.68
L 407.5 225.22
L 407.78 228.03
L 408.06 231.12
L 408.34 234.49
L 408.62 238.14
L 408.9 242.07
L 409.18 246.28
L 409.45 250.76
L 409.73 255.51
L 410.01 260.52
L 410.29 265.77
L 410.57 271.23
L 410.85 276.78
L 411.13 282.19
L 411.41 286.85
L 411.69 289.55
L 411.97 288.89
L 412.25 284.8
L 412.52 278.65
L 412.8 271.73
L 413.08 264.69
L 413.36 257.78
L 413.64 251.1
L 413.92 244.7
L 414.2 238.59
L 414.48 232.78
L 414.76 227.28
L 415.04 222.08
L 415.31 217.18
L 415.59 212.59
L 415.87 208.31
L 416.15 204.32
L 416.43 200.63
L 416.71 197.24
L 416.99 194.14
L 417.27 191.33
L 417.55 188.8
L 417.82 186.55
L 418.1 184.58
L 418.38 182.87
L 418.66 181.41
L 418.94 180.19
L 419.22 179.21
L 419.5 178.43
L 419.78 177.84
L 420.06 177.42
L 420.34 177.15
L 420.62 177
L 420.89 176.96
L 421.17 177.02
L 421.45 177.16
L 421.73 177.37
L 422.01 177.67
L 422.29 178.05
L 422.57 178.51
L 422.85 179.07
L 423.13 179.72
L 423.4 180.48
L 423.68 181.36
L 423.96 182.36
L 424.24 183.49
L 424.52 184.75
L 424.8 186.16
L 425.08 187.71
L 425.36 189.42
L 425.64 191.28
L 425.92 193.29
L 426.19 195.47
L 426.47 197.81
L 426.75 200.32
L 427.03 202.99
L 427.31 205.83
L 427.59 208.84
L 427.87 212.01
L 428.15 215.36
L 428.43 218.88
L 428.71 222.57
L 428.99 226.43
L 429.26 230.46
L 429.54 234.66
L 429.82 239.03
L 430.1 243.57
L 430.38 248.27
L 430.66 253.12
L 430.94 258.1
L 431.22 263.14
L 431.5 268.07
L 431.77 272.5
L 432.05 275.57
L 432.33 276.1
L 432.61 273.54
L 432.89 268.66
L 433.17 262.66
L 433.45 256.32
L 433.73 249.99
L 434.01 243.81
L 434.29 237.86
L 434.56 232.13
L 434.84 226.65
L 435.12 221.42
L 435.4 216.43
L 435.68 211.69
L 435.96 207.2
L 436.24 202.95
L 436.52 198.94
L 436.8 195.17
L 437.08 191.64
L 437.36 188.34
L 437.63 185.27
L 437.91 182.44
L 438.19 179.83
L 438.47 177.45
L 438.75 175.29
L 439.03 173.35
L 439.31 171.63
L 439.59 170.13
L 439.87 168.85
L 440.14 167.78
L 440.42 166.92
L 440.7 166.27
L 440.98 165.81
L 441.26 165.53
L 441.54 165.42
L 441.82 165.46
L 442.1 165.64
L 442.38 165.94
L 442.66 166.37
L 442.94 166.91
L 443.21 167.56
L 443.49 168.33
L 443.77 169.23
L 444.05 170.24
L 444.33 171.38
L 444.61 172.65
L 444.89 174.05
L 445.17 175.59
L 445.45 177.27
L 445.73 179.09
L 446 181.05
L 446.28 183.15
L 446.56 185.41
L 446.84 187.81
L 447.12 190.36
L 447.4 193.06
L 447.68 195.91
L 447.96 198.92
L 448.24 202.08
L 448.51 205.4
L 448.79 208.87
L 449.07 212.51
L 449.35 216.29
L 449.63 220.24
L 449.91 224.34
L 450.19 228.6
L 450.47 233.01
L 450.75 237.54
L 451.03 242.12
L 451.31 246.59
L 451.58 250.44
L 451.86 252.69
L 452.14 252.11
L 452.42 248.42
L 452.7 242.71
L 452.98 236.2
L 453.26 229.57
L 453.54 223.12
L 453.82 216.94
L 454.1 211.08
L 454.37 205.56
L 454.65 200.37
L 454.93 195.52
L 455.21 191.01
L 455.49 186.83
L 455.77 182.98
L 456.05 179.46
L 456.33 176.26
L 456.61 173.37
L 456.88 170.81
L 457.16 168.55
L 457.44 166.6
L 457.72 164.95
L 458 163.58
L 458.28 162.5
L 458.56 161.67
L 458.84 161.09
L 459.12 160.72
L 459.4 160.54
L 459.68 160.52
L 459.95 160.64
L 460.23 160.89
L 460.51 161.24
L 460.79 161.7
L 461.07 162.27
L 461.35 162.94
L 461.63 163.73
L 461.91 164.64
L 462.19 165.66
L 462.46 166.82
L 462.74 168.12
L 463.02 169.56
L 463.3 171.14
L 463.58 172.87
L 463.86 174.76
L 464.14 176.8
L 464.42 179.01
L 464.7 181.37
L 464.98 183.9
L 465.25 186.6
L 465.53 189.46
L 465.81 192.49
L 466.09 195.7
L 466.37 199.08
L 466.65 202.63
L 466.93 206.35
L 467.21 210.25
L 467.49 214.32
L 467.77 218.56
L 468.05 222.99
L 468.32 227.58
L 468.6 232.35
L 468.88 237.3
L 469.16 242.4
L 469.44 247.67
L 469.72 253.05
L 470 258.46
L 470.28 263.66
L 470.56 268.05
L 470.83 270.52
L 471.11 269.96
L 471.39 266.48
L 471.67 261.3
L 471.95 255.51
L 472.23 249.67
L 472.51 244
L 472.79 238.6
L 473.07 233.49
L 473.35 228.7
L 473.62 224.21
L 473.9 220.04
L 474.18 216.19
L 474.46 212.64
L 474.74 209.39
L 475.02 206.45
L 475.3 203.79
L 475.58 201.43
L 475.86 199.34
L 476.14 197.51
L 476.42 195.95
L 476.69 194.63
L 476.97 193.55
L 477.25 192.69
L 477.53 192.03
L 477.81 191.57
L 478.09 191.3
L 478.37 191.2
L 478.65 191.27
L 478.93 191.5
L 479.2 191.89
L 479.48 192.44
L 479.76 193.17
L 480.04 194.08
L 480.32 195.17
L 480.6 196.47
L 480.88 197.97
L 481.16 199.69
L 481.44 201.65
L 481.72 203.84
L 482 206.27
L 482.27 208.95
L 482.55 211.9
L 482.83 215.1
L 483.11 218.57
L 483.39 222.31
L 483.67 226.32
L 483.95 230.6
L 484.23 235.16
L 484.51 239.98
L 484.79 245.08
L 485.06 250.44
L 485.34 256.04
L 485.62 261.88
L 485.9 267.9
L 486.18 274.02
L 486.46 280.12
L 486.74 286.01
L 487.02 291.41
L 487.3 296.01
L 487.57 299.46
L 487.85 301.62
L 488.13 302.63
L 488.41 302.87
L 488.69 302.75
L 488.97 302.55
L 489.25 302.41
L 489.53 302.34
L 489.81 302.26
L 490.09 302.44
L 490.37 302.67
L 490.64 302.83
L 490.92 303.09
L 491.2 303.46
L 491.48 303.82
L 491.76 304.08
L 492.04 304.25
L 492.32 304.48
L 492.6 304.85
L 492.88 305.3
L 493.15 305.64
L 493.43 305.73
L 493.71 305.58
L 493.99 305.32
L 494.27 305.27
L 494.55 305.51
L 494.83 305.9
L 495.11 306.19
L 495.39 306.25
L 495.67 306.16
L 495.94 306.16
L 496.22 306.4
L 496.5 306.82
L 496.78 307.3
L 497.06 307.72
L 497.34 308
L 497.62 308.12
L 497.9 308.11
L 498.18 308.04
L 498.46 307.96
L 498.74 307.9
L 499.01 307.84
L 499.29 307.76
L 499.57 307.68
L 499.85 307.68
L 500.13 307.76
L 500.41 307.91
L 500.69 308.09
L 500.97 308.29
L 501.25 308.53
L 501.52 308.79
L 501.8 309.04
L 502.08 309.26
L 502.36 309.51
L 502.64 309.78
L 502.92 310.02
L 503.2 310.07
L 503.48 309.96
L 503.76 309.7
L 504.04 309.38
L 504.31 309.14
L 504.59 309.05
L 504.87 309.13
L 505.15 309.3
L 505.43 309.44
L 505.71 309.48
L 505.99 309.42
L 506.27 309.32
L 506.55 309.25
L 506.83 309.28
L 507.11 309.44
L 507.38 309.7
L 507.66 309.97
L 507.94 310.17
L 508.22 310.28
L 508.5 310.39
L 508.78 310.51
L 509.06 310.6
L 509.34 310.56
L 509.62 310.41
L 509.89 310.23
L 510.17 310.08
L 510.45 309.99
L 510.73 309.94
L 511.01 309.95
L 511.29 310.01
L 511.57 310.11
L 511.85 310.15
L 512.13 310.09
L 512.41 309.96
L 512.68 309.85
L 512.96 309.84
L 513.24 309.91
L 513.52 310.03
L 513.8 310.12
L 514.08 310.19
L 514.36 310.26
L 514.64 310.37
L 514.92 310.51
L 515.2 310.66
L 515.48 310.76
L 515.75 310.79
L 516.03 310.75
L 516.31 310.71
L 516.59 310.71
L 516.87 310.76
L 517.15 310.79
L 517.43 310.75
L 517.71 310.66
L 517.99 310.62
L 518.26 310.69
L 518.54 310.82
L 518.82 310.99
L 519.1 311.18
L 519.38 311.37
L 519.66 311.5
L 519.94 311.52
L 520.22 311.45
L 520.5 311.34
L 520.78 311.21
L 521.05 311.08
L 521.33 310.99
L 521.61 311
L 521.89 311.11
L 522.17 311.25
L 522.45 311.34
L 522.73 311.36
L 523.01 311.27
L 523.29 311.08
L 523.57 310.86
L 523.85 310.71
L 524.12 310.69
L 524.4 310.73
L 524.68 310.69
L 524.96 310.51
L 525.24 310.26
L 525.52 310.1
L 525.8 310.14
L 526.08 310.39
L 526.36 310.76
L 526.63 311.17
L 526.91 311.49
L 527.19 311.66
L 527.47 311.62
L 527.75 311.4
L 528.03 311.17
L 528.31 311.06
L 528.59 311.11
L 528.87 311.23
L 529.15 311.33
L 529.42 311.44
L 529.7 311.61
L 529.98 311.79
L 530.26 311.9
L 530.54 311.84
L 530.82 311.64
L 531.1 311.42
L 531.38 311.28
L 531.66 311.25
L 531.94 311.28
L 532.22 311.35
L 532.49 311.44
L 532.77 311.52
L 533.05 311.57
L 533.33 311.59
L 533.61 311.59
L 533.89 311.58
L 534.17 311.56
L 534.45 311.49
L 534.73 311.4
L 535 311.34
L 535.28 311.36
L 535.56 311.47
L 535.84 311.65
L 536.12 311.82
L 536.4 311.9
L 536.68 311.88
L 536.96 311.8
L 537.24 311.7
L 537.52 311.57
L 537.79 311.41
L 538.07 311.27
L 538.35 311.17
L 538.63 311.12
L 538.91 311.11
L 539.19 311.17
L 539.47 311.38
L 539.75 311.74
L 540.03 312.1
L 540.31 312.28
L 540.59 312.23
L 540.86 312.05
L 541.14 311.94
L 541.42 311.95
L 541.7 312.04
L 541.98 312.13
L 542.26 312.21
L 542.54 312.33
L 542.82 312.51
L 543.1 312.68
L 543.38 312.79
L 543.65 312.8
L 543.93 312.75
L 544.21 312.66
L 544.49 312.5
L 544.77 312.3
L 545.05 312.11
L 545.33 312
L 545.61 312.01
L 545.89 312.1
L 546.16 312.2
L 546.44 312.24
L 546.72 312.2
L 547 312.11
L 547.28 312.06
L 547.56 312.11
L 547.84 312.27
L 548.12 312.5
L 548.4 312.7
L 548.68 312.8
L 548.96 312.81
L 549.23 312.78
L 549.51 312.77
L 549.79 312.8
L 550.07 312.87
L 550.35 312.95
L 550.63 313.03
L 550.91 313.08
L 551.19 313.11
L 551.47 313.12
L 551.75 313.07
L 552.02 312.92
L 552.3 312.62
L 552.58 312.22
L 552.86 311.88
L 553.14 311.72
L 553.42 311.77
L 553.7 311.9
L 553.98 311.96
L 554.26 311.88
L 554.53 311.71
L 554.81 311.6
L 555.09 311.64
L 555.37 311.81
L 555.65 311.98
L 555.93 312.02
L 556.21 311.96
L 556.49 311.88
L 556.77 311.84
L 557.05 311.86
L 557.33 311.9
L 557.6 311.95
L 557.88 311.99
L 558.16 312.01
L 558.44 312.03
L 558.72 312.08
L 559 312.15
L 559.28 312.21
L 559.56 312.22
L 559.84 312.19
L 560.12 312.18
L 560.39 312.21
L 560.67 312.28
L 560.95 312.37
L 561.23 312.47
L 561.51 312.6
L 561.79 312.78
L 562.07 313.01
L 562.35 313.17
L 562.63 313.12
L 562.9 312.8
L 563.18 312.34
L 563.46 311.97
L 563.74 311.87
L 564.02 312.08
L 564.3 312.47
L 564.58 312.83
L 564.86 313.01
L 565.14 313
L 565.42 312.88
L 565.7 312.79
L 565.97 312.81
L 566.25 312.93
L 566.53 313.09
L 566.81 313.17
L 567.09 313.17
L 567.37 313.14
L 567.65 313.12
L 567.93 313.09
L 568.21 313.02
L 568.49 312.95
L 568.76 312.92
L 569.04 312.92
L 569.32 312.87
L 569.6 312.71
L 569.88 312.48
L 570.16 312.32
L 570.44 312.32
L 570.72 312.49
L 571 312.72
L 571.27 312.96
L 571.55 313.16
L 571.83 313.28
L 572.11 313.27
L 572.39 313.09
L 572.67 312.78
L 572.95 312.43
L 573.23 312.11
L 573.51 311.87
L 573.79 311.76
L 574.07 311.79
L 574.34 311.93
L 574.62 312.1
L 574.9 312.26
L 575.18 312.37
L 575.46 312.45
L 575.74 312.49
L 576.02 312.55
L 576.3 312.67
L 576.58 312.87
L 576.86 313.07
L 577.13 313.18
L 577.41 313.13
L 577.69 312.95
L 577.97 312.76
L 578.25 312.68
L 578.53 312.77
L 578.81 313.01
L 579.09 313.29
L 579.37 313.48
L 579.64 313.5
L 579.92 313.39
L 580.2 313.23
L 580.48 313.15
L 580.76 313.17
L 581.04 313.23
L 581.32 313.23
L 581.6 313.12
L 581.88 312.98
L 582.16 312.9
L 582.43 312.92
L 582.71 313
L 582.99 313.03
L 583.27 313
L 583.55 312.97
L 583.83 313.02
L 584.11 313.22
L 584.39 313.5
L 584.67 313.71
L 584.95 313.69
L 585.23 313.42
L 585.5 313.02
L 585.78 312.71
L 586.06 312.64
L 586.34 312.85
L 586.62 313.24
L 586.9 313.63
L 587.18 313.89
L 587.46 313.96
L 587.74 313.86
L 588.01 313.69
L 588.29 313.53
L 588.57 313.46
L 588.85 313.5
L 589.13 313.56
L 589.41 313.57
L 589.69 313.48
L 589.97 313.3
L 590.25 313.08
L 590.53 312.8
L 590.8 312.5
L 591.08 312.23
L 591.36 312.05
L 591.64 312.01
L 591.92 312.1
L 592.2 312.31
L 592.48 312.61
L 592.76 312.95
L 593.04 313.2
L 593.32 313.28
L 593.6 313.18
L 593.87 313
L 594.15 312.84
L 594.43 312.74
L 594.71 312.7
L 594.99 312.71
L 595.27 312.8
L 595.55 312.99
L 595.83 313.26
L 596.11 313.58
L 596.38 313.84
L 596.66 313.97
L 596.94 313.97
L 597.22 313.9
L 597.5 313.83
L 597.78 313.76
L 598.06 313.64
L 598.34 313.46
L 598.62 313.26
L 598.9 313.15
L 599.17 313.2
L 599.45 313.41
L 599.73 313.7
L 600.01 313.96
L 600.29 314.13
L 600.57 314.18
L 600.85 314.17
L 601.13 314.12
L 601.41 314.06
L 601.69 314.02
L 601.97 314.01
L 602.24 314.04
L 602.52 314.07
L 602.8 314.01
L 603.08 313.85
L 603.36 313.66
L 603.64 313.57
L 603.92 313.63
L 604.2 313.78
L 604.48 313.91
L 604.75 313.95
L 605.03 313.87
L 605.31 313.73
L 605.59 313.59
L 605.87 313.52
L 606.15 313.53
L 606.43 313.6
L 606.71 313.71
L 606.99 313.86
L 607.27 314.01
L 607.54 314.14
L 607.82 314.22
L 608.1 314.25
L 608.38 314.28
L 608.66 314.33
L 608.94 314.34
L 609.22 314.26
L 609.5 314.08
L 609.78 313.93
L 610.06 313.89
L 610.34 313.94
L 610.61 313.97
L 610.89 313.89
L 611.17 313.74
L 611.45 313.62
L 611.73 313.6
L 612.01 313.65
L 612.29 313.69
L 612.57 313.73
L 612.85 313.84
L 613.12 314.03
L 613.4 314.27
L 613.68 314.5
L 613.96 314.73
L 614.24 314.96
L 614.52 315.18
L 614.8 315.31
L 615.08 315.33
L 615.36 315.23
L 615.64 315.06
L 615.91 314.87
L 616.19 314.69
L 616.47 314.54
L 616.75 314.39
L 617.03 314.22
L 617.31 314.04
L 617.59 313.9
L 617.87 313.82
L 618.15 313.75
L 618.43 313.65
L 618.71 313.54
L 618.98 313.52
L 619.26 313.65
L 619.54 313.89
L 619.82 314.09
L 620.1 314.18
L 620.38 314.21
L 620.66 314.28
L 620.94 314.44
L 621.22 314.62
L 621.5 314.77
L 621.77 314.84
L 622.05 314.84
L 622.33 314.79
L 622.61 314.74
L 622.89 314.74
L 623.17 314.81
L 623.45 314.9
L 623.73 314.97
L 624.01 314.97
L 624.28 314.89
L 624.56 314.77
L 624.84 314.67
L 625.12 314.61
L 625.4 314.54
L 625.68 314.39
L 625.96 314.19
L 626.24 314.1
L 626.52 314.16
L 626.8 314.3
L 627.08 314.38
L 627.35 314.34
L 627.63 314.21
L 627.91 314.11
L 628.19 314.13
L 628.47 314.28
L 628.75 314.51
L 629.03 314.76
L 629.31 314.94
L 629.59 315.02
L 629.87 315.03
L 630.14 315.03
L 630.42 315.05
L 630.7 315.01
L 630.98 314.86
L 631.26 314.65
L 631.54 314.51
L 631.82 314.54
L 632.1 314.75
L 632.38 315.08
L 632.65 315.42
L 632.93 315.72
L 633.21 315.94
L 633.49 316.03
L 633.77 316
L 634.05 315.88
L 634.33 315.73
L 634.61 315.57
L 634.89 315.39
L 635.17 315.19
L 635.45 314.99
L 635.72 314.82
L 636 314.65
L 636.28 314.47
L 636.56 314.3
L 636.84 314.21
L 637.12 314.2
L 637.4 314.26
L 637.68 314.35
L 637.96 314.44
L 638.24 314.51
L 638.51 314.55
L 638.79 314.57
L 639.07 314.59
L 639.35 314.64
L 639.63 314.76
L 639.91 314.91
L 640.19 315.04
L 640.47 315.12
L 640.75 315.15
L 641.02 315.17
L 641.3 315.16
L 641.58 315.1
L 641.86 314.99
L 642.14 314.92
L 642.42 314.96
L 642.7 315.08
L 642.98 315.17
L 643.26 315.19
L 643.54 315.21
L 643.82 315.33
L 644.09 315.52
L 644.37 315.64
L 644.65 315.55
L 644.93 315.28
L 645.21 314.99
L 645.49 314.8
L 645.77 314.75
L 646.05 314.74
L 646.33 314.71
L 646.61 314.69
L 646.88 314.75
L 647.16 314.92
L 647.44 315.15
L 647.72 315.35
L 648 315.46
" clip-path="url(#p30c51ce82e)" style="fill: none; stroke: #9467bd; stroke-width: 1.75; stroke-linecap: round"/>
   </g>
   <g id="patch_3">
    <path d="M 90.5 378.5 L 90.5 52.5" style="fill: none; stroke: #cccccc; stroke-linejoin: miter; stroke-linecap: square"/>
   </g>
   <g id="patch_4">
    <path d="M 648.5 378.5 L 648.5 52.5" style="fill: none; stroke: #cccccc; stroke-linejoin: miter; stroke-linecap: square"/>
   </g>
   <g id="patch_5">
    <path d="M 90.5 378.5 L 648.5 378.5" style="fill: none; stroke: #cccccc; stroke-linejoin: miter; stroke-linecap: square"/>
   </g>
   <g id="patch_6">
    <path d="M 90.5 52.5 L 648.5 52.5" style="fill: none; stroke: #cccccc; stroke-linejoin: miter; stroke-linecap: square"/>
   </g>
   <g id="text_17">
    <text style="font-size: 17.4px; font-family: 'Liberation Sans', Arial, sans-serif; text-anchor: middle; fill: #262626" x="369" y="45.84" transform="rotate(-0 369 45.84)">D4392 V20140 Ch. 3</text>
   </g>
   <g id="legend_1">
    <g id="patch_7">
     <path d="M 100.25 147.49
L 243.77 147.49
Q 246.7 147.49 246.7 144.56
L 246.7 62.09
Q 246.7 59.16 243.77 59.16
L 100.25 59.16
Q 97.33 59.16 97.33 62.09
L 97.33 144.56
Q 97.33 147.49 100.25 147.49
z
" style="fill: #ffffff; opacity: 0.8; stroke: #cccccc; stroke-linejoin: miter"/>
    </g>
    <g id="line2d_113">
     <path d="M 103 71 L 118 71 L 132 71" style="fill: none; stroke: #bcbd22; stroke-width: 1.75; stroke-linecap: round"/>
    </g>
    <g id="text_18">
     <text style="font-size: 14.45px; font-family: 'Liberation Sans', Arial, sans-serif; text-anchor: start; fill: #262626" x="143.0" y="75.64" transform="translate(143.00 75.64) rotate(-0) scale(1 1.03) translate(-143.00 -75.64)">OptoBoard QA</text>
    </g>
    <g id="line2d_114">
     <path d="M 103 91 L 118 91 L 132 91" style="fill: none; stroke: #ff7f0e; stroke-width: 1.75; stroke-linecap: round"/>
    </g>
    <g id="text_19">
     <text style="font-size: 14.45px; font-family: 'Liberation Sans', Arial, sans-serif; text-anchor: start; fill: #262626" x="143.0" y="96.62" transform="translate(143.00 96.62) rotate(-0) scale(1 1.03) translate(-143.00 -96.62)">Post Burn-In</text>
    </g>
    <g id="line2d_115">
     <path d="M 103 112 L 118 112 L 132 112" style="fill: none; stroke: #d62728; stroke-width: 1.75; stroke-linecap: round"/>
    </g>
    <g id="text_20">
     <text style="font-size: 14.45px; font-family: 'Liberation Sans', Arial, sans-serif; text-anchor: start; fill: #262626" x="143.0" y="117.6" transform="translate(143.00 117.60) rotate(-0) scale(1 1.03) translate(-143.00 -117.60)">Pre Burn-In</text>
    </g>
    <g id="line2d_116">
     <path d="M 103 133 L 118 133 L 132 133" style="fill: none; stroke: #9467bd; stroke-width: 1.75; stroke-linecap: round"/>
    </g>
    <g id="text_21">
     <text style="font-size: 14.45px; font-family: 'Liberation Sans', Arial, sans-serif; text-anchor: start; fill: #262626" x="143.0" y="138.59" transform="translate(143.00 138.59) rotate(-0) scale(1 1.03) translate(-143.00 -138.59)">Reception Test</text>
    </g>
   </g>
  </g>
 </g>
 <defs>
  <clipPath id="p30c51ce82e">
   <rect x="90" y="51.84" width="558" height="326.16"/>
  </clipPath>
 </defs>
</svg>

</body></html>
